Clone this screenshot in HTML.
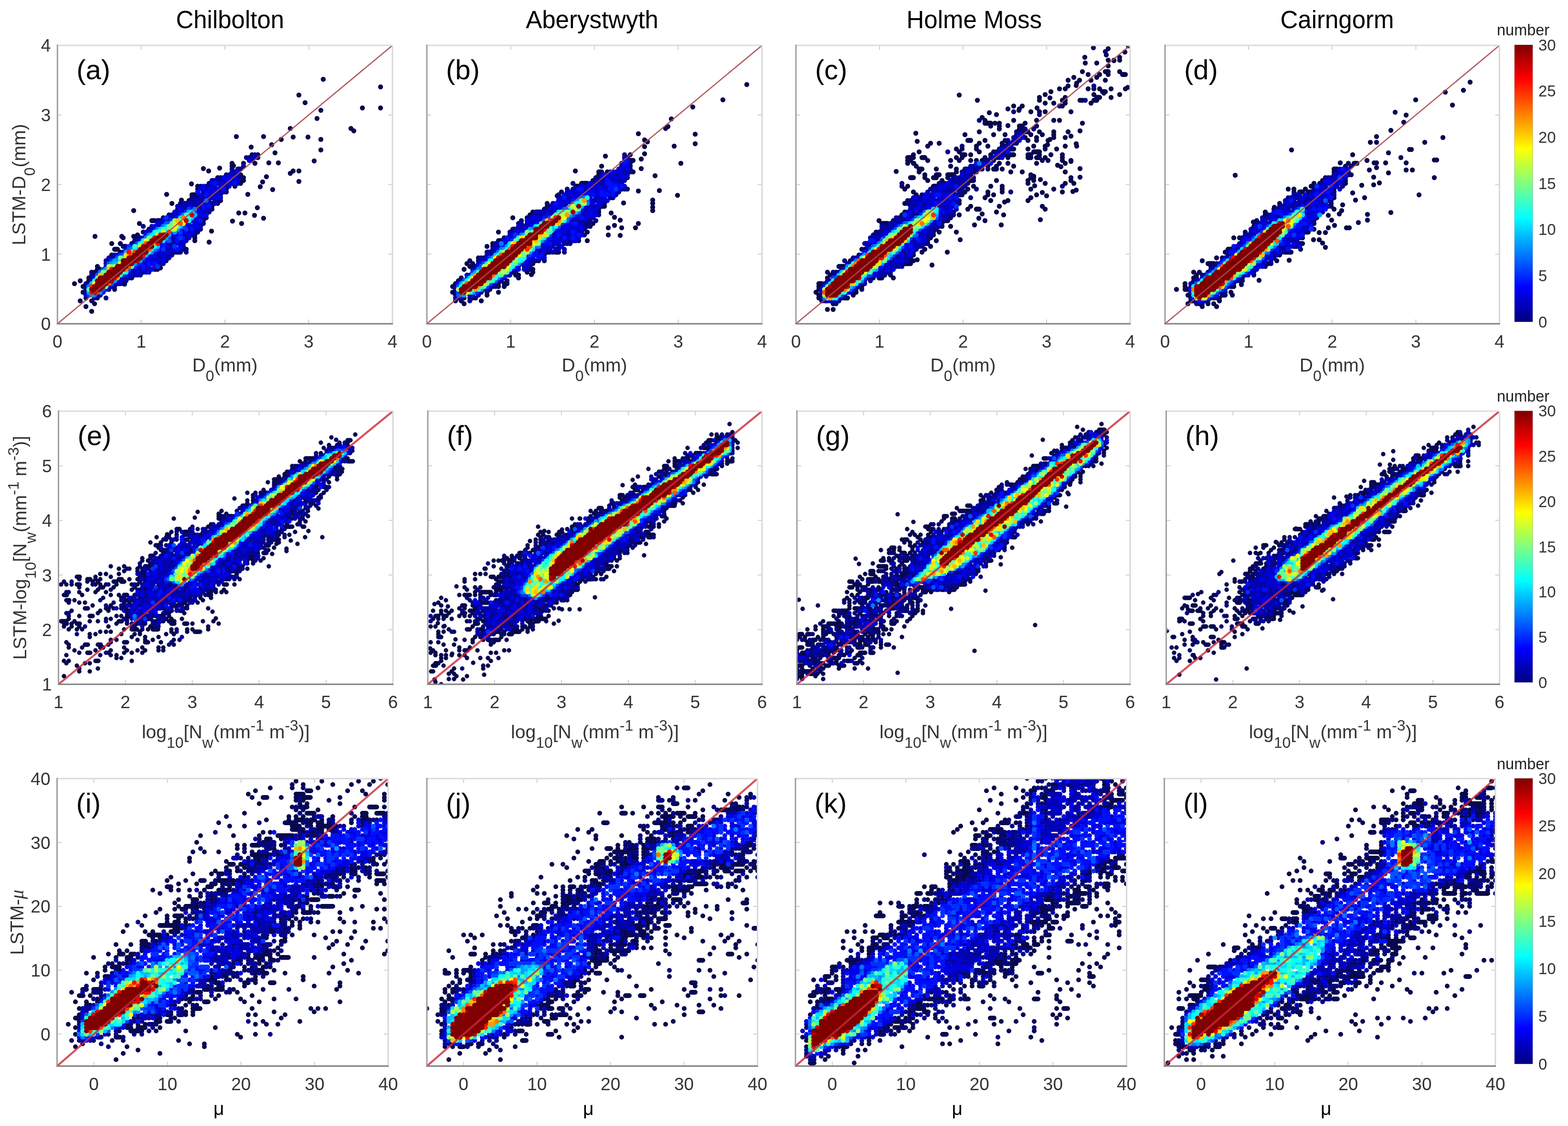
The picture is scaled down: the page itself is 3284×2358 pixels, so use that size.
<!DOCTYPE html><html><head><meta charset="utf-8"><title>LSTM scatter</title><style>html,body{margin:0;padding:0;background:#fff;overflow:hidden}svg{display:block}</style></head><body>
<svg xmlns="http://www.w3.org/2000/svg" width="3284" height="2358" viewBox="0 0 3284 2358" font-family="Liberation Sans, Arial, sans-serif">
<rect width="100%" height="100%" fill="#fff"/>
<defs><linearGradient id="jet" x1="0" y1="1" x2="0" y2="0"><stop offset="0.0000" stop-color="#000080"/><stop offset="0.0312" stop-color="#00009f"/><stop offset="0.0625" stop-color="#0000bf"/><stop offset="0.0938" stop-color="#0000df"/><stop offset="0.1250" stop-color="#0000ff"/><stop offset="0.1562" stop-color="#0020ff"/><stop offset="0.1875" stop-color="#0040ff"/><stop offset="0.2188" stop-color="#0060ff"/><stop offset="0.2500" stop-color="#0080ff"/><stop offset="0.2812" stop-color="#009fff"/><stop offset="0.3125" stop-color="#00bfff"/><stop offset="0.3438" stop-color="#00dfff"/><stop offset="0.3750" stop-color="#00ffff"/><stop offset="0.4062" stop-color="#20ffdf"/><stop offset="0.4375" stop-color="#40ffbf"/><stop offset="0.4688" stop-color="#60ff9f"/><stop offset="0.5000" stop-color="#80ff80"/><stop offset="0.5312" stop-color="#9fff60"/><stop offset="0.5625" stop-color="#bfff40"/><stop offset="0.5938" stop-color="#dfff20"/><stop offset="0.6250" stop-color="#ffff00"/><stop offset="0.6562" stop-color="#ffdf00"/><stop offset="0.6875" stop-color="#ffbf00"/><stop offset="0.7188" stop-color="#ff9f00"/><stop offset="0.7500" stop-color="#ff8000"/><stop offset="0.7812" stop-color="#ff6000"/><stop offset="0.8125" stop-color="#ff4000"/><stop offset="0.8438" stop-color="#ff2000"/><stop offset="0.8750" stop-color="#ff0000"/><stop offset="0.9062" stop-color="#df0000"/><stop offset="0.9375" stop-color="#bf0000"/><stop offset="0.9688" stop-color="#9f0000"/><stop offset="1.0000" stop-color="#800000"/></linearGradient>
<clipPath id="c00"><rect x="120.3" y="95.0" width="701.7" height="583.0"/></clipPath>
<clipPath id="c01"><rect x="894.0" y="95.0" width="702.0" height="583.0"/></clipPath>
<clipPath id="c02"><rect x="1667.0" y="95.0" width="700.0" height="583.0"/></clipPath>
<clipPath id="c03"><rect x="2440.0" y="95.0" width="700.5" height="583.0"/></clipPath>
<clipPath id="c10"><rect x="122.5" y="861.0" width="700.5" height="572.0"/></clipPath>
<clipPath id="c11"><rect x="896.0" y="861.0" width="700.0" height="572.0"/></clipPath>
<clipPath id="c12"><rect x="1669.0" y="861.0" width="698.0" height="572.0"/></clipPath>
<clipPath id="c13"><rect x="2442.5" y="861.0" width="698.1" height="572.0"/></clipPath>
<clipPath id="c20"><rect x="119.5" y="1630.5" width="693.5" height="602.0"/></clipPath>
<clipPath id="c21"><rect x="894.0" y="1630.5" width="692.5" height="602.0"/></clipPath>
<clipPath id="c22"><rect x="1666.0" y="1630.5" width="693.5" height="602.0"/></clipPath>
<clipPath id="c23"><rect x="2438.5" y="1630.5" width="693.5" height="602.0"/></clipPath>
</defs>
<text x="368.4" y="59" font-size="51" fill="#000">Chilbolton</text>
<text x="1101.2" y="59" font-size="51" fill="#000">Aberystwyth</text>
<text x="1898.5" y="59" font-size="51" fill="#000">Holme Moss</text>
<text x="2681.5" y="59" font-size="51" fill="#000">Cairngorm</text>
<g clip-path="url(#c00)">
<path d="M677 166h0M797 182h0M626 199h0M639 215h0M759 226h0M797 226h0M672 231h0M664 248h0M608 269h0M735 269h0M741 274h0M495 286h0M552 286h0M614 287h0M645 287h0M672 292h0M589 292h0M569 303h0M526 308h0M672 314h0M576 320h0M528 324h0M540 324h0M522 330h0M658 337h0M563 341h0M583 341h0M486 342h0M510 342h0M534 342h0M489 347h0M486 348h0M460 352h0M426 353h0M437 358h0M614 358h0M626 358h0M608 363h0M504 366h0M558 370h0M456 372h0M510 372h0M504 378h6M626 380h0M550 381h0M504 384h0M401 385h0M414 390h0M492 390h0M545 391h0M414 396h0M571 397h0M474 402h0M349 407h0M519 407h0M402 408h6M380 419h0M396 420h0M462 420h0M360 426h0M378 426h0M456 426h0M444 432h0M539 435h0M372 438h0M280 441h0M500 446h0M513 446h0M533 451h0M342 456h0M552 457h0M318 462h6M487 463h0M292 468h0M506 468h0M312 480h0M443 484h0M288 492h0M199 495h0M255 495h0M280 495h0M258 498h0M408 498h0M408 504h0M438 507h0M234 510h0M252 510h0M276 510h0M240 522h6M384 522h6M252 528h0M234 534h0M228 546h0M348 546h0M204 558h0M336 561h0M204 564h6M324 564h6M198 570h0M300 570h0M186 582h6M168 588h0M186 588h0M156 594h0M258 594h0M261 595h0M174 600h0M228 606h0M240 606h0M174 612h0M180 624h0M204 624h0M168 630h0M192 630h0M198 636h0M180 642h0M192 652h0" stroke="#08084f" stroke-width="10.4" stroke-linecap="round" fill="none"/><path d="M516 330h0M540 330h0M528 336h0M486 354h0M498 354h6M474 366h0M462 372h0M498 372h6M480 378h0M438 384h0M456 384h0M498 384h0M420 390h0M438 390h0M474 396h0M426 402h0M450 402h0M414 408h0M462 408h0M402 414h18M438 414h0M402 420h0M456 420h0M444 426h0M390 432h0M420 432h0M420 438h0M438 438h6M384 444h0M414 444h0M438 444h0M354 450h0M360 456h0M426 456h6M330 462h6M348 462h0M426 462h0M408 468h0M420 468h6M300 474h0M420 480h0M300 486h0M372 486h0M408 486h6M390 492h0M408 492h0M288 498h6M390 498h0M282 504h6M384 510h0M258 516h6M354 522h0M360 528h18M390 528h0M312 534h0M330 534h0M354 534h6M234 540h0M222 552h0M330 552h0M192 570h0M204 570h0M282 570h0M192 576h6M288 576h0M252 582h0M276 582h0M258 588h6M180 594h6M180 600h0M240 600h0M180 606h0M180 612h0M210 618h0M198 624h0M222 624h0" stroke="#060680" stroke-width="10.4" stroke-linecap="round" fill="none"/><path d="M534 324h0M528 330h6M510 348h0M486 360h6M480 366h18M486 372h0M444 378h24M468 384h6M486 384h0M432 390h0M444 390h6M462 390h18M432 396h0M462 396h0M456 402h12M426 408h0M438 408h12M426 414h6M444 414h0M456 414h0M408 420h18M438 420h0M450 420h0M384 426h54M450 426h0M372 432h12M402 432h12M384 438h6M432 438h0M372 444h0M426 444h6M360 450h12M420 450h0M366 456h0M420 456h0M354 462h0M408 462h0M342 468h0M414 468h0M318 474h0M330 474h6M396 474h0M420 474h0M318 480h0M384 480h0M396 480h0M408 480h6M306 486h6M384 486h0M396 486h0M360 492h0M384 492h0M402 492h0M360 498h6M396 498h0M360 504h6M378 504h0M390 504h0M282 510h0M348 510h18M378 510h0M354 516h6M384 516h0M264 522h0M348 522h0M360 522h0M378 522h0M258 528h0M330 528h0M348 528h0M240 534h0M318 534h0M336 534h12M228 540h0M240 540h0M324 540h12M348 540h6M222 546h0M300 546h0M324 546h0M336 546h0M300 552h6M336 552h6M288 558h6M306 558h0M324 558h0M276 564h6M294 564h0M306 564h0M276 570h0M294 570h0M306 570h0M270 576h12M294 576h0M258 582h12M240 594h12M234 600h0M180 618h0M204 618h0" stroke="#0303b0" stroke-width="10.4" stroke-linecap="round" fill="none"/><path d="M522 336h0M498 360h0M468 372h12M492 372h0M474 378h0M486 378h12M444 384h0M462 384h0M480 384h0M426 390h0M420 396h6M438 396h18M432 402h12M420 408h0M456 408h0M450 414h0M462 414h0M396 432h0M432 432h0M378 438h0M414 438h0M426 438h0M366 444h0M378 444h0M420 444h0M414 450h0M426 450h6M354 456h0M408 456h6M342 462h0M402 462h0M414 462h0M330 468h6M396 468h0M324 474h0M390 474h0M402 474h12M324 480h0M378 480h0M390 486h0M402 486h0M366 492h6M396 492h0M300 498h0M384 504h0M336 510h0M372 510h0M276 516h0M336 516h0M348 516h0M378 516h0M336 522h0M366 522h0M324 528h0M336 528h6M354 528h0M246 534h0M324 534h0M306 540h12M342 540h0M306 546h12M330 546h0M342 546h0M318 552h0M312 558h0M288 564h0M300 564h0M312 564h6M288 570h0M312 570h0M264 576h0M198 582h0M192 588h0M246 588h6M228 600h0M216 612h0" stroke="#0101e1" stroke-width="10.4" stroke-linecap="round" fill="none"/><path d="M450 384h0M492 384h0M468 396h0M414 402h0M432 408h0M426 432h0M438 432h0M402 438h0M378 450h0M372 456h0M420 462h0M390 468h0M402 480h0M318 486h0M306 492h0M378 492h0M354 498h0M372 498h0M384 498h0M294 504h0M348 504h0M372 504h0M342 510h0M342 516h0M372 522h0M294 552h0M312 552h0M324 552h0M222 558h0M300 558h0M270 570h0M222 606h0" stroke="#000dff" stroke-width="10.4" stroke-linecap="round" fill="none"/><path d="M396 438h0M390 444h0M408 444h0M348 456h0M360 462h0M384 474h0M390 480h0M360 486h0M378 486h0M378 498h0M270 516h0M366 516h0M330 522h0M342 522h0M252 534h0M234 546h0M288 552h0M282 558h0M330 558h0M258 576h0M186 618h0" stroke="#0030ff" stroke-width="10.4" stroke-linecap="round" fill="none"/><path d="M432 420h0M348 468h6M354 504h0M288 510h0M270 522h0M258 534h0M246 540h0M300 540h0M228 552h0M216 564h0M270 564h0M204 576h0M234 594h0M216 606h0" stroke="#0054ff" stroke-width="10.4" stroke-linecap="round" fill="none"/><path d="M408 438h0M384 450h0M342 474h0M330 480h0M312 492h0M306 498h0M276 522h0M324 522h0M318 528h0M210 570h0M186 600h0M198 618h0" stroke="#0077ff" stroke-width="10.4" stroke-linecap="round" fill="none"/><path d="M372 480h0M366 486h0M354 492h0M348 498h0M264 528h0M240 546h6M294 546h0M234 552h0M282 552h0M222 564h0M240 588h0M186 612h0M210 612h0M192 618h0" stroke="#009aff" stroke-width="10.4" stroke-linecap="round" fill="none"/><path d="M396 444h0M408 450h0M402 456h0M348 474h0M378 474h0M348 486h0M330 516h0M306 534h0M240 552h6M192 594h0" stroke="#00bdff" stroke-width="10.4" stroke-linecap="round" fill="none"/><path d="M402 444h0M378 456h0M336 480h0M318 492h0M342 504h0M288 516h0M282 522h6M318 522h0M252 546h0M216 576h0" stroke="#00e0ff" stroke-width="10.4" stroke-linecap="round" fill="none"/><path d="M390 456h0M396 462h0M360 474h0M348 480h0M324 486h0M324 492h0M300 504h0M300 510h0M324 516h0M264 570h0" stroke="#04fffb" stroke-width="10.4" stroke-linecap="round" fill="none"/><path d="M396 450h0M396 456h0M342 480h0M330 486h6M318 498h0M294 510h0M282 516h0M312 528h0M258 540h0M252 576h0M198 588h0" stroke="#28ffd7" stroke-width="10.4" stroke-linecap="round" fill="none"/><path d="M390 450h0M378 462h0M360 468h0M276 528h0M222 570h0M258 570h0M186 606h0" stroke="#4bffb4" stroke-width="10.4" stroke-linecap="round" fill="none"/><path d="M372 468h0M354 474h0M372 474h0M354 480h0M312 498h0M312 504h0M252 540h0M264 540h0M234 558h0M276 558h0M216 570h0M204 582h0M222 600h0" stroke="#6eff91" stroke-width="10.4" stroke-linecap="round" fill="none"/><path d="M366 462h0M366 468h0M360 480h6M228 558h0M240 558h0" stroke="#b4ff4b" stroke-width="10.4" stroke-linecap="round" fill="none"/><path d="M342 486h0M330 492h0" stroke="#d7ff28" stroke-width="10.4" stroke-linecap="round" fill="none"/><path d="M384 462h0M384 468h0M366 474h0M306 504h0M294 516h0M252 552h0M198 594h0" stroke="#fbff04" stroke-width="10.4" stroke-linecap="round" fill="none"/><path d="M324 510h0M264 534h0" stroke="#ffe000" stroke-width="10.4" stroke-linecap="round" fill="none"/><path d="M372 462h0M270 534h0M228 564h0M210 576h0" stroke="#ffbd00" stroke-width="10.4" stroke-linecap="round" fill="none"/><path d="M246 582h0" stroke="#ff9a00" stroke-width="10.4" stroke-linecap="round" fill="none"/><path d="M384 456h0M264 564h0" stroke="#ff7700" stroke-width="10.4" stroke-linecap="round" fill="none"/><path d="M378 468h0M306 510h0M312 522h0M282 528h0M276 534h0M270 558h0M228 594h0" stroke="#ff5400" stroke-width="10.4" stroke-linecap="round" fill="none"/><path d="M354 486h0M192 600h0M204 612h0" stroke="#ff3000" stroke-width="10.4" stroke-linecap="round" fill="none"/><path d="M330 510h0M270 528h0M300 534h0M192 612h0" stroke="#ff0d00" stroke-width="10.4" stroke-linecap="round" fill="none"/><path d="M324 498h0M234 564h0" stroke="#e90000" stroke-width="10.4" stroke-linecap="round" fill="none"/><path d="M402 450h0M390 462h0M336 492h0M288 546h0M240 582h0" stroke="#c60000" stroke-width="10.4" stroke-linecap="round" fill="none"/><path d="M300 516h0M234 588h0" stroke="#a30000" stroke-width="10.4" stroke-linecap="round" fill="none"/><path d="M342 492h6M330 498h12M318 504h18M312 510h6M306 516h12M294 522h12M288 528h18M282 534h12M270 540h24M258 546h24M258 552h18M246 558h18M240 564h18M228 570h24M222 576h24M210 582h24M204 588h24M204 594h18M198 600h18M192 606h18M198 612h0" stroke="#800000" stroke-width="10.4" stroke-linecap="round" fill="none"/>
</g>
<line x1="120.3" y1="678.0" x2="822.0" y2="95.0" stroke="#a84a4e" stroke-opacity="0.9" stroke-width="2.6" clip-path="url(#c00)"/>
<path d="M295.7 678.0v-9M295.7 95.0v9M471.2 678.0v-9M471.2 95.0v9M646.6 678.0v-9M646.6 95.0v9M120.3 532.2h9M822.0 532.2h-9M120.3 386.5h9M822.0 386.5h-9M120.3 240.8h9M822.0 240.8h-9" stroke="#cfcfcf" stroke-width="2" fill="none"/>
<path d="M120.3 95.0H822.0" stroke="#dcdcdc" stroke-width="3"/>
<path d="M822.0 95.0V678.0" stroke="#d8d8d8" stroke-width="3"/>
<path d="M120.3 93.5V678.0" stroke="#a0a0a0" stroke-width="3"/>
<path d="M118.8 678.0H823.0" stroke="#808080" stroke-width="3"/>
<text x="120.3" y="728.0" font-size="37" fill="#333" text-anchor="middle">0</text>
<text x="295.7" y="728.0" font-size="37" fill="#333" text-anchor="middle">1</text>
<text x="471.2" y="728.0" font-size="37" fill="#333" text-anchor="middle">2</text>
<text x="646.6" y="728.0" font-size="37" fill="#333" text-anchor="middle">3</text>
<text x="822.0" y="728.0" font-size="37" fill="#333" text-anchor="middle">4</text>
<text x="106.3" y="691.3" font-size="37" fill="#333" text-anchor="end">0</text>
<text x="106.3" y="545.5" font-size="37" fill="#333" text-anchor="end">1</text>
<text x="106.3" y="399.8" font-size="37" fill="#333" text-anchor="end">2</text>
<text x="106.3" y="254.1" font-size="37" fill="#333" text-anchor="end">3</text>
<text x="106.3" y="108.3" font-size="37" fill="#333" text-anchor="end">4</text>
<text x="160.3" y="166.0" font-size="58" fill="#000">(a)</text>
<g clip-path="url(#c01)">
<path d="M1564 177h0M1514 209h0M1451 224h0M1406 249h0M1399 265h0M1394 269h0M1337 280h0M1456 281h0M1350 293h0M1356 297h0M1456 301h0M1412 306h0M1350 307h0M1350 322h0M1320 324h0M1268 327h0M1314 330h0M1343 333h0M1320 336h6M1426 342h0M1260 348h0M1302 348h0M1343 353h0M1205 358h0M1254 360h6M1272 360h0M1314 360h0M1326 360h0M1254 366h0M1372 368h0M1248 372h0M1314 372h0M1242 378h0M1218 384h12M1206 390h6M1302 396h0M1314 396h0M1381 399h0M1337 400h0M1176 402h0M1419 409h0M1167 410h0M1367 419h0M1306 425h0M1146 426h0M1266 426h0M1367 426h0M1146 432h0M1260 432h6M1367 434h0M1254 438h0M1367 441h0M1116 444h0M1254 444h0M1280 446h0M1110 450h0M1287 455h0M1074 456h0M1299 461h0M1092 462h0M1236 462h0M1337 468h0M1242 468h0M1287 472h0M1236 474h0M1274 477h0M1302 477h0M1331 477h0M1044 486h0M1230 486h0M1274 492h0M1299 493h0M1056 498h0M1044 504h6M1194 504h0M1212 504h0M1230 504h0M1032 510h0M1194 510h0M1020 516h0M1032 516h0M1146 522h0M1146 528h6M1164 528h6M1140 534h0M1002 540h0M1014 540h0M984 546h0M1128 546h0M1140 546h0M978 552h0M990 552h0M1116 552h0M984 558h12M972 564h0M1110 564h6M1074 570h6M1104 570h0M1116 570h0M1113 575h0M1080 576h6M966 582h0M1086 582h0M960 588h0M1062 588h0M954 594h0M1038 594h6M1056 594h6M948 600h0M1032 600h0M1044 600h0M1056 600h0M1026 606h0M948 612h0M1008 612h0M1020 612h0M1044 612h0M954 618h0M1020 618h0M960 624h0M972 624h0M996 624h0M954 630h0M966 630h0M1008 630h0M972 636h0" stroke="#08084f" stroke-width="10.4" stroke-linecap="round" fill="none"/><path d="M1308 324h0M1302 342h0M1320 342h0M1320 348h0M1320 354h0M1320 360h0M1290 366h6M1254 372h0M1278 378h0M1296 378h0M1308 378h0M1200 384h0M1224 390h0M1272 390h0M1188 396h0M1200 396h0M1308 396h0M1266 402h0M1296 402h0M1170 408h0M1218 408h0M1236 408h0M1170 414h0M1188 414h0M1278 414h6M1158 426h0M1152 432h0M1230 432h0M1242 432h0M1140 438h6M1224 438h6M1158 444h0M1116 450h6M1140 450h0M1212 450h0M1254 450h0M1104 456h6M1230 462h0M1248 462h0M1086 468h0M1104 468h6M1212 468h24M1224 474h6M1074 480h6M1170 480h0M1188 480h0M1224 480h0M1068 486h6M1194 486h0M1218 486h0M1158 492h0M1224 492h0M1188 504h0M1182 510h0M1134 522h0M1020 528h6M1038 528h0M1182 528h0M1008 540h0M1134 540h0M1002 546h0M1116 546h6M1086 558h0M1098 558h0M1110 558h0M1080 564h0M1104 564h0M1050 588h0M954 600h0M1038 600h0M954 612h0M984 624h6M984 630h0" stroke="#060680" stroke-width="10.4" stroke-linecap="round" fill="none"/><path d="M1308 330h0M1308 336h0M1308 354h0M1278 360h0M1290 360h0M1302 360h6M1260 366h0M1272 366h0M1284 366h0M1308 366h6M1260 372h6M1284 372h0M1296 372h0M1248 378h18M1284 378h6M1302 378h0M1242 384h0M1254 384h12M1296 384h6M1236 390h12M1260 390h6M1224 396h6M1248 396h0M1284 396h0M1188 402h0M1200 402h6M1224 402h6M1242 402h6M1278 402h0M1290 402h0M1188 408h6M1206 408h0M1224 408h0M1254 408h0M1278 408h0M1290 408h0M1176 414h0M1194 414h6M1212 414h0M1236 414h0M1248 414h18M1176 420h6M1194 420h0M1242 420h6M1266 420h0M1170 426h0M1182 426h12M1236 426h0M1254 426h6M1176 432h6M1236 432h0M1248 432h0M1158 438h12M1242 438h0M1122 444h30M1164 444h0M1224 444h0M1242 444h6M1128 450h6M1152 450h0M1218 450h12M1134 456h0M1200 456h0M1212 456h0M1236 456h6M1116 462h0M1128 462h6M1194 462h30M1092 468h0M1116 468h6M1188 468h0M1086 474h18M1176 474h0M1200 474h0M1092 480h0M1104 480h0M1176 480h6M1200 480h12M1086 486h0M1164 486h0M1188 486h0M1212 486h0M1068 492h0M1086 492h0M1164 492h0M1176 492h18M1206 492h0M1074 498h0M1158 498h0M1170 498h6M1194 498h0M1062 504h6M1152 504h6M1176 504h6M1038 510h6M1056 510h0M1140 510h0M1158 510h12M1188 510h0M1038 516h6M1158 516h0M1170 516h0M1032 522h6M1128 522h0M1152 522h0M1164 522h6M1182 522h0M1032 528h0M1128 528h6M1158 528h0M1020 534h12M1128 534h0M1008 546h6M1110 546h0M1002 552h0M1092 552h0M1104 552h6M990 564h6M1098 564h0M978 576h0M1062 576h6M966 588h0M1044 588h0M954 606h0M1014 606h6M984 618h6M1002 618h0M954 624h0M966 624h0" stroke="#0303b0" stroke-width="10.4" stroke-linecap="round" fill="none"/><path d="M1314 342h0M1308 348h6M1296 354h6M1314 354h0M1284 360h0M1296 360h0M1278 366h0M1302 366h0M1272 372h6M1290 372h0M1302 372h6M1236 384h0M1284 384h6M1218 390h0M1230 390h0M1254 390h0M1296 390h0M1308 390h0M1206 396h0M1236 396h6M1254 396h18M1296 396h0M1194 402h0M1212 402h6M1236 402h0M1254 402h0M1272 402h0M1182 408h0M1200 408h0M1212 408h0M1248 408h0M1206 414h0M1170 420h0M1188 420h0M1206 420h0M1236 420h0M1254 420h6M1272 420h0M1176 426h0M1242 426h0M1158 432h12M1224 432h0M1254 432h0M1152 438h0M1176 438h0M1236 438h0M1248 438h0M1218 444h0M1230 444h6M1146 450h0M1236 450h12M1116 456h12M1206 456h0M1224 456h6M1104 462h6M1122 462h0M1182 468h0M1194 468h0M1110 474h0M1182 474h12M1206 474h12M1086 480h0M1098 480h0M1194 480h0M1218 480h0M1080 486h0M1092 486h6M1170 486h12M1206 486h0M1074 492h0M1200 492h0M1218 492h0M1068 498h0M1146 498h0M1164 498h0M1188 498h0M1206 498h6M1056 504h0M1146 504h0M1164 504h6M1200 504h6M1062 510h0M1134 510h0M1146 510h0M1134 516h18M1176 516h0M1044 522h0M1122 522h0M1140 522h0M1122 528h0M1140 528h0M1020 540h0M1104 540h12M1140 540h0M1020 546h0M1104 546h0M1098 552h0M1104 558h0M1074 564h0M1086 564h0M1068 570h0M984 576h0M1050 582h6M960 594h0M1032 594h0M1026 600h0" stroke="#0101e1" stroke-width="10.4" stroke-linecap="round" fill="none"/><path d="M1314 336h0M1308 342h0M1266 366h0M1272 378h0M1272 384h6M1278 390h12M1302 390h0M1212 396h6M1278 396h0M1260 402h0M1284 402h0M1230 408h0M1242 408h0M1260 408h12M1284 408h0M1182 414h0M1200 420h0M1164 426h0M1218 438h0M1206 450h0M1140 456h6M1218 456h0M1128 468h0M1200 468h6M1116 474h0M1164 480h0M1200 486h0M1170 492h0M1212 492h0M1062 498h0M1152 498h0M1182 498h0M1200 498h0M1152 510h0M1050 516h6M1116 528h0M1104 534h0M1116 534h6M1134 534h0M1128 540h0M1008 552h0M1002 558h0M1080 558h0M1002 612h0" stroke="#000dff" stroke-width="10.4" stroke-linecap="round" fill="none"/><path d="M1290 396h0M1194 456h0M1176 468h0M1080 492h0M1152 492h0M1080 498h0M1074 504h0M1140 504h0M1110 534h0M1026 540h0M990 570h0M1056 576h0M978 582h0M1020 600h0M960 612h0M996 612h0" stroke="#0030ff" stroke-width="10.4" stroke-linecap="round" fill="none"/><path d="M1218 414h0M1230 420h0M1200 426h0M1182 438h6M1212 444h0M1200 450h0M1152 456h0M1140 462h0M1188 462h0M1170 474h0M1122 516h0M1014 552h0M1008 558h0M972 588h0M1038 588h0M1026 594h0M960 600h0M960 618h0" stroke="#0054ff" stroke-width="10.4" stroke-linecap="round" fill="none"/><path d="M1224 414h0M1230 426h0M1188 456h0M1116 480h0M1092 492h0M1050 510h0M1128 516h0M1050 522h0M1044 528h0M1002 564h6M1056 564h0M1044 582h0M966 618h0" stroke="#0077ff" stroke-width="10.4" stroke-linecap="round" fill="none"/><path d="M1212 420h0M1194 438h0M1194 450h0M1158 474h0M1110 480h0M1134 504h0M1062 516h0M1056 522h0M1110 528h0M1032 540h0M1086 552h0M996 570h0M966 594h0M1008 606h0M972 618h0" stroke="#009aff" stroke-width="10.4" stroke-linecap="round" fill="none"/><path d="M1218 432h0M1206 444h0M1158 480h0M1098 492h0M1038 534h0M990 576h0M1038 576h0M990 612h0" stroke="#00bdff" stroke-width="10.4" stroke-linecap="round" fill="none"/><path d="M1170 444h0M1122 474h0M1110 486h0M1146 486h0M1140 498h0M1086 504h0M1068 510h0M1116 522h0M1092 546h0M984 582h0" stroke="#00e0ff" stroke-width="10.4" stroke-linecap="round" fill="none"/><path d="M1230 414h0M1206 426h6M1206 432h0M1182 462h0M1164 474h0M1068 516h0M1062 522h0M1098 540h0M1026 546h0M1020 552h0M1074 558h0M1068 564h0M1044 576h0M978 588h0M966 600h0" stroke="#04fffb" stroke-width="10.4" stroke-linecap="round" fill="none"/><path d="M1200 438h0M1182 444h0M1134 468h0M1128 474h0M1152 474h0M1152 486h0M1086 498h0M1128 504h0M1044 534h0M1086 540h6M1032 546h0M1086 546h0M1074 552h0M1038 582h0M1032 588h0M1002 606h0" stroke="#28ffd7" stroke-width="10.4" stroke-linecap="round" fill="none"/><path d="M1194 432h0M1212 438h0M1176 444h0M1164 450h0M1176 456h0M1104 492h0M1134 498h0M1116 516h0M1050 528h0M1074 546h0M1080 552h0M1002 570h0M1062 570h0M1050 576h0M1032 582h0M1020 588h6M972 594h0M1008 600h6M990 606h0M984 612h0" stroke="#4bffb4" stroke-width="10.4" stroke-linecap="round" fill="none"/><path d="M1218 420h0M1218 426h0M1194 444h0M1146 480h6M1116 486h0M1134 492h0M1080 504h0M1092 528h6M1092 534h6M1068 558h0M1050 564h0M1020 594h0" stroke="#6eff91" stroke-width="10.4" stroke-linecap="round" fill="none"/><path d="M1188 444h0M1176 462h0M1104 486h0M1140 486h0M1146 492h0M1128 510h0M1110 522h0M1080 540h0M1080 546h0M1068 552h0M1044 570h6" stroke="#91ff6e" stroke-width="10.4" stroke-linecap="round" fill="none"/><path d="M1224 426h0M1206 438h0M1170 450h12M1158 456h0M1122 510h0M1056 528h0M1104 528h0M1014 558h0M1062 564h0M1056 570h0M984 588h0M960 606h0" stroke="#b4ff4b" stroke-width="10.4" stroke-linecap="round" fill="none"/><path d="M1200 432h0M1026 552h0M1020 558h0M1062 558h0" stroke="#d7ff28" stroke-width="10.4" stroke-linecap="round" fill="none"/><path d="M1182 456h0M1164 468h0M1098 498h0M1116 504h0M1074 510h0M1116 510h0M1086 534h0M1038 540h0M978 612h0" stroke="#fbff04" stroke-width="10.4" stroke-linecap="round" fill="none"/><path d="M1140 492h0M1092 498h0M1128 498h0M1098 522h0M990 582h0M1014 594h0" stroke="#ffe000" stroke-width="10.4" stroke-linecap="round" fill="none"/><path d="M1146 462h0M1170 468h0M1128 492h0M1122 504h0M1080 510h0M1104 516h0" stroke="#ffbd00" stroke-width="10.4" stroke-linecap="round" fill="none"/><path d="M1224 420h0M1188 450h0M1170 462h0M996 576h0M1002 600h0M996 606h0" stroke="#ff9a00" stroke-width="10.4" stroke-linecap="round" fill="none"/><path d="M1032 576h0" stroke="#ff7700" stroke-width="10.4" stroke-linecap="round" fill="none"/><path d="M1110 516h0M1068 522h0M1050 534h0M978 594h0" stroke="#ff5400" stroke-width="10.4" stroke-linecap="round" fill="none"/><path d="M1152 462h0M1104 522h0" stroke="#ff3000" stroke-width="10.4" stroke-linecap="round" fill="none"/><path d="M1074 516h0" stroke="#ff0d00" stroke-width="10.4" stroke-linecap="round" fill="none"/><path d="M1164 456h0M1140 480h0" stroke="#e90000" stroke-width="10.4" stroke-linecap="round" fill="none"/><path d="M1134 486h0M1044 540h0M1026 582h0" stroke="#c60000" stroke-width="10.4" stroke-linecap="round" fill="none"/><path d="M1200 444h0M1038 570h0" stroke="#a30000" stroke-width="10.4" stroke-linecap="round" fill="none"/><path d="M1212 432h0M1170 456h0M1158 462h6M1140 468h18M1134 474h12M1122 480h12M1122 486h6M1110 492h12M1104 498h18M1092 504h18M1086 510h24M1080 516h18M1074 522h18M1062 528h24M1056 534h24M1050 540h24M1038 546h30M1032 552h30M1026 558h30M1014 564h30M1008 570h24M1002 576h24M996 582h24M990 588h24M984 594h24M972 600h24M966 606h18M966 612h6" stroke="#800000" stroke-width="10.4" stroke-linecap="round" fill="none"/>
</g>
<line x1="894.0" y1="678.0" x2="1596.0" y2="95.0" stroke="#a84a4e" stroke-opacity="0.9" stroke-width="2.6" clip-path="url(#c01)"/>
<path d="M1069.5 678.0v-9M1069.5 95.0v9M1245.0 678.0v-9M1245.0 95.0v9M1420.5 678.0v-9M1420.5 95.0v9M894.0 532.2h9M1596.0 532.2h-9M894.0 386.5h9M1596.0 386.5h-9M894.0 240.8h9M1596.0 240.8h-9" stroke="#cfcfcf" stroke-width="2" fill="none"/>
<path d="M894.0 95.0H1596.0" stroke="#dcdcdc" stroke-width="3"/>
<path d="M1596.0 95.0V678.0" stroke="#d8d8d8" stroke-width="3"/>
<path d="M894.0 93.5V678.0" stroke="#a0a0a0" stroke-width="3"/>
<path d="M892.5 678.0H1597.0" stroke="#808080" stroke-width="3"/>
<text x="894.0" y="728.0" font-size="37" fill="#333" text-anchor="middle">0</text>
<text x="1069.5" y="728.0" font-size="37" fill="#333" text-anchor="middle">1</text>
<text x="1245.0" y="728.0" font-size="37" fill="#333" text-anchor="middle">2</text>
<text x="1420.5" y="728.0" font-size="37" fill="#333" text-anchor="middle">3</text>
<text x="1596.0" y="728.0" font-size="37" fill="#333" text-anchor="middle">4</text>
<text x="934.0" y="166.0" font-size="58" fill="#000">(b)</text>
<g clip-path="url(#c02)">
<path d="M2363 90h0M2363 96h0M2290 100h0M2321 102h0M2356 109h0M2317 115h0M2345 120h0M2272 120h0M2321 126h0M2333 126h0M2345 126h0M2333 127h0M2273 132h0M2297 132h0M2321 138h0M2267 150h0M2315 150h6M2345 150h0M2279 156h0M2303 156h0M2321 156h0M2351 156h6M2249 162h0M2297 162h0M2237 168h0M2261 168h0M2285 168h0M2315 168h0M2255 174h0M2254 179h0M2237 180h0M2362 183h0M2219 186h0M2231 186h0M2279 186h0M2291 186h0M2303 186h0M2327 186h0M2357 186h0M2201 192h0M2309 192h6M2312 195h0M2189 198h0M2291 198h0M2345 198h0M2009 199h0M2177 204h0M2231 204h0M2297 204h6M2327 204h0M2199 205h0M2047 210h0M2262 210h0M2177 210h0M2225 210h6M2267 210h0M2291 210h6M2189 216h0M2207 216h0M2231 216h0M2285 216h0M2123 222h0M2141 222h0M2225 222h0M2172 226h0M2111 228h0M2135 228h0M2134 231h0M2159 234h0M2177 234h0M2189 234h0M2243 234h0M2072 236h0M2087 240h0M2057 246h0M2063 252h0M2123 252h0M2171 252h0M2207 252h0M2219 252h0M2063 258h12M2084 258h0M2093 258h0M2147 258h0M2267 258h0M2111 263h0M2075 264h0M2093 264h0M2135 264h6M2171 264h0M2093 270h0M2135 270h6M2262 274h0M2051 276h0M2147 276h6M2177 276h0M2207 276h0M2237 276h0M1918 279h0M2021 282h0M2081 282h0M2105 282h0M2159 282h0M2183 282h0M2207 282h0M2243 285h0M2147 288h0M2171 288h0M2207 288h0M2231 288h0M2199 292h0M2027 294h6M2063 294h0M2105 294h0M2153 294h0M2171 294h0M2195 294h0M1921 296h0M1949 300h0M1967 300h0M2051 300h0M2099 300h0M2111 300h0M2129 300h0M2254 301h0M2194 303h0M1943 306h0M2045 306h0M2069 306h0M2099 306h0M2165 306h0M2189 306h0M2231 306h0M2255 306h0M2003 312h0M2015 312h0M2045 312h0M2117 312h6M2153 312h0M2189 312h0M2213 312h0M1925 318h0M2009 318h0M2051 318h0M2081 318h0M2165 318h12M1913 324h0M2015 324h6M2033 324h0M2075 324h0M2105 324h18M2153 324h6M2177 324h0M2201 324h0M2225 324h0M1901 330h12M1931 330h6M2003 330h0M2015 330h0M2063 330h0M2093 330h0M2111 330h0M2153 330h6M2171 330h6M2189 330h0M2225 330h0M1901 336h6M1943 336h0M1991 336h0M2009 336h0M2033 336h0M2045 336h0M2057 336h6M2081 336h0M2183 336h0M2195 336h0M2225 336h0M2243 336h0M2243 338h0M1901 342h0M1913 342h0M2093 342h0M2111 342h0M2171 342h0M2231 342h0M1914 342h0M2215 346h0M1919 348h0M1991 348h0M2069 348h0M2087 348h0M2123 348h0M2222 349h0M2262 353h0M1925 354h6M1961 354h0M2003 354h0M2069 354h0M2081 354h6M2099 354h0M1877 359h0M1925 360h0M2003 360h0M2045 360h0M2117 360h0M2141 360h0M2231 360h0M1937 366h0M1961 366h6M1985 366h12M2033 366h0M2159 366h0M2165 369h0M2262 371h0M1907 372h6M1937 372h0M1955 372h6M1985 372h0M2159 372h6M2243 372h0M2179 376h0M1943 378h0M1973 378h0M2033 378h6M2087 378h0M2153 378h0M2165 378h0M2243 378h0M1973 384h0M2153 384h0M2189 384h0M2231 384h0M2249 384h0M2167 389h0M1889 390h0M1901 390h0M1955 390h6M2039 390h0M2075 390h0M2099 390h0M1895 396h0M2015 396h0M2027 396h0M2099 396h0M2159 396h0M2207 396h0M2254 398h0M2247 401h0M1913 402h0M2021 402h0M2069 402h0M2099 402h0M2225 402h0M2183 403h0M1919 408h0M1931 408h0M2009 408h6M2069 408h0M2081 408h0M2171 408h0M2192 410h0M2063 414h0M2159 414h0M1901 420h0M2009 420h0M2075 420h0M2111 420h0M2153 420h0M2104 423h0M1895 426h0M2009 426h0M2033 432h0M2093 432h0M2183 432h0M2027 438h0M2045 438h6M2189 438h0M1895 444h0M1997 444h0M2087 444h0M2057 448h0M2102 450h0M1889 450h0M1991 450h0M2009 450h0M1883 456h0M2050 457h0M2179 460h0M1841 462h0M1871 462h0M1979 462h6M2063 462h0M1847 468h12M2041 471h0M2097 471h0M1973 474h0M1991 474h0M1847 480h0M1955 480h6M1835 486h0M1967 486h0M2003 486h0M1955 492h0M1949 498h0M2011 502h0M1931 504h0M1943 504h0M1961 504h0M1949 516h0M1805 522h0M1937 522h0M1913 528h0M1931 528h0M1984 528h0M1799 534h0M1913 534h0M1907 540h0M1921 544h0M1781 546h0M1907 546h6M1895 552h12M1952 555h0M1757 558h12M1733 570h0M1751 570h0M1859 570h0M1739 576h0M1865 576h0M1733 582h0M1829 582h0M1841 582h6M1871 582h0M1715 594h6M1805 594h0M1715 600h6M1799 600h6M1715 606h0M1805 606h0M1709 612h0M1787 612h6M1715 618h0M1787 618h0M1715 624h0M1769 624h6M1721 630h0M1745 636h0M1733 648h0M1745 648h0" stroke="#08084f" stroke-width="10.4" stroke-linecap="round" fill="none"/><path d="M2315 108h0M2291 180h0M2273 210h0M2219 222h0M2123 234h0M2177 240h0M2051 252h0M2147 270h0M2165 270h0M2129 276h12M2129 282h0M2129 288h0M2111 294h0M2129 294h0M2123 300h0M2015 306h0M2105 306h6M2093 312h0M1985 318h0M2087 318h0M2105 318h0M2075 330h0M2087 330h0M2069 336h0M2057 342h0M2069 342h0M2039 348h0M2051 348h0M2021 354h6M2039 354h6M2057 354h0M2015 360h6M2039 360h0M2021 366h0M1997 372h0M2009 372h0M2021 372h0M2033 372h6M1997 378h0M2009 378h0M1889 384h0M1967 384h0M1979 384h0M1997 384h18M2027 384h0M1985 390h0M2021 390h0M2225 390h0M1949 396h0M1991 396h0M2009 396h0M2045 396h0M1967 402h0M1991 402h6M2015 402h0M2117 402h0M1985 408h0M1997 408h0M1931 414h0M1949 414h0M1973 414h6M1997 414h0M2033 414h0M1907 420h0M1919 420h12M1943 420h0M1991 420h0M1901 426h6M1937 426h0M1973 426h0M1985 426h0M2003 426h0M1913 432h6M1937 432h0M1967 432h0M1979 432h0M1997 432h0M1931 438h0M1973 438h0M1913 444h0M1985 444h0M1913 450h6M1985 450h0M1997 450h0M1889 456h0M1973 456h0M1985 456h6M1877 462h0M1973 462h0M1883 468h0M1973 468h0M1853 474h6M1871 474h0M1955 474h0M1967 474h0M1853 480h0M1937 480h0M1841 486h6M1931 486h0M1955 486h0M1829 492h6M1943 492h0M1823 498h0M1913 498h0M1925 498h0M1943 498h0M1835 504h0M1907 504h0M1823 510h0M1931 510h12M1823 516h0M1901 516h0M1931 516h0M1811 522h0M1889 522h0M1907 522h0M1919 522h0M1889 528h6M1877 534h0M1895 534h0M1787 540h0M1871 540h18M1769 546h0M1865 546h6M1865 552h0M1877 558h0M1889 558h0M1763 564h0M1865 564h0M1745 570h0M1745 576h0M1847 576h6M1817 582h6M1733 588h0M1823 588h0M1727 594h0M1793 606h0M1721 618h0M1721 624h0M1763 624h0M1745 630h0M1757 630h0M1751 636h0" stroke="#060680" stroke-width="10.4" stroke-linecap="round" fill="none"/><path d="M2141 282h0M2123 288h0M2123 294h0M2135 294h0M2117 306h0M2105 312h6M2093 318h6M2093 324h6M2081 330h0M2033 348h0M2045 348h0M2057 348h0M2033 354h0M2051 354h0M2033 360h0M2027 366h0M2003 372h0M2015 372h0M2027 372h0M1991 378h0M2003 378h0M2015 378h6M2021 384h0M1967 390h0M1991 390h6M2009 390h6M1955 396h6M1973 396h12M1997 396h6M1943 402h0M1955 402h6M1973 402h12M2009 402h0M1949 408h0M1973 408h0M2003 408h0M1913 414h0M1925 414h0M1943 414h0M1985 414h0M1913 420h0M1961 420h0M1973 420h6M1997 420h6M1913 426h6M1931 426h0M1943 426h12M1967 426h0M1991 426h0M1907 432h0M1931 432h0M1955 432h0M1973 432h0M1985 432h0M1907 438h6M1925 438h0M1937 438h6M1979 438h6M2003 438h0M1901 444h0M1919 444h12M1967 444h0M1907 450h0M1925 450h0M1973 450h6M1877 456h0M1895 456h0M1907 456h6M1979 456h0M1883 462h18M1865 468h12M1889 468h0M1955 468h6M1847 474h0M1865 474h0M1943 474h6M1961 474h0M1859 480h12M1943 480h6M1859 486h0M1943 486h6M1841 492h12M1925 492h12M1949 492h0M1829 498h12M1937 498h0M1841 504h0M1913 504h6M1811 510h6M1829 510h0M1901 510h0M1913 510h12M1817 516h0M1913 516h12M1817 522h0M1895 522h0M1901 528h0M1883 534h0M1901 534h0M1793 540h0M1895 540h6M1787 546h0M1883 546h0M1895 546h6M1775 552h6M1853 552h6M1871 552h18M1853 558h0M1865 558h6M1883 558h0M1847 564h6M1757 570h0M1829 570h0M1841 570h12M1865 570h0M1751 576h0M1841 576h0M1739 588h0M1811 588h0M1811 594h0M1793 600h0M1787 606h0M1721 612h0M1769 618h0M1757 624h0M1727 630h6M1751 630h0" stroke="#0303b0" stroke-width="10.4" stroke-linecap="round" fill="none"/><path d="M2135 282h0M2141 288h0M2117 300h0M2099 312h0M2087 324h0M2099 330h0M2063 342h0M2027 360h0M2015 366h0M1985 384h6M1973 390h6M1967 396h0M1937 408h6M1955 408h0M1979 408h0M1919 414h0M1937 414h0M1955 414h0M1967 414h0M1937 420h0M1949 420h6M1967 420h0M1985 420h0M1925 426h0M1979 426h0M1925 432h0M1943 432h6M1991 432h0M1919 438h0M1991 438h0M1907 444h0M1973 444h6M1991 444h0M1901 450h0M1967 450h0M1901 456h0M1967 456h0M1907 462h0M1955 462h12M1949 468h0M1877 474h0M1931 480h0M1853 486h0M1865 486h0M1925 486h0M1937 486h0M1859 492h0M1931 498h0M1937 504h0M1835 510h0M1907 510h0M1895 516h0M1901 522h0M1913 522h0M1883 528h0M1907 528h0M1889 534h0M1907 534h0M1799 540h0M1877 546h0M1889 546h0M1859 558h0M1841 564h0M1859 564h0M1871 564h0M1835 570h0M1829 576h6M1721 606h0M1775 612h6M1739 630h0" stroke="#0101e1" stroke-width="10.4" stroke-linecap="round" fill="none"/><path d="M2135 288h0M2111 318h0M2045 342h0M2075 342h0M2003 390h0M1961 408h6M1991 408h0M1991 414h0M2003 414h0M1961 426h0M1997 426h0M1949 438h0M1967 438h0M1967 468h0M1919 486h0M1919 498h0M1823 504h6M1925 504h0M1895 510h0M1907 516h0M1811 528h0M1805 534h0M1859 546h0M1841 558h6M1769 564h0M1733 594h0M1799 594h0M1727 600h0" stroke="#000dff" stroke-width="10.4" stroke-linecap="round" fill="none"/><path d="M2003 432h0M1895 450h0M1931 450h0M1883 474h0M1937 474h0M1853 498h0M1907 498h0M1823 522h0M1871 534h0M1865 540h0M1817 576h6M1745 582h0M1811 582h0M1763 618h0" stroke="#0030ff" stroke-width="10.4" stroke-linecap="round" fill="none"/><path d="M1937 444h0M1919 456h0M1961 456h0M1913 462h0M1895 468h0M1877 480h0M1925 480h0M1919 492h0M1847 504h0M1829 516h0M1889 516h0M1751 582h0M1781 606h0" stroke="#0054ff" stroke-width="10.4" stroke-linecap="round" fill="none"/><path d="M2051 342h0M1901 468h0M1913 492h0M1841 510h0M1877 528h0M1793 546h0M1775 558h0M1805 588h0M1787 600h0M1727 624h0" stroke="#0077ff" stroke-width="10.4" stroke-linecap="round" fill="none"/><path d="M1961 450h0M1949 462h0M1943 468h0M1889 474h0M1835 516h0M1883 522h0M1811 534h0M1847 552h0M1835 564h0" stroke="#009aff" stroke-width="10.4" stroke-linecap="round" fill="none"/><path d="M1925 456h0M1871 486h0M1901 504h0M1865 534h0M1835 552h0M1763 570h0M1757 576h0M1781 600h0" stroke="#00bdff" stroke-width="10.4" stroke-linecap="round" fill="none"/><path d="M1955 438h0M1961 444h0M1901 474h0M1931 474h0M1847 510h0M1829 522h0M1823 528h0M1865 528h0M1859 534h0M1859 540h0M1775 564h0M1829 564h0M1817 570h0M1793 588h0M1739 594h0M1757 618h0" stroke="#00e0ff" stroke-width="10.4" stroke-linecap="round" fill="none"/><path d="M1961 438h0M1931 456h6M1907 468h0M1877 486h0M1913 486h0M1883 516h0M1847 546h0M1787 552h0M1811 576h0M1805 582h0M1793 594h0M1751 624h0" stroke="#04fffb" stroke-width="10.4" stroke-linecap="round" fill="none"/><path d="M1955 444h0M1883 486h0M1805 540h0M1823 564h0M1745 588h0M1769 612h0M1745 624h0" stroke="#28ffd7" stroke-width="10.4" stroke-linecap="round" fill="none"/><path d="M1937 468h0M1919 474h0M1913 480h6M1865 492h0M1859 498h0M1841 516h0M1871 528h0M1781 558h0M1823 570h0M1799 588h0M1763 612h0" stroke="#4bffb4" stroke-width="10.4" stroke-linecap="round" fill="none"/><path d="M1937 450h0M1949 450h0M1919 462h0M1931 462h0M1913 468h0M1883 480h6M1871 492h0M1901 498h0M1853 504h0M1889 510h0M1877 522h0M1853 546h0M1763 576h0M1805 576h0M1733 600h0M1733 624h0" stroke="#6eff91" stroke-width="10.4" stroke-linecap="round" fill="none"/><path d="M1943 444h6M1949 456h0M1943 462h0M1925 474h0M1907 492h0M1865 498h0M1853 540h0M1775 606h0" stroke="#91ff6e" stroke-width="10.4" stroke-linecap="round" fill="none"/><path d="M1925 462h0M1919 468h0M1895 474h0M1913 474h0M1871 522h0M1835 558h0M1727 618h0" stroke="#b4ff4b" stroke-width="10.4" stroke-linecap="round" fill="none"/><path d="M1877 492h0M1835 522h0M1829 558h0M1769 570h0M1727 606h0" stroke="#d7ff28" stroke-width="10.4" stroke-linecap="round" fill="none"/><path d="M1943 456h0M1937 462h0M1811 540h0M1811 570h0" stroke="#fbff04" stroke-width="10.4" stroke-linecap="round" fill="none"/><path d="M1943 450h0M1925 468h0M1871 498h0M1895 504h0M1853 510h0M1877 516h0M1841 546h0M1841 552h0M1787 594h0" stroke="#ffe000" stroke-width="10.4" stroke-linecap="round" fill="none"/><path d="M1955 456h0M1859 504h0M1781 594h0" stroke="#ffbd00" stroke-width="10.4" stroke-linecap="round" fill="none"/><path d="M1859 528h0M1739 624h0" stroke="#ff9a00" stroke-width="10.4" stroke-linecap="round" fill="none"/><path d="M1931 468h0M1793 552h0M1787 558h0M1769 606h0" stroke="#ff7700" stroke-width="10.4" stroke-linecap="round" fill="none"/><path d="M1853 534h0M1799 546h0M1727 612h0" stroke="#ff5400" stroke-width="10.4" stroke-linecap="round" fill="none"/><path d="M1955 450h0M1817 534h0" stroke="#ff3000" stroke-width="10.4" stroke-linecap="round" fill="none"/><path d="M1847 540h0" stroke="#ff0d00" stroke-width="10.4" stroke-linecap="round" fill="none"/><path d="M1841 522h0M1841 540h0" stroke="#e90000" stroke-width="10.4" stroke-linecap="round" fill="none"/><path d="M1775 570h0M1799 582h0M1739 600h0M1775 600h0" stroke="#c60000" stroke-width="10.4" stroke-linecap="round" fill="none"/><path d="M1847 516h0" stroke="#a30000" stroke-width="10.4" stroke-linecap="round" fill="none"/><path d="M1907 474h0M1895 480h12M1889 486h18M1883 492h18M1877 498h18M1865 504h24M1859 510h24M1853 516h18M1847 522h18M1829 528h24M1823 534h24M1817 540h18M1805 546h30M1799 552h30M1793 558h30M1781 564h36M1781 570h24M1769 576h30M1757 582h36M1751 588h36M1745 594h30M1745 600h24M1733 606h30M1733 612h24M1733 618h18" stroke="#800000" stroke-width="10.4" stroke-linecap="round" fill="none"/>
</g>
<line x1="1667.0" y1="678.0" x2="2367.0" y2="95.0" stroke="#a84a4e" stroke-opacity="0.9" stroke-width="2.6" clip-path="url(#c02)"/>
<path d="M1842.0 678.0v-9M1842.0 95.0v9M2017.0 678.0v-9M2017.0 95.0v9M2192.0 678.0v-9M2192.0 95.0v9M1667.0 532.2h9M2367.0 532.2h-9M1667.0 386.5h9M2367.0 386.5h-9M1667.0 240.8h9M2367.0 240.8h-9" stroke="#cfcfcf" stroke-width="2" fill="none"/>
<path d="M1667.0 95.0H2367.0" stroke="#dcdcdc" stroke-width="3"/>
<path d="M2367.0 95.0V678.0" stroke="#d8d8d8" stroke-width="3"/>
<path d="M1667.0 93.5V678.0" stroke="#a0a0a0" stroke-width="3"/>
<path d="M1665.5 678.0H2368.0" stroke="#808080" stroke-width="3"/>
<text x="1667.0" y="728.0" font-size="37" fill="#333" text-anchor="middle">0</text>
<text x="1842.0" y="728.0" font-size="37" fill="#333" text-anchor="middle">1</text>
<text x="2017.0" y="728.0" font-size="37" fill="#333" text-anchor="middle">2</text>
<text x="2192.0" y="728.0" font-size="37" fill="#333" text-anchor="middle">3</text>
<text x="2367.0" y="728.0" font-size="37" fill="#333" text-anchor="middle">4</text>
<text x="1707.0" y="166.0" font-size="58" fill="#000">(c)</text>
<g clip-path="url(#c03)">
<path d="M3079 172h0M3065 189h0M3027 193h0M2965 209h0M3042 220h0M2922 235h0M2945 241h0M2940 256h0M2913 273h0M2883 286h0M3022 288h0M2870 298h0M2883 298h0M2984 298h0M2952 313h0M2956 313h0M2705 314h0M2908 320h0M2833 324h0M2934 330h0M3004 335h0M3009 335h0M2863 336h0M2807 341h0M2878 341h0M2883 341h0M2902 341h0M2945 341h0M2824 342h0M2836 342h6M2818 348h0M2883 351h0M2794 354h6M2868 356h0M2945 356h0M2958 356h0M2794 360h0M2908 362h0M2830 366h0M2587 367h0M2877 371h0M3004 372h0M2776 372h0M2770 378h0M2818 378h0M2889 383h0M2752 384h0M2764 384h0M2818 384h0M2877 387h0M2852 388h0M2746 390h6M2698 396h0M2710 396h0M2734 396h0M2794 396h0M2710 402h0M2722 402h6M2740 402h6M2833 404h0M2972 408h0M2858 414h0M2794 414h0M2839 419h0M2680 426h0M2788 426h0M2812 429h0M2788 432h0M2669 434h0M2668 438h0M2794 438h0M2810 441h0M2650 444h0M2650 445h0M2913 445h0M2805 448h0M2864 449h0M2650 450h0M2782 451h0M2650 456h0M2758 456h0M2789 461h0M2864 461h0M2632 462h0M2625 465h0M2845 466h0M2752 468h0M2795 472h0M2626 474h0M2782 477h0M2820 477h0M2826 477h0M2752 480h0M2608 486h0M2734 486h6M2763 487h0M2776 487h0M2584 498h0M2596 498h0M2728 498h0M2751 502h0M2763 502h0M2770 509h0M2722 510h6M2776 518h0M2724 522h0M2572 522h6M2566 528h0M2692 528h12M2680 534h0M2548 540h0M2560 540h0M2668 540h0M2700 545h0M2518 546h0M2674 546h0M2530 552h12M2650 552h6M2536 558h0M2650 558h0M2500 570h0M2512 570h0M2506 576h0M2626 576h0M2500 582h6M2602 582h0M2637 587h0M2500 588h0M2596 588h0M2482 594h0M2600 596h0M2482 600h0M2578 600h6M2464 606h0M2482 606h6M2562 608h0M2578 612h0M2581 618h0M2488 618h6M2560 618h6M2542 624h0M2554 624h0M2494 630h6M2530 630h0M2554 630h0M2488 636h0M2512 636h0M2530 636h0M2542 636h0M2518 642h0M2548 642h0" stroke="#08084f" stroke-width="10.4" stroke-linecap="round" fill="none"/><path d="M2830 348h0M2800 360h0M2824 360h0M2824 366h0M2782 372h0M2800 372h0M2818 372h0M2794 378h0M2788 384h0M2800 384h0M2812 384h0M2764 390h0M2812 390h0M2752 396h0M2752 402h0M2794 402h0M2740 408h0M2788 408h6M2698 414h0M2740 414h0M2722 420h0M2734 420h0M2770 420h0M2782 420h6M2734 426h0M2770 426h0M2680 432h0M2698 432h0M2710 432h6M2674 438h0M2710 438h0M2770 438h0M2746 444h6M2656 450h0M2674 450h0M2692 450h0M2674 456h6M2746 462h6M2632 468h6M2626 480h0M2638 480h0M2740 480h0M2620 486h0M2710 486h0M2608 492h0M2626 492h0M2602 498h0M2620 498h0M2704 504h6M2686 516h0M2710 516h6M2686 522h6M2572 528h0M2668 528h0M2686 528h0M2572 534h6M2650 540h0M2548 552h0M2662 552h0M2542 558h0M2536 564h0M2530 570h0M2518 576h0M2608 576h0M2590 588h0M2602 588h0M2584 594h0M2494 600h0M2560 612h6M2494 624h0M2548 624h0M2506 636h0M2518 636h0" stroke="#060680" stroke-width="10.4" stroke-linecap="round" fill="none"/><path d="M2806 354h0M2818 354h0M2812 360h0M2794 366h6M2812 366h0M2788 372h6M2788 378h0M2812 378h0M2770 384h6M2776 390h0M2800 390h0M2764 396h18M2806 396h0M2764 402h0M2788 402h0M2710 408h12M2776 408h0M2704 414h18M2734 414h0M2746 414h12M2770 414h6M2692 420h6M2710 420h0M2728 420h0M2740 420h12M2764 420h0M2692 426h0M2704 426h24M2776 426h0M2686 432h6M2704 432h0M2722 432h0M2734 432h12M2758 432h0M2782 432h0M2680 438h6M2698 438h0M2734 438h6M2698 444h6M2740 444h0M2758 444h0M2770 444h0M2662 450h0M2680 450h0M2734 450h6M2644 456h0M2656 456h0M2686 456h0M2644 462h6M2662 462h0M2674 462h0M2728 462h6M2656 468h6M2716 468h6M2746 468h0M2650 474h0M2728 474h12M2620 480h0M2644 480h0M2716 480h0M2728 480h0M2638 486h0M2698 486h0M2722 486h6M2614 492h6M2614 498h0M2692 498h18M2722 498h0M2602 504h0M2698 504h0M2716 504h0M2596 510h6M2680 510h0M2716 510h0M2590 516h6M2674 516h6M2692 516h6M2584 522h6M2668 522h0M2680 522h0M2674 528h0M2656 534h0M2668 534h6M2566 540h6M2656 540h0M2662 546h0M2638 552h6M2548 558h0M2626 558h0M2638 558h0M2542 564h0M2620 564h12M2614 570h0M2626 570h0M2524 576h0M2602 576h0M2518 582h0M2596 582h0M2506 588h0M2494 594h6M2572 600h0M2494 612h0M2554 612h0M2536 624h0M2506 630h0M2524 630h0" stroke="#0303b0" stroke-width="10.4" stroke-linecap="round" fill="none"/><path d="M2824 354h0M2806 360h0M2818 360h0M2806 366h0M2812 372h0M2776 378h6M2800 378h6M2782 384h0M2794 384h0M2806 384h0M2770 390h0M2794 390h0M2758 396h0M2788 396h0M2758 402h0M2770 402h6M2734 408h0M2746 408h6M2764 408h6M2782 408h0M2728 414h0M2764 414h0M2782 414h0M2758 420h0M2698 426h0M2740 426h24M2752 432h0M2764 432h12M2692 438h0M2746 438h0M2758 438h0M2668 444h0M2686 444h6M2734 444h0M2764 444h0M2668 450h0M2746 450h6M2662 456h6M2740 456h12M2668 462h0M2722 462h0M2740 462h0M2644 468h6M2740 468h0M2632 474h0M2644 474h0M2632 480h0M2710 480h0M2722 480h0M2734 480h0M2626 486h6M2704 486h0M2716 486h0M2692 492h0M2704 492h0M2716 492h6M2608 498h0M2716 498h0M2608 504h0M2686 504h6M2608 510h0M2692 510h6M2710 510h0M2704 516h0M2722 516h0M2596 522h0M2590 528h0M2662 528h0M2680 528h0M2662 534h0M2662 540h0M2560 546h0M2644 546h6M2554 552h0M2632 552h0M2632 558h0M2644 558h0M2620 570h0M2614 576h0M2512 588h0M2584 588h0M2566 606h0M2548 618h0M2518 630h0" stroke="#0101e1" stroke-width="10.4" stroke-linecap="round" fill="none"/><path d="M2812 354h0M2818 366h0M2788 390h0M2782 402h0M2758 408h0M2788 414h0M2704 420h0M2728 432h0M2716 438h0M2752 438h0M2764 438h0M2776 438h0M2674 444h6M2710 444h0M2686 450h0M2698 450h0M2758 450h0M2728 456h6M2728 468h6M2716 474h6M2746 474h0M2650 480h0M2704 480h0M2698 492h0M2728 492h0M2686 498h0M2614 504h6M2686 510h0M2584 516h0M2602 516h0M2674 522h0M2698 522h0M2578 528h6M2584 534h0M2650 534h0M2536 570h0M2590 582h0M2578 594h0M2494 606h0M2542 618h0M2500 624h0M2512 630h0" stroke="#000dff" stroke-width="10.4" stroke-linecap="round" fill="none"/><path d="M2806 372h0M2758 390h0M2638 474h0M2656 474h0M2710 474h0M2746 480h0M2644 486h0M2710 492h0M2626 498h0M2662 522h0M2578 540h0M2566 546h0M2560 552h0M2560 606h0M2530 624h0" stroke="#0030ff" stroke-width="10.4" stroke-linecap="round" fill="none"/><path d="M2776 420h0M2722 438h0M2704 450h0M2698 480h0M2680 504h0M2608 516h0M2656 528h0M2644 540h0M2638 546h0M2554 558h0M2608 570h0M2530 576h0M2524 582h0M2578 588h0M2506 594h0M2572 594h0M2566 600h0M2548 612h0" stroke="#0054ff" stroke-width="10.4" stroke-linecap="round" fill="none"/><path d="M2728 444h0M2692 456h0M2710 468h0M2614 510h0M2668 516h0M2650 528h0M2632 546h0M2548 564h0" stroke="#0077ff" stroke-width="10.4" stroke-linecap="round" fill="none"/><path d="M2764 450h0M2638 492h0M2626 504h0M2542 570h0M2596 576h0M2554 606h0M2536 618h0" stroke="#009aff" stroke-width="10.4" stroke-linecap="round" fill="none"/><path d="M2686 462h0M2674 468h0M2662 474h0M2632 498h0M2674 510h0M2596 528h0M2572 588h0" stroke="#00bdff" stroke-width="10.4" stroke-linecap="round" fill="none"/><path d="M2722 444h0M2728 450h0M2698 456h0M2722 456h0M2680 462h0M2680 498h0M2668 510h0M2602 522h0M2572 546h0M2614 564h0M2566 594h0M2500 618h0" stroke="#00e0ff" stroke-width="10.4" stroke-linecap="round" fill="none"/><path d="M2716 450h0M2716 462h0M2668 468h0M2680 492h0M2668 504h0M2662 516h0M2638 534h0M2602 570h0M2536 576h0M2518 588h0M2500 600h0" stroke="#04fffb" stroke-width="10.4" stroke-linecap="round" fill="none"/><path d="M2716 444h0M2704 456h0M2692 480h0M2674 498h0M2656 516h0M2644 528h0M2626 546h0M2620 552h0M2608 558h0M2620 558h0M2584 582h0M2500 612h0" stroke="#28ffd7" stroke-width="10.4" stroke-linecap="round" fill="none"/><path d="M2728 438h0M2710 450h0M2698 468h0M2656 480h0M2692 486h0M2614 516h0M2566 552h0M2590 576h0M2512 594h0M2548 606h0M2542 612h0" stroke="#4bffb4" stroke-width="10.4" stroke-linecap="round" fill="none"/><path d="M2716 456h0M2704 474h0M2686 492h0M2632 540h0M2614 558h0M2590 570h0" stroke="#6eff91" stroke-width="10.4" stroke-linecap="round" fill="none"/><path d="M2710 456h0M2710 462h0M2686 486h0M2638 540h0M2626 552h0M2596 570h0M2536 612h0" stroke="#91ff6e" stroke-width="10.4" stroke-linecap="round" fill="none"/><path d="M2656 522h0M2608 564h0" stroke="#b4ff4b" stroke-width="10.4" stroke-linecap="round" fill="none"/><path d="M2650 486h0M2662 510h0M2614 552h0M2554 564h0M2518 624h6" stroke="#d7ff28" stroke-width="10.4" stroke-linecap="round" fill="none"/><path d="M2692 462h0M2704 462h0M2704 468h0M2686 480h0M2590 534h0M2602 564h0M2506 624h0" stroke="#fbff04" stroke-width="10.4" stroke-linecap="round" fill="none"/><path d="M2722 450h0M2692 468h0M2692 474h0M2560 600h0" stroke="#ffe000" stroke-width="10.4" stroke-linecap="round" fill="none"/><path d="M2620 510h0M2644 534h0M2584 576h0" stroke="#ffbd00" stroke-width="10.4" stroke-linecap="round" fill="none"/><path d="M2650 522h0M2566 588h0M2530 618h0" stroke="#ff9a00" stroke-width="10.4" stroke-linecap="round" fill="none"/><path d="M2698 462h0M2500 606h0" stroke="#ff7700" stroke-width="10.4" stroke-linecap="round" fill="none"/><path d="M2698 474h0M2674 504h0M2620 546h0M2560 558h0M2578 582h0M2554 600h0" stroke="#ff5400" stroke-width="10.4" stroke-linecap="round" fill="none"/><path d="M2638 498h0M2584 540h0M2626 540h0" stroke="#ff0d00" stroke-width="10.4" stroke-linecap="round" fill="none"/><path d="M2608 522h0" stroke="#e90000" stroke-width="10.4" stroke-linecap="round" fill="none"/><path d="M2680 468h0M2644 492h0M2638 528h0M2578 546h0M2560 594h0" stroke="#c60000" stroke-width="10.4" stroke-linecap="round" fill="none"/><path d="M2572 552h0M2506 600h0M2512 624h0" stroke="#a30000" stroke-width="10.4" stroke-linecap="round" fill="none"/><path d="M2686 468h0M2668 474h18M2662 480h18M2656 486h24M2650 492h24M2644 498h24M2632 504h30M2626 510h30M2620 516h30M2614 522h30M2602 528h30M2596 534h36M2590 540h30M2584 546h30M2578 552h30M2566 558h36M2560 564h36M2548 570h36M2542 576h36M2530 582h42M2524 588h36M2518 594h36M2512 600h36M2506 606h36M2506 612h24M2506 618h18" stroke="#800000" stroke-width="10.4" stroke-linecap="round" fill="none"/>
</g>
<line x1="2440.0" y1="678.0" x2="3140.5" y2="95.0" stroke="#a84a4e" stroke-opacity="0.9" stroke-width="2.6" clip-path="url(#c03)"/>
<path d="M2615.1 678.0v-9M2615.1 95.0v9M2790.2 678.0v-9M2790.2 95.0v9M2965.4 678.0v-9M2965.4 95.0v9M2440.0 532.2h9M3140.5 532.2h-9M2440.0 386.5h9M3140.5 386.5h-9M2440.0 240.8h9M3140.5 240.8h-9" stroke="#cfcfcf" stroke-width="2" fill="none"/>
<path d="M2440.0 95.0H3140.5" stroke="#dcdcdc" stroke-width="3"/>
<path d="M3140.5 95.0V678.0" stroke="#d8d8d8" stroke-width="3"/>
<path d="M2440.0 93.5V678.0" stroke="#a0a0a0" stroke-width="3"/>
<path d="M2438.5 678.0H3141.5" stroke="#808080" stroke-width="3"/>
<text x="2440.0" y="728.0" font-size="37" fill="#333" text-anchor="middle">0</text>
<text x="2615.1" y="728.0" font-size="37" fill="#333" text-anchor="middle">1</text>
<text x="2790.2" y="728.0" font-size="37" fill="#333" text-anchor="middle">2</text>
<text x="2965.4" y="728.0" font-size="37" fill="#333" text-anchor="middle">3</text>
<text x="3140.5" y="728.0" font-size="37" fill="#333" text-anchor="middle">4</text>
<text x="2480.0" y="166.0" font-size="58" fill="#000">(d)</text>
<g clip-path="url(#c10)">
<path d="M744 910h0M694 916h0M704 921h0M728 922h6M672 927h0M728 927h0M689 932h0M706 932h6M728 932h0M678 938h0M700 938h0M733 938h0M738 944h0M672 949h0M733 949h0M640 960h16M722 960h6M628 966h0M640 966h0M728 966h11M634 971h0M612 976h0M623 976h0M700 976h0M612 982h6M711 982h6M601 988h0M700 988h0M716 988h0M596 993h0M689 993h0M706 993h6M584 998h0M596 998h6M689 998h0M706 998h0M574 1004h16M678 1004h0M706 1004h0M574 1010h6M689 1010h0M561 1010h0M574 1015h6M662 1015h0M662 1020h0M678 1020h6M552 1026h0M667 1026h0M518 1032h0M535 1032h0M552 1032h6M656 1032h6M678 1032h0M530 1037h0M546 1037h0M530 1042h0M672 1042h0M491 1044h0M518 1048h0M530 1048h0M640 1048h0M667 1048h0M518 1054h0M530 1054h0M640 1054h0M650 1054h6M508 1059h11M662 1059h0M640 1064h0M667 1065h0M464 1070h0M612 1070h0M628 1070h0M645 1070h0M414 1072h0M458 1076h0M474 1076h0M612 1076h0M628 1076h0M459 1077h0M458 1081h6M480 1081h6M606 1081h0M618 1081h0M645 1081h0M408 1084h0M364 1086h0M458 1086h6M612 1086h0M634 1086h0M628 1092h0M640 1092h0M442 1098h0M601 1098h0M623 1098h0M436 1103h0M596 1103h16M634 1103h0M637 1103h0M370 1108h6M398 1108h0M414 1108h0M590 1108h0M646 1112h0M359 1114h0M386 1114h11M430 1114h0M590 1114h0M618 1114h0M350 1119h0M354 1120h0M370 1120h0M403 1120h6M425 1120h0M584 1120h0M606 1120h0M328 1125h0M639 1125h0M675 1125h0M348 1125h0M398 1125h0M568 1125h0M579 1125h0M596 1125h0M348 1130h0M370 1130h0M392 1130h0M568 1130h16M609 1132h0M315 1136h0M337 1136h0M359 1136h0M584 1136h0M579 1139h0M623 1139h0M326 1142h11M557 1142h6M332 1147h0M574 1147h0M600 1149h0M337 1152h6M562 1152h0M600 1154h0M342 1158h0M540 1158h0M552 1158h6M570 1160h0M315 1164h6M524 1164h6M298 1169h0M332 1169h0M524 1169h6M552 1169h0M298 1174h0M310 1174h0M518 1174h0M530 1174h0M546 1174h0M315 1180h0M332 1180h0M530 1180h0M232 1186h0M260 1186h0M293 1186h0M304 1186h16M480 1186h0M508 1186h0M563 1186h0M249 1191h0M271 1191h0M288 1191h0M496 1191h0M518 1191h0M260 1196h0M288 1196h0M298 1196h6M480 1196h16M210 1202h0M222 1202h0M249 1202h0M298 1202h6M496 1202h0M161 1208h6M200 1208h0M232 1208h0M293 1208h0M304 1208h0M474 1208h0M166 1213h0M183 1213h6M200 1213h0M210 1213h0M249 1213h6M271 1213h0M288 1213h0M304 1213h0M464 1213h0M474 1213h0M491 1213h0M502 1213h0M134 1218h0M183 1218h0M194 1218h0M205 1218h0M238 1218h6M254 1218h6M293 1218h0M128 1224h0M139 1224h0M150 1224h0M161 1224h6M200 1224h0M210 1224h0M222 1224h0M244 1224h0M276 1224h0M288 1224h0M469 1224h6M491 1224h0M166 1230h0M210 1230h6M238 1230h0M282 1230h0M304 1230h0M183 1235h0M205 1235h0M232 1235h0M276 1235h0M293 1235h6M442 1235h0M452 1235h0M469 1235h0M139 1240h0M166 1240h0M200 1240h0M222 1240h0M293 1240h0M436 1240h6M452 1240h0M464 1240h0M474 1240h0M134 1246h6M172 1246h0M232 1246h0M249 1246h0M260 1246h6M282 1246h0M420 1246h0M436 1246h6M216 1252h0M254 1252h0M348 1252h0M386 1252h0M398 1252h0M408 1252h0M420 1252h0M442 1252h0M139 1257h6M156 1257h0M260 1257h6M282 1257h0M392 1257h6M425 1257h0M144 1262h0M166 1262h0M178 1262h0M271 1262h0M381 1262h6M414 1262h0M194 1268h0M232 1268h0M260 1268h0M364 1268h6M381 1268h0M392 1268h0M178 1274h6M222 1274h6M238 1274h0M254 1274h11M359 1274h0M386 1274h0M436 1274h0M210 1279h0M227 1279h0M266 1279h0M348 1279h0M376 1279h6M445 1281h0M144 1284h0M205 1284h0M266 1284h0M354 1284h0M386 1284h0M144 1290h0M166 1290h0M188 1290h6M244 1290h0M254 1290h0M266 1290h6M320 1290h0M337 1290h6M354 1290h0M452 1295h0M144 1296h0M222 1296h0M232 1296h0M266 1296h0M310 1296h6M348 1296h0M359 1296h0M381 1296h0M128 1301h11M156 1301h0M188 1301h0M205 1301h0M249 1301h6M288 1301h0M298 1301h0M326 1301h0M342 1301h0M354 1301h11M425 1301h0M447 1301h0M134 1306h6M150 1306h0M161 1306h6M244 1306h0M266 1306h0M276 1306h0M288 1306h0M298 1306h6M359 1306h6M386 1306h6M403 1306h0M458 1306h0M134 1312h0M150 1312h0M166 1312h0M227 1312h0M282 1312h0M315 1312h6M332 1312h0M436 1312h0M144 1318h0M161 1318h0M172 1318h0M260 1318h0M276 1318h11M298 1318h0M310 1318h0M320 1318h11M359 1318h0M370 1318h0M392 1318h0M403 1318h0M436 1318h0M210 1323h0M222 1323h0M232 1323h0M293 1323h0M359 1323h0M392 1323h0M408 1323h11M188 1328h0M200 1328h0M254 1328h0M282 1328h0M293 1328h0M348 1328h0M364 1328h0M188 1334h0M276 1334h0M304 1334h0M332 1334h0M232 1340h0M244 1340h0M288 1340h0M304 1340h0M320 1340h0M364 1340h0M139 1345h0M260 1345h6M304 1345h6M337 1345h0M144 1350h0M178 1350h6M205 1350h6M364 1350h0M144 1356h0M172 1356h0M210 1356h6M260 1356h0M298 1356h0M332 1356h0M342 1356h0M156 1362h0M200 1362h0M232 1362h0M266 1362h0M288 1362h0M304 1362h0M332 1362h0M342 1362h0M166 1367h0M183 1367h6M227 1367h0M260 1367h0M276 1367h0M298 1367h0M139 1372h0M232 1372h0M244 1372h0M244 1378h0M254 1378h0M134 1384h0M144 1384h0M200 1384h6M276 1384h0M139 1389h0M178 1389h0M188 1389h0M161 1394h0M166 1400h0M205 1400h0M166 1406h0M188 1406h0M134 1416h0" stroke="#08084f" stroke-width="9.4" stroke-linecap="round" fill="none"/><path d="M711 927h0M722 927h0M689 938h6M728 938h0M684 944h0M694 944h0M662 949h0M662 954h0M672 954h0M716 960h0M650 966h6M716 966h0M640 971h6M706 971h0M618 976h0M640 976h0M706 976h6M700 982h6M606 988h0M694 988h0M706 988h6M606 993h0M694 993h0M606 998h0M672 1004h0M684 1004h0M584 1010h6M584 1015h0M656 1015h0M667 1015h0M574 1020h0M689 1020h0M640 1026h6M662 1026h0M684 1026h0M546 1032h0M645 1032h0M552 1037h0M640 1037h0M672 1037h0M623 1042h0M667 1042h0M535 1048h0M623 1048h0M645 1048h0M656 1048h6M612 1054h0M606 1059h0M618 1059h11M650 1059h0M502 1064h0M618 1064h0M645 1064h0M496 1070h0M513 1070h0M606 1070h0M618 1070h0M634 1070h0M623 1076h0M640 1076h0M469 1081h0M596 1081h0M634 1081h0M469 1086h6M486 1086h0M590 1086h0M601 1086h6M628 1086h0M464 1092h0M584 1092h0M601 1092h0M458 1098h11M568 1098h0M584 1098h0M628 1098h0M403 1103h0M447 1103h0M464 1103h0M557 1103h0M430 1108h0M546 1108h0M596 1108h0M370 1114h0M425 1114h0M535 1114h0M574 1114h11M386 1120h6M420 1120h0M552 1120h6M568 1120h0M579 1120h0M596 1120h0M354 1125h0M420 1125h0M535 1125h0M552 1125h0M562 1125h0M342 1130h0M359 1130h0M386 1130h0M403 1130h0M524 1130h0M552 1130h0M562 1130h0M398 1136h0M552 1136h0M562 1136h6M348 1142h0M359 1142h0M414 1142h6M508 1142h0M518 1142h0M535 1142h0M546 1142h0M364 1147h0M376 1147h6M392 1147h6M513 1147h0M540 1147h0M552 1147h0M348 1152h6M364 1152h0M398 1152h6M486 1152h0M530 1152h0M540 1152h0M557 1152h0M326 1158h0M348 1158h0M359 1158h0M376 1158h0M386 1158h16M491 1158h0M524 1158h11M337 1164h6M359 1164h6M381 1164h0M491 1164h0M508 1164h11M315 1169h0M337 1169h0M359 1169h0M370 1169h11M480 1169h0M491 1169h6M354 1174h0M469 1174h11M491 1174h0M535 1174h0M293 1180h0M320 1180h6M359 1180h0M464 1180h6M486 1180h11M518 1180h0M354 1186h0M469 1186h0M486 1186h0M496 1186h6M266 1191h0M298 1191h0M310 1191h0M364 1191h0M480 1191h0M502 1191h6M447 1196h0M464 1196h0M474 1196h0M502 1196h0M293 1202h0M315 1202h0M332 1202h0M348 1202h0M298 1208h0M320 1208h0M486 1208h0M496 1208h0M293 1213h0M326 1213h16M469 1213h0M480 1213h0M150 1218h0M304 1218h6M320 1218h6M420 1218h0M452 1218h6M194 1224h0M227 1224h0M282 1224h0M298 1224h0M332 1224h0M354 1224h6M370 1224h0M403 1224h0M425 1224h0M447 1224h0M310 1230h0M320 1230h0M332 1230h0M364 1230h6M381 1230h6M420 1230h0M430 1230h0M447 1230h0M288 1235h0M304 1235h6M332 1235h0M342 1235h6M370 1235h0M386 1235h0M420 1235h0M430 1235h6M447 1235h0M144 1240h0M304 1240h0M354 1240h0M370 1240h6M386 1240h0M425 1240h0M293 1246h0M304 1246h6M348 1246h0M364 1246h0M398 1246h6M430 1246h0M260 1252h0M276 1252h0M293 1252h11M315 1252h0M326 1252h0M342 1252h0M359 1252h0M210 1257h0M254 1257h0M276 1257h0M288 1257h0M310 1257h0M332 1257h0M348 1257h0M359 1257h0M370 1257h0M386 1257h0M238 1262h0M260 1262h0M310 1262h6M332 1262h6M376 1262h0M403 1262h0M222 1268h0M254 1268h0M271 1268h6M288 1268h6M342 1268h0M359 1268h0M376 1268h0M342 1274h6M370 1274h0M392 1274h0M150 1279h0M271 1279h11M354 1279h6M139 1284h0M271 1284h0M298 1284h0M315 1284h6M342 1284h6M310 1290h0M326 1290h0M260 1296h0M276 1296h0M293 1296h0M332 1296h6M222 1301h0M266 1301h0M320 1301h0M337 1301h0M282 1306h0M293 1306h0M320 1306h6M178 1312h0M276 1312h0M326 1312h0M370 1323h0M161 1328h0M376 1340h0M232 1345h0M359 1345h0M227 1350h0M354 1350h0M222 1367h0M210 1372h0" stroke="#060680" stroke-width="9.4" stroke-linecap="round" fill="none"/><path d="M722 932h0M711 938h0M738 938h0M689 944h0M733 944h0M684 949h0M728 949h0M678 954h0M662 960h0M722 966h0M650 971h0M628 976h6M623 982h0M634 982h0M618 988h6M678 993h6M700 993h0M678 998h0M596 1004h6M667 1004h0M596 1010h0M662 1010h0M678 1010h0M678 1015h0M579 1020h0M645 1020h0M656 1020h0M568 1026h6M650 1026h6M650 1032h0M535 1037h0M557 1037h0M628 1037h6M645 1037h0M546 1042h0M628 1042h16M540 1048h0M612 1048h6M650 1048h0M623 1054h6M596 1059h0M612 1059h0M640 1059h0M508 1064h0M518 1064h0M606 1064h6M623 1064h0M508 1070h0M596 1070h0M502 1076h6M579 1076h0M596 1076h11M618 1076h0M634 1076h0M496 1081h0M579 1081h0M590 1081h0M601 1081h0M623 1081h0M491 1086h0M562 1086h16M618 1086h0M474 1092h6M557 1092h22M447 1098h0M557 1098h0M574 1098h6M590 1098h0M452 1103h6M546 1103h0M562 1103h0M579 1103h0M403 1108h0M425 1108h0M442 1108h6M552 1108h6M568 1108h0M579 1108h0M381 1114h0M403 1114h0M436 1114h11M540 1114h16M398 1120h0M414 1120h0M430 1120h0M530 1120h0M546 1120h0M562 1120h0M574 1120h0M370 1125h0M403 1125h0M414 1125h0M425 1125h0M436 1125h0M524 1125h6M546 1125h0M574 1125h0M364 1130h0M414 1130h0M513 1130h6M530 1130h16M381 1136h0M408 1136h11M518 1136h28M381 1142h16M513 1142h0M337 1147h0M359 1147h0M370 1147h0M386 1147h0M403 1147h11M502 1147h6M518 1147h11M546 1147h0M381 1152h0M491 1152h11M518 1152h6M354 1158h0M496 1158h22M370 1164h6M392 1164h6M480 1164h6M496 1164h6M535 1164h6M326 1169h0M348 1169h6M386 1169h0M474 1169h0M486 1169h0M502 1169h6M518 1169h0M540 1169h0M320 1174h6M337 1174h11M359 1174h6M376 1174h0M464 1174h0M502 1174h0M342 1180h11M364 1180h6M458 1180h0M474 1180h0M332 1186h16M359 1186h11M447 1186h0M458 1186h6M474 1186h0M304 1191h0M332 1191h0M342 1191h16M436 1191h0M447 1191h16M474 1191h0M491 1191h0M315 1196h6M332 1196h22M430 1196h0M442 1196h0M288 1202h0M337 1202h6M425 1202h11M452 1202h0M464 1202h0M480 1202h0M310 1208h6M332 1208h6M425 1208h33M480 1208h0M491 1208h0M298 1213h0M408 1213h6M425 1213h16M452 1213h0M315 1218h0M337 1218h6M354 1218h6M398 1218h0M425 1218h0M436 1218h6M464 1218h0M315 1224h6M337 1224h11M364 1224h0M386 1224h6M414 1224h0M430 1224h6M458 1224h0M298 1230h0M342 1230h16M392 1230h6M436 1230h6M315 1235h0M326 1235h0M381 1235h0M392 1235h6M425 1235h0M315 1240h0M326 1240h6M342 1240h0M359 1240h6M381 1240h0M398 1240h0M408 1240h0M420 1240h0M288 1246h0M326 1246h0M337 1246h6M359 1246h0M370 1246h22M408 1246h6M271 1252h0M282 1252h0M310 1252h0M320 1252h0M332 1252h0M364 1252h0M376 1252h6M392 1252h0M293 1257h11M320 1257h6M337 1257h6M354 1257h0M381 1257h0M403 1257h6M282 1262h0M293 1262h11M326 1262h0M342 1262h22M398 1262h0M266 1268h0M298 1268h0M310 1268h0M320 1268h6M337 1268h0M244 1274h0M282 1274h0M304 1274h6M326 1274h11M260 1279h0M293 1279h6M315 1279h0M370 1279h0M276 1284h16M304 1284h0M288 1290h16M315 1290h0M332 1290h0M288 1296h0M298 1296h0M342 1296h0M293 1301h0M304 1301h0M332 1301h0M332 1306h0M298 1312h0M381 1334h0" stroke="#0303b0" stroke-width="9.4" stroke-linecap="round" fill="none"/><path d="M706 938h0M716 938h0M700 944h0M722 954h0M667 960h0M711 966h0M711 971h0M694 982h0M612 988h0M628 988h0M689 988h0M612 993h0M672 998h0M662 1004h0M667 1010h0M672 1015h0M562 1032h0M634 1032h6M650 1037h6M540 1042h0M552 1042h0M650 1042h0M628 1048h0M540 1054h0M606 1054h0M618 1054h0M634 1054h0M667 1054h0M524 1059h0M513 1064h0M590 1064h11M590 1070h0M601 1070h0M491 1081h0M574 1081h0M584 1081h0M480 1086h0M584 1086h0M596 1086h0M469 1092h0M596 1092h0M562 1098h0M568 1103h0M452 1108h6M540 1108h0M562 1108h0M452 1114h0M562 1114h6M436 1120h11M535 1120h6M381 1125h0M408 1125h0M430 1125h0M442 1125h0M518 1125h0M540 1125h0M408 1130h0M420 1130h0M430 1130h0M386 1136h0M403 1136h0M508 1136h6M354 1142h0M376 1142h0M408 1142h0M425 1142h0M502 1142h0M530 1142h0M540 1142h0M354 1147h0M496 1147h0M535 1147h0M370 1152h6M386 1152h6M508 1152h6M535 1152h0M370 1158h0M474 1158h6M354 1164h0M386 1164h0M474 1164h0M342 1169h0M464 1169h6M332 1174h0M370 1174h0M458 1174h0M486 1174h0M496 1174h0M513 1174h0M337 1180h0M480 1180h0M502 1180h0M513 1180h0M442 1186h0M452 1186h0M326 1191h0M337 1191h0M469 1191h0M486 1191h0M326 1196h0M359 1196h0M452 1196h0M320 1202h6M354 1202h0M442 1202h6M458 1202h0M469 1202h6M326 1208h0M342 1208h6M414 1208h6M464 1208h6M310 1213h11M447 1213h0M332 1218h0M403 1218h6M430 1218h0M447 1218h0M304 1224h6M398 1224h0M442 1224h0M315 1230h0M337 1230h0M408 1230h0M425 1230h0M354 1235h11M403 1235h11M288 1240h0M298 1240h0M310 1240h0M320 1240h0M348 1240h0M392 1240h0M403 1240h0M414 1240h0M298 1246h0M315 1246h6M354 1246h0M337 1252h0M370 1252h0M315 1257h0M288 1262h0M282 1268h0M304 1268h0M315 1268h0M332 1268h0M276 1274h0M288 1274h0M298 1274h0M315 1274h6M354 1274h0M381 1274h0M288 1279h0M304 1279h6M320 1279h6M326 1284h0M276 1290h0" stroke="#0101e1" stroke-width="9.4" stroke-linecap="round" fill="none"/><path d="M722 938h0M689 949h0M662 966h0M645 976h0M628 982h0M590 1015h0M650 1015h0M650 1020h0M672 1020h0M628 1032h0M623 1037h0M606 1048h0M535 1054h0M601 1054h0M601 1059h0M584 1064h0M584 1070h0M590 1076h0M568 1081h0M486 1092h0M590 1092h0M606 1092h0M552 1098h0M469 1103h0M552 1103h0M590 1103h0M574 1108h0M530 1114h0M524 1120h0M381 1130h0M425 1130h0M425 1136h0M502 1136h0M524 1142h0M408 1152h0M408 1158h0M486 1158h0M348 1164h0M364 1169h0M458 1169h0M381 1174h0M452 1174h0M376 1180h0M452 1180h0M491 1186h0M458 1196h0M310 1202h0M359 1202h0M420 1202h0M354 1208h0M348 1218h0M408 1224h0M420 1224h0M376 1230h0M403 1230h0M337 1240h0M332 1246h0M354 1252h0M364 1257h0M376 1257h0M348 1268h0" stroke="#000dff" stroke-width="9.4" stroke-linecap="round" fill="none"/><path d="M716 944h0M694 949h0M672 960h0M579 1026h0M634 1026h0M568 1032h0M628 1064h0M496 1076h0M502 1081h0M474 1098h0M452 1120h0M442 1130h0M430 1136h0M359 1152h0M381 1158h0M326 1186h0M320 1191h0M436 1196h0M348 1213h0M326 1230h0M320 1262h0M304 1296h0" stroke="#0030ff" stroke-width="9.4" stroke-linecap="round" fill="none"/><path d="M706 944h6M722 944h0M711 960h0M689 982h0M684 988h0M656 1010h0M557 1042h0M530 1059h0M590 1059h0M552 1092h0M464 1108h0M513 1120h0M364 1142h0M496 1142h0M491 1147h0M469 1164h0M386 1174h0M370 1191h0M364 1196h0M425 1196h0M408 1208h0M403 1213h0M364 1218h0M282 1296h0" stroke="#0054ff" stroke-width="9.4" stroke-linecap="round" fill="none"/><path d="M656 971h0M640 982h0M672 993h0M612 998h0M601 1010h0M562 1037h0M546 1048h0M540 1059h0M524 1064h0M579 1070h0M574 1076h0M480 1098h0M458 1114h0M502 1130h0M430 1147h0M414 1152h0M414 1202h0M398 1208h0M354 1213h0M398 1213h0M376 1224h0M282 1290h0" stroke="#0077ff" stroke-width="9.4" stroke-linecap="round" fill="none"/><path d="M667 966h0M662 971h0M694 976h0M612 1004h0M584 1020h0M640 1020h0M568 1042h0M612 1042h0M557 1048h0M596 1048h0M518 1070h0M496 1086h0M557 1086h0M502 1092h0M496 1098h0M469 1108h0M513 1125h0M480 1152h0M469 1158h0M392 1169h0M381 1180h0M425 1186h0M430 1191h0M364 1208h0M381 1224h0" stroke="#009aff" stroke-width="9.4" stroke-linecap="round" fill="none"/><path d="M722 949h0M716 954h0M678 960h0M706 966h0M700 971h0M650 976h0M645 982h0M684 982h0M623 993h0M634 993h0M574 1032h0M618 1037h0M606 1042h0M568 1076h0M508 1081h0M540 1103h0M535 1108h0M524 1114h0M447 1125h0M436 1142h0M408 1169h0M442 1180h0M420 1196h0M386 1218h0" stroke="#00bdff" stroke-width="9.4" stroke-linecap="round" fill="none"/><path d="M700 949h0M684 954h0M684 960h0M689 976h0M634 988h6M678 988h0M667 998h0M606 1004h0M596 1015h0M634 1020h0M552 1048h0M601 1048h0M596 1054h0M584 1059h0M535 1064h0M524 1070h0M557 1081h0M546 1098h0M474 1103h0M535 1103h0M513 1114h6M458 1120h0M508 1125h0M508 1130h0M430 1142h0M480 1142h0M425 1147h0M486 1147h0M464 1152h0M464 1164h0M442 1169h6M447 1180h0M376 1186h0M430 1186h0M370 1218h6" stroke="#00e0ff" stroke-width="9.4" stroke-linecap="round" fill="none"/><path d="M689 954h6M662 998h0M645 1015h0M618 1032h6M612 1037h0M601 1042h0M579 1059h0M574 1070h0M562 1081h0M552 1086h0M491 1092h0M486 1103h0M496 1136h0M474 1152h0M408 1164h0M458 1164h0M398 1169h0M392 1186h0M414 1196h0M381 1202h0M359 1208h0M364 1213h0" stroke="#04fffb" stroke-width="9.4" stroke-linecap="round" fill="none"/><path d="M678 966h0M628 1026h0M579 1037h0M590 1054h0M508 1086h0M546 1092h0M540 1098h0M508 1120h0M502 1125h0M491 1142h0M480 1147h0M420 1158h0M452 1169h0M447 1174h0M403 1180h0M381 1186h0M370 1202h0M386 1208h0" stroke="#28ffd7" stroke-width="9.4" stroke-linecap="round" fill="none"/><path d="M716 949h0M618 998h6M579 1032h0M574 1042h0M535 1059h0M513 1076h0M552 1081h0M491 1098h0M530 1108h0M464 1120h0M518 1120h0M452 1125h0M442 1136h0M486 1136h0M464 1158h0M403 1169h0M436 1174h0M436 1186h0M386 1196h0M392 1202h0M403 1202h0M376 1213h0" stroke="#4bffb4" stroke-width="9.4" stroke-linecap="round" fill="none"/><path d="M689 960h0M667 971h0M650 1010h0M640 1015h0M584 1026h0M584 1032h0M568 1037h0M524 1076h0M486 1098h0M480 1103h0M436 1136h0M420 1147h0M458 1158h0M392 1180h0M386 1191h0M386 1202h0M359 1213h0" stroke="#6eff91" stroke-width="9.4" stroke-linecap="round" fill="none"/><path d="M706 949h0M694 971h0M645 988h0M650 1004h0M606 1015h0M590 1026h0M562 1042h0M562 1048h0M552 1054h0M530 1070h0M496 1092h0M524 1108h0M464 1114h0M398 1180h0M376 1191h0M376 1196h0M381 1208h0M392 1208h0M403 1208h0M392 1213h0" stroke="#91ff6e" stroke-width="9.4" stroke-linecap="round" fill="none"/><path d="M628 993h0M612 1010h0M601 1015h0M596 1026h0M574 1037h0M557 1054h0M530 1064h0M568 1070h0M546 1086h0M491 1103h0M518 1108h0M480 1136h0M414 1158h0M398 1174h0M442 1174h0M430 1180h0M386 1186h0M398 1186h0M370 1196h0M376 1202h0M408 1202h0M370 1208h0M370 1213h0" stroke="#b4ff4b" stroke-width="9.4" stroke-linecap="round" fill="none"/><path d="M656 1004h0M568 1064h6M513 1081h0M480 1108h0M469 1114h6M491 1130h6M458 1152h0M469 1152h0M403 1164h0M392 1191h0M425 1191h0M381 1213h0M381 1218h0" stroke="#d7ff28" stroke-width="9.4" stroke-linecap="round" fill="none"/><path d="M672 966h0M700 966h0M656 976h0M618 1004h0M606 1010h0M634 1015h0M590 1020h6M502 1086h0M496 1125h0M486 1142h0M474 1147h0M447 1164h0M392 1174h0M386 1180h0M381 1191h0M381 1196h0" stroke="#fbff04" stroke-width="9.4" stroke-linecap="round" fill="none"/><path d="M645 1010h0M606 1037h0M524 1103h6M392 1196h0M408 1196h0M376 1208h0" stroke="#ffe000" stroke-width="9.4" stroke-linecap="round" fill="none"/><path d="M650 982h0M546 1054h0M579 1064h0M518 1076h0M535 1098h0M474 1108h0M403 1174h0" stroke="#ffbd00" stroke-width="9.4" stroke-linecap="round" fill="none"/><path d="M590 1032h0M552 1059h0M562 1076h0M447 1130h0M491 1136h0M425 1152h0M436 1180h0M398 1191h0" stroke="#ff9a00" stroke-width="9.4" stroke-linecap="round" fill="none"/><path d="M706 960h0M662 976h0M518 1081h0M540 1092h0M414 1164h0M398 1196h0" stroke="#ff7700" stroke-width="9.4" stroke-linecap="round" fill="none"/><path d="M628 1020h0M530 1098h0M458 1125h0M408 1174h0M425 1180h0M420 1191h0M403 1196h0" stroke="#ff5400" stroke-width="9.4" stroke-linecap="round" fill="none"/><path d="M667 993h0M623 1004h0M546 1059h0M420 1186h0" stroke="#ff3000" stroke-width="9.4" stroke-linecap="round" fill="none"/><path d="M618 1010h0M535 1070h0M540 1086h0M398 1202h0" stroke="#ff0d00" stroke-width="9.4" stroke-linecap="round" fill="none"/><path d="M601 1020h0M590 1048h0M530 1076h0M535 1092h0M447 1136h0M474 1142h0M452 1164h0M414 1191h0" stroke="#e90000" stroke-width="9.4" stroke-linecap="round" fill="none"/><path d="M623 1026h0M464 1147h6M420 1152h0" stroke="#c60000" stroke-width="9.4" stroke-linecap="round" fill="none"/><path d="M678 982h0M452 1158h0M442 1164h0" stroke="#a30000" stroke-width="9.4" stroke-linecap="round" fill="none"/><path d="M711 949h0M700 954h11M694 960h6M684 966h11M672 971h16M667 976h16M656 982h16M650 988h22M640 993h22M628 998h28M628 1004h16M623 1010h16M612 1015h16M606 1020h16M601 1026h16M596 1032h16M584 1037h16M579 1042h16M568 1048h16M562 1054h22M557 1059h16M540 1064h22M540 1070h22M535 1076h22M524 1081h22M513 1086h22M508 1092h22M502 1098h22M496 1103h22M486 1108h28M480 1114h28M469 1120h33M464 1125h28M452 1130h33M452 1136h22M442 1142h28M436 1147h22M430 1152h22M425 1158h22M420 1164h16M414 1169h22M414 1174h16M408 1180h11M403 1186h11M403 1191h6M386 1213h0" stroke="#800000" stroke-width="9.4" stroke-linecap="round" fill="none"/>
</g>
<line x1="122.5" y1="1433.0" x2="823.0" y2="861.0" stroke="#c8283a" stroke-opacity="0.8" stroke-width="4.2" clip-path="url(#c10)"/>
<path d="M262.6 1433.0v-9M262.6 861.0v9M402.7 1433.0v-9M402.7 861.0v9M542.8 1433.0v-9M542.8 861.0v9M682.9 1433.0v-9M682.9 861.0v9M122.5 1318.6h9M823.0 1318.6h-9M122.5 1204.2h9M823.0 1204.2h-9M122.5 1089.8h9M823.0 1089.8h-9M122.5 975.4h9M823.0 975.4h-9" stroke="#cfcfcf" stroke-width="2" fill="none"/>
<path d="M122.5 861.0H823.0" stroke="#dcdcdc" stroke-width="3"/>
<path d="M823.0 861.0V1433.0" stroke="#d8d8d8" stroke-width="3"/>
<path d="M122.5 859.5V1433.0" stroke="#a0a0a0" stroke-width="3"/>
<path d="M121.0 1433.0H824.0" stroke="#808080" stroke-width="3"/>
<text x="122.5" y="1483.0" font-size="37" fill="#333" text-anchor="middle">1</text>
<text x="262.6" y="1483.0" font-size="37" fill="#333" text-anchor="middle">2</text>
<text x="402.7" y="1483.0" font-size="37" fill="#333" text-anchor="middle">3</text>
<text x="542.8" y="1483.0" font-size="37" fill="#333" text-anchor="middle">4</text>
<text x="682.9" y="1483.0" font-size="37" fill="#333" text-anchor="middle">5</text>
<text x="823.0" y="1483.0" font-size="37" fill="#333" text-anchor="middle">6</text>
<text x="108.5" y="1446.3" font-size="37" fill="#333" text-anchor="end">1</text>
<text x="108.5" y="1331.9" font-size="37" fill="#333" text-anchor="end">2</text>
<text x="108.5" y="1217.5" font-size="37" fill="#333" text-anchor="end">3</text>
<text x="108.5" y="1103.1" font-size="37" fill="#333" text-anchor="end">4</text>
<text x="108.5" y="988.7" font-size="37" fill="#333" text-anchor="end">5</text>
<text x="108.5" y="874.3" font-size="37" fill="#333" text-anchor="end">6</text>
<text x="162.5" y="932.0" font-size="58" fill="#000">(e)</text>
<g clip-path="url(#c11)">
<path d="M1528 888h0M1534 905h0M1490 910h0M1501 910h0M1523 910h0M1534 910h0M1501 916h11M1484 922h6M1501 922h6M1534 922h6M1479 927h6M1545 927h0M1534 932h0M1440 938h0M1474 938h11M1545 938h0M1534 944h0M1457 949h11M1440 954h0M1413 960h0M1435 960h6M1523 960h0M1534 960h0M1413 966h11M1440 966h0M1512 966h0M1523 966h11M1400 966h0M1413 971h0M1506 971h0M1523 971h0M1391 976h6M1413 976h6M1512 976h0M1358 982h0M1391 982h6M1418 982h0M1496 982h6M1380 988h6M1396 988h0M1408 988h0M1490 988h0M1391 993h0M1490 993h11M1336 998h0M1380 998h0M1369 1004h0M1325 1005h0M1462 1010h0M1330 1015h0M1358 1015h0M1457 1015h0M1474 1015h0M1304 1016h0M1325 1020h6M1347 1020h6M1457 1020h0M1330 1026h6M1446 1026h0M1462 1026h0M1325 1032h0M1342 1032h0M1452 1032h0M1298 1037h6M1320 1037h6M1435 1037h0M1298 1042h0M1308 1042h6M1430 1042h0M1303 1048h6M1413 1048h0M1424 1048h0M1281 1054h0M1408 1054h6M1430 1054h0M1286 1059h0M1402 1059h11M1254 1064h6M1286 1064h0M1396 1064h0M1237 1070h0M1248 1070h0M1259 1070h0M1270 1070h6M1391 1070h0M1244 1075h0M1248 1076h0M1259 1076h6M1237 1081h0M1248 1081h0M1386 1081h6M1214 1086h0M1198 1086h0M1215 1086h0M1232 1086h0M1396 1086h0M1364 1092h0M1391 1092h0M1204 1098h0M1215 1098h0M1226 1098h0M1364 1098h0M1380 1098h0M1127 1103h0M1198 1103h11M1358 1103h11M1380 1103h0M1188 1108h0M1198 1108h0M1177 1109h0M1140 1112h0M1132 1114h0M1149 1114h0M1171 1114h6M1198 1114h0M1336 1114h0M1352 1114h6M1127 1120h0M1138 1120h0M1166 1120h6M1188 1120h0M1342 1120h0M1358 1120h11M1132 1125h0M1342 1125h6M1358 1125h6M1122 1130h0M1149 1130h0M1325 1130h0M1110 1133h0M1132 1136h0M1149 1136h0M1320 1136h0M1330 1136h11M1353 1139h0M1105 1142h0M1122 1142h0M1138 1142h0M1320 1142h0M1105 1147h0M1127 1147h0M1308 1147h0M1100 1152h0M1116 1152h0M1298 1152h6M1314 1152h0M1088 1158h6M1110 1158h0M1298 1158h0M1314 1158h0M1349 1163h0M1072 1164h0M1083 1164h6M1100 1164h0M1286 1164h0M1056 1169h6M1072 1169h0M1088 1169h0M1298 1169h0M1051 1174h0M1034 1174h0M1044 1174h0M1056 1174h0M1066 1174h11M1094 1174h0M1281 1174h0M1292 1174h0M1066 1180h0M1094 1180h0M1264 1180h6M1034 1186h0M1061 1186h6M1083 1186h0M1270 1186h11M1292 1186h0M1017 1191h0M1254 1191h0M1270 1191h6M1015 1191h0M1056 1196h0M1066 1196h0M1248 1196h0M1286 1196h0M995 1202h0M1006 1202h0M1017 1202h0M1056 1202h0M1248 1202h0M1259 1202h0M1028 1208h6M1044 1208h6M1226 1208h0M1242 1208h0M1270 1208h0M973 1213h0M995 1213h0M1039 1213h0M1056 1213h0M1066 1213h0M1220 1213h0M1232 1213h6M1248 1213h0M1264 1213h0M973 1218h0M1044 1218h6M1061 1218h0M1204 1218h0M1215 1218h0M1204 1224h6M956 1228h0M973 1230h0M995 1230h0M1006 1230h0M1034 1230h22M978 1235h0M1039 1235h11M1061 1235h0M1204 1235h6M995 1240h0M1006 1240h22M1039 1240h0M1050 1240h0M1198 1240h0M962 1246h0M973 1246h11M995 1246h0M1006 1246h0M1028 1246h0M1188 1246h6M1246 1251h0M924 1252h0M1182 1252h0M934 1257h0M1006 1257h0M1039 1257h0M1138 1257h6M1154 1257h0M1188 1257h0M918 1262h0M1006 1262h16M1166 1262h0M910 1265h0M924 1268h0M968 1268h6M990 1268h0M1127 1268h0M1138 1268h6M1154 1268h0M938 1270h0M962 1274h0M973 1274h0M995 1274h6M1127 1274h6M1160 1274h0M1171 1274h0M1177 1276h0M1193 1276h0M1214 1276h0M907 1279h0M924 1279h0M934 1279h0M946 1279h0M984 1279h11M1012 1279h0M1132 1279h6M1149 1279h0M924 1284h0M940 1284h0M968 1284h6M990 1284h0M1116 1284h0M912 1290h6M929 1290h6M962 1290h0M973 1290h0M984 1290h0M1017 1290h0M1127 1290h6M1149 1290h0M907 1296h0M918 1296h0M929 1296h0M946 1296h0M1000 1296h6M1100 1296h0M1110 1296h33M1170 1300h0M978 1301h0M995 1301h0M1012 1301h0M1105 1301h6M1122 1301h6M1144 1301h0M917 1305h0M995 1306h6M1072 1306h0M1110 1306h6M1160 1306h0M931 1311h0M902 1312h0M912 1312h0M929 1312h0M990 1312h0M1066 1312h0M1094 1312h6M1110 1312h0M940 1318h0M978 1318h6M1006 1318h6M1034 1318h0M1044 1318h0M1072 1318h11M1094 1318h0M1105 1318h0M1116 1318h0M918 1323h0M929 1323h0M951 1323h0M1000 1323h0M1012 1323h0M1039 1323h6M1072 1323h16M1105 1323h0M918 1328h0M1034 1328h0M1050 1328h0M1066 1328h6M918 1334h6M995 1334h0M1006 1334h0M1050 1334h0M954 1339h0M973 1340h0M990 1340h0M1012 1340h0M1022 1340h0M1034 1340h11M1061 1340h0M902 1345h0M918 1345h0M990 1345h0M1028 1345h6M929 1350h0M951 1350h0M1028 1350h0M962 1356h0M984 1356h0M901 1358h0M907 1362h0M934 1362h0M962 1362h0M973 1362h6M1000 1362h0M1056 1362h0M1066 1362h0M902 1367h0M912 1367h0M1028 1367h0M1039 1367h0M947 1369h0M912 1372h0M924 1372h0M934 1372h0M946 1372h0M962 1372h0M973 1372h0M924 1378h0M934 1378h0M978 1378h0M1006 1378h0M1022 1378h0M1044 1378h0M924 1384h0M1028 1384h0M991 1388h0M912 1389h6M907 1394h6M929 1394h0M1012 1394h0M1022 1394h0M951 1400h0M1012 1400h0M907 1406h0M946 1406h0M903 1406h0M940 1411h0M951 1411h0M1014 1413h0M956 1416h0M978 1416h0M940 1422h0M951 1422h0M910 1423h0M970 1423h0M912 1428h0M924 1433h0" stroke="#08084f" stroke-width="9.4" stroke-linecap="round" fill="none"/><path d="M1512 910h0M1528 910h0M1528 916h6M1501 927h0M1474 932h0M1484 932h0M1496 932h0M1468 938h0M1534 938h0M1484 944h0M1435 949h0M1474 949h0M1528 949h6M1446 954h6M1430 960h0M1446 966h0M1424 971h0M1435 971h0M1512 971h0M1430 976h0M1496 976h0M1402 982h0M1424 982h0M1490 982h0M1413 988h0M1484 988h0M1496 988h0M1396 993h6M1484 993h0M1386 998h0M1396 998h0M1479 998h0M1386 1004h0M1369 1010h0M1364 1015h0M1446 1015h0M1440 1020h6M1347 1026h0M1435 1026h6M1347 1032h0M1314 1037h0M1336 1037h0M1418 1037h0M1320 1042h0M1281 1048h0M1286 1054h0M1298 1054h0M1276 1059h0M1391 1064h0M1264 1070h0M1254 1076h0M1374 1076h0M1391 1076h0M1254 1081h6M1374 1081h0M1237 1086h0M1232 1092h6M1352 1092h6M1352 1098h0M1369 1098h0M1215 1103h0M1226 1103h0M1342 1103h0M1352 1103h0M1342 1108h0M1364 1108h0M1204 1120h0M1352 1120h0M1144 1125h6M1171 1125h11M1303 1125h6M1320 1125h6M1369 1125h0M1132 1130h0M1154 1130h0M1320 1130h0M1347 1130h0M1122 1136h0M1138 1136h6M1160 1136h0M1308 1136h0M1325 1136h0M1132 1142h0M1144 1142h0M1314 1142h0M1330 1142h0M1122 1147h0M1144 1147h0M1154 1147h0M1166 1147h0M1276 1147h0M1286 1147h0M1314 1147h0M1325 1147h0M1122 1152h6M1292 1152h0M1122 1158h0M1144 1158h6M1308 1158h0M1056 1164h0M1264 1164h0M1276 1164h0M1298 1164h0M1100 1169h0M1264 1169h0M1286 1169h0M1105 1174h0M1248 1174h0M1270 1174h0M1022 1180h0M1056 1180h0M1072 1180h0M1083 1180h6M1254 1180h0M1094 1186h0M1105 1186h6M1248 1186h0M1050 1191h0M1105 1191h0M1248 1191h0M1259 1191h6M1061 1196h0M1078 1196h0M1254 1196h0M1264 1196h0M1050 1202h0M1061 1202h6M1210 1202h0M1237 1202h0M1056 1208h16M1083 1208h0M1094 1208h0M1105 1208h0M1215 1208h0M1237 1208h0M1088 1213h0M1193 1213h6M1242 1213h0M1259 1213h0M1056 1218h0M1188 1218h0M1226 1218h0M1039 1224h6M1066 1224h0M1176 1224h0M1188 1224h0M1193 1230h0M1204 1230h0M1000 1235h0M1078 1235h6M1160 1235h0M1176 1235h22M1176 1240h0M1193 1240h0M1034 1246h6M1061 1246h0M1078 1246h6M1149 1246h0M978 1252h0M1012 1252h0M1050 1252h0M1061 1252h6M1100 1252h0M1138 1252h16M1166 1252h11M984 1257h0M1044 1257h22M1088 1257h16M1127 1257h0M1149 1257h0M1166 1257h0M1176 1257h6M990 1262h0M1044 1262h6M1072 1262h0M1088 1262h0M1100 1262h0M1122 1262h6M1160 1262h0M995 1268h6M1028 1268h0M1039 1268h0M1050 1268h6M1066 1268h6M1100 1268h0M1116 1268h6M1149 1268h0M1012 1274h0M1022 1274h0M1061 1274h6M1122 1274h0M1138 1274h0M968 1279h0M1000 1279h0M1022 1279h0M1066 1279h6M1094 1279h6M1122 1279h0M1144 1279h0M995 1284h0M1006 1284h0M1017 1284h0M1028 1284h6M1056 1284h6M1078 1284h6M1012 1290h0M1028 1290h0M1050 1290h11M1078 1290h0M1088 1290h0M1100 1290h0M1110 1290h0M1017 1296h0M1028 1296h0M1044 1296h0M1056 1296h6M1078 1296h0M1105 1296h0M902 1301h0M984 1301h0M1000 1301h0M1017 1301h6M1044 1301h0M1056 1301h0M1066 1301h0M1083 1301h0M1094 1301h0M1017 1306h0M1056 1306h11M1012 1312h0M1022 1312h6M1050 1312h0M1072 1312h11M1116 1312h0M1050 1318h0M1061 1318h0M946 1323h0M1017 1323h0M1056 1323h0M1006 1328h6M1022 1328h6M1056 1328h0M1028 1340h0M968 1400h0" stroke="#060680" stroke-width="9.4" stroke-linecap="round" fill="none"/><path d="M1496 922h0M1512 922h0M1534 927h0M1452 960h6M1430 966h6M1452 966h0M1440 971h0M1424 976h0M1374 993h0M1386 993h0M1474 993h6M1364 998h0M1468 998h0M1364 1004h0M1374 1004h0M1462 1004h0M1374 1010h0M1457 1010h0M1369 1015h0M1452 1015h0M1336 1020h6M1358 1020h0M1352 1026h0M1320 1032h0M1330 1037h0M1325 1042h0M1336 1042h0M1413 1042h0M1314 1048h6M1408 1048h0M1418 1048h0M1292 1054h0M1303 1054h0M1314 1054h0M1396 1054h6M1298 1059h6M1386 1059h11M1276 1064h0M1386 1064h0M1380 1070h6M1270 1076h0M1369 1076h0M1358 1081h11M1242 1086h6M1364 1086h11M1242 1092h0M1369 1092h0M1210 1098h0M1232 1098h0M1330 1103h6M1347 1103h0M1210 1108h0M1220 1108h0M1325 1108h11M1204 1114h6M1330 1114h0M1342 1114h0M1182 1120h0M1193 1120h6M1320 1120h16M1347 1120h0M1188 1125h11M1330 1125h6M1138 1130h0M1160 1130h33M1292 1130h11M1314 1130h0M1330 1130h0M1154 1136h0M1166 1136h0M1176 1136h6M1286 1136h11M1154 1142h6M1176 1142h0M1292 1142h16M1281 1147h0M1292 1147h11M1144 1152h0M1160 1152h0M1270 1152h16M1308 1152h0M1105 1158h0M1138 1158h0M1264 1158h28M1094 1164h0M1122 1164h0M1132 1164h0M1144 1164h0M1259 1164h0M1270 1164h0M1281 1164h0M1078 1169h0M1127 1169h11M1248 1169h0M1259 1169h0M1270 1169h6M1100 1174h0M1110 1174h0M1127 1174h6M1237 1174h6M1254 1174h11M1276 1174h0M1105 1180h6M1122 1180h6M1242 1180h6M1259 1180h0M1078 1186h0M1116 1186h6M1226 1186h11M1254 1186h0M1264 1186h0M1061 1191h0M1100 1191h0M1116 1191h0M1220 1191h6M1242 1191h0M1072 1196h0M1083 1196h6M1110 1196h0M1215 1196h6M1232 1196h6M1072 1202h22M1215 1202h6M1232 1202h0M1100 1208h0M1204 1208h0M1220 1208h0M1232 1208h0M1072 1213h11M1094 1213h0M1210 1213h0M1066 1218h16M1100 1218h0M1198 1218h0M1056 1224h0M1072 1224h6M1088 1224h0M1182 1224h0M1193 1224h6M1061 1230h11M1088 1230h0M1166 1230h0M1176 1230h0M1198 1230h0M1210 1230h0M1072 1235h0M1171 1235h0M1061 1240h16M1154 1240h6M1171 1240h0M1182 1240h6M1056 1246h0M1066 1246h6M1088 1246h0M1144 1246h0M1171 1246h0M1182 1246h0M1006 1252h0M1022 1252h0M1056 1252h0M1078 1252h16M1105 1252h0M1132 1252h0M1160 1252h0M1188 1252h0M1017 1257h0M1072 1257h6M1110 1257h11M1132 1257h0M1160 1257h0M1034 1262h6M1056 1262h0M1078 1262h6M1105 1262h6M1138 1262h0M1006 1268h0M1061 1268h0M1083 1268h11M1105 1268h0M1132 1268h0M1017 1274h0M1028 1274h11M1056 1274h0M1083 1274h22M1116 1274h0M1144 1274h0M1017 1279h0M1028 1279h11M1061 1279h0M1078 1279h11M1105 1279h0M1116 1279h0M1000 1284h0M1039 1284h11M1072 1284h0M1088 1284h0M1100 1284h0M1110 1284h0M1122 1284h11M902 1290h0M995 1290h0M1006 1290h0M1034 1290h6M1066 1290h6M1083 1290h0M1105 1290h0M1022 1296h0M1034 1296h0M1050 1296h0M1066 1296h6M1083 1296h0M1094 1296h0M1028 1301h0M1039 1301h0M1061 1301h0M1072 1301h6M1022 1306h6M1039 1306h11M1078 1306h0M1094 1306h0M1034 1312h6M1056 1312h6M1000 1318h0M1022 1318h0M1034 1323h0M1000 1328h0M1012 1334h0M1022 1334h0" stroke="#0303b0" stroke-width="9.4" stroke-linecap="round" fill="none"/><path d="M1518 916h6M1490 932h0M1490 938h0M1446 949h0M1479 949h0M1462 954h6M1523 954h0M1462 960h0M1501 971h0M1501 976h0M1484 982h0M1418 988h0M1364 1020h0M1424 1032h6M1424 1037h0M1330 1042h0M1408 1042h0M1308 1054h0M1292 1064h0M1281 1070h0M1380 1076h0M1226 1086h0M1352 1086h6M1347 1092h0M1237 1098h0M1342 1098h6M1220 1103h0M1215 1108h0M1193 1114h0M1320 1114h6M1308 1120h6M1336 1130h0M1171 1136h0M1303 1136h0M1314 1136h0M1149 1142h0M1166 1142h6M1281 1142h6M1149 1147h0M1171 1147h0M1132 1152h6M1149 1152h6M1154 1158h0M1116 1164h0M1254 1164h0M1116 1169h6M1144 1169h0M1254 1169h0M1281 1169h0M1116 1174h6M1100 1180h0M1132 1180h0M1232 1180h6M1072 1186h0M1088 1186h0M1242 1186h0M1078 1191h6M1094 1191h0M1110 1191h0M1232 1191h6M1094 1196h6M1116 1196h0M1210 1196h0M1226 1196h0M1100 1202h6M1204 1202h0M1226 1202h0M1078 1208h0M1198 1208h0M1061 1213h0M1100 1213h6M1188 1213h0M1088 1218h6M1176 1218h0M1193 1218h0M1061 1224h0M1083 1224h0M1094 1224h0M1171 1224h0M1078 1230h0M1171 1230h0M1182 1230h6M1088 1235h0M1166 1235h0M1056 1240h0M1083 1240h0M1166 1240h0M1044 1246h6M1160 1246h6M1072 1252h0M995 1257h0M995 1262h6M1066 1262h0M1094 1262h0M1116 1262h0M1132 1262h0M1149 1262h6M1034 1268h0M1044 1268h0M1078 1268h0M1110 1268h0M1006 1274h0M1050 1274h0M1072 1274h6M1110 1274h0M1044 1279h11M1110 1279h0M1022 1284h0M1066 1284h0M1094 1284h0M1105 1284h0M1022 1290h0M1044 1290h0M1094 1290h0M1039 1296h0M1088 1296h0M1034 1301h0M1050 1301h0M1034 1306h0M1028 1318h0M1039 1318h0M1066 1318h0M1017 1328h0M1017 1334h0" stroke="#0101e1" stroke-width="9.4" stroke-linecap="round" fill="none"/><path d="M1506 927h0M1501 932h0M1518 954h0M1512 960h0M1457 966h0M1506 966h0M1446 971h0M1435 976h0M1391 1004h0M1457 1004h0M1380 1010h6M1358 1026h0M1430 1026h0M1435 1032h0M1342 1037h0M1369 1070h6M1364 1076h0M1264 1081h0M1347 1086h0M1336 1098h0M1232 1103h0M1320 1108h0M1215 1114h0M1308 1130h0M1160 1147h0M1100 1158h0M1132 1158h0M1259 1158h0M1110 1164h0M1149 1164h0M1242 1169h0M1100 1186h0M1072 1191h0M1088 1191h0M1105 1196h0M1088 1208h0M1193 1208h0M1210 1208h0M1204 1213h0M1182 1218h0M1083 1230h0M1105 1246h0M1154 1246h0M1176 1246h0M1110 1252h6M1127 1252h0M1083 1257h0M1028 1262h0M1061 1262h0M1116 1290h0" stroke="#000dff" stroke-width="9.4" stroke-linecap="round" fill="none"/><path d="M1528 927h0M1496 938h0M1479 988h0M1402 998h0M1374 1015h0M1413 1037h0M1325 1048h0M1402 1048h0M1380 1064h0M1286 1070h0M1342 1086h0M1342 1092h0M1204 1125h0M1298 1125h0M1188 1136h0M1276 1142h0M1138 1147h0M1270 1147h0M1264 1152h0M1254 1158h0M1138 1174h0M1226 1180h0M1215 1191h0M1242 1196h0M1110 1208h0M1105 1218h0M1094 1230h0M1094 1235h0M1154 1235h0M1088 1240h0M1144 1240h6M1094 1246h6M1138 1246h0M1022 1323h0" stroke="#0030ff" stroke-width="9.4" stroke-linecap="round" fill="none"/><path d="M1490 944h0M1408 993h0M1452 1004h0M1396 1048h0M1276 1076h0M1352 1081h0M1254 1092h0M1325 1103h0M1204 1108h0M1308 1114h6M1303 1120h0M1182 1142h0M1176 1147h0M1166 1152h0M1127 1158h0M1160 1158h0M1220 1186h0M1210 1191h0M1100 1224h0M1166 1224h0" stroke="#0054ff" stroke-width="9.4" stroke-linecap="round" fill="none"/><path d="M1518 922h6M1528 932h0M1501 938h0M1484 949h0M1523 949h0M1512 954h0M1501 966h0M1496 971h0M1490 976h0M1413 993h0M1452 1010h0M1369 1020h0M1435 1020h0M1424 1026h0M1352 1032h0M1418 1032h0M1330 1048h0M1320 1054h0M1391 1054h0M1308 1059h0M1374 1064h0M1347 1081h0M1242 1098h0M1314 1103h0M1220 1114h0M1281 1136h0M1171 1152h0M1248 1158h0M1166 1169h0M1127 1186h0M1204 1191h0M1204 1196h0M1116 1202h0M1160 1230h0M1094 1240h0M1110 1246h0" stroke="#0077ff" stroke-width="9.4" stroke-linecap="round" fill="none"/><path d="M1506 932h0M1452 971h0M1479 982h0M1468 993h0M1457 998h0M1380 1015h0M1440 1015h0M1408 1037h0M1402 1042h0M1386 1054h0M1380 1059h0M1298 1064h0M1292 1070h0M1364 1070h0M1281 1076h0M1336 1081h0M1248 1092h0M1226 1108h0M1198 1130h0M1232 1174h0M1144 1180h0M1182 1213h0M1154 1224h0M1100 1240h0M1132 1240h0M1132 1246h0M1122 1252h0" stroke="#009aff" stroke-width="9.4" stroke-linecap="round" fill="none"/><path d="M1528 922h0M1528 944h0M1506 960h0M1462 966h0M1440 976h0M1474 988h0M1446 998h0M1396 1004h0M1430 1020h0M1408 1032h0M1347 1037h0M1342 1076h0M1358 1076h0M1270 1081h0M1259 1086h0M1237 1103h0M1210 1120h0M1204 1136h0M1259 1152h0M1176 1158h0M1149 1169h0M1122 1191h0M1198 1202h0M1110 1213h0M1166 1213h0M1138 1218h0M1171 1218h0M1132 1230h0M1144 1235h0" stroke="#00bdff" stroke-width="9.4" stroke-linecap="round" fill="none"/><path d="M1512 927h0M1528 938h0M1430 982h0M1424 988h0M1435 1015h0M1374 1020h0M1358 1032h0M1396 1042h0M1374 1059h0M1281 1081h0M1254 1098h0M1303 1103h0M1292 1125h0M1210 1130h0M1286 1130h0M1270 1142h0M1154 1164h0M1248 1164h0M1149 1174h0M1149 1186h0M1132 1191h0M1176 1208h0M1116 1218h0M1149 1218h6M1160 1224h0M1100 1230h0M1149 1235h0" stroke="#00e0ff" stroke-width="9.4" stroke-linecap="round" fill="none"/><path d="M1518 949h0M1474 954h0M1496 960h0M1479 976h6M1418 993h0M1446 1010h0M1364 1026h0M1418 1026h0M1374 1054h0M1347 1070h0M1342 1081h0M1264 1086h0M1259 1092h0M1188 1142h0M1259 1142h0M1144 1174h0M1182 1196h6M1182 1202h0M1182 1208h0M1138 1213h0M1171 1213h6M1127 1218h0M1105 1224h0M1122 1224h0M1132 1224h0M1149 1224h0M1110 1230h0M1127 1230h0M1144 1230h0" stroke="#04fffb" stroke-width="9.4" stroke-linecap="round" fill="none"/><path d="M1468 960h0M1501 960h0M1452 993h0M1462 993h0M1452 998h0M1424 1020h0M1369 1026h0M1314 1059h0M1303 1064h0M1369 1064h0M1347 1076h6M1325 1092h0M1320 1098h0M1232 1114h0M1292 1114h0M1204 1130h0M1259 1136h0M1193 1147h0M1176 1152h0M1254 1152h0M1232 1158h6M1232 1164h6M1154 1169h0M1138 1180h0M1149 1180h0M1220 1180h0M1138 1186h6M1144 1191h0M1138 1202h0M1166 1208h0M1116 1213h0M1144 1213h0M1132 1218h0M1160 1218h0M1138 1224h0M1100 1235h0M1110 1235h0M1122 1235h6M1138 1235h0M1110 1240h0M1127 1246h0" stroke="#28ffd7" stroke-width="9.4" stroke-linecap="round" fill="none"/><path d="M1435 982h0M1424 993h0M1457 993h0M1352 1037h0M1325 1054h0M1369 1059h0M1358 1064h6M1358 1070h0M1270 1086h0M1320 1092h0M1330 1098h0M1248 1103h0M1308 1103h0M1286 1120h0M1264 1142h0M1259 1147h0M1166 1158h0M1160 1164h0M1171 1164h0M1226 1164h0M1154 1174h0M1215 1186h0M1138 1191h0M1132 1196h0M1144 1196h0M1193 1196h0M1193 1202h0M1116 1208h0M1149 1208h0M1171 1208h0M1127 1213h0M1110 1224h0M1116 1230h0" stroke="#4bffb4" stroke-width="9.4" stroke-linecap="round" fill="none"/><path d="M1518 944h6M1496 966h0M1462 988h6M1413 998h0M1391 1010h0M1386 1015h0M1380 1048h0M1298 1070h0M1320 1103h0M1303 1108h0M1314 1108h0M1220 1125h0M1286 1125h0M1281 1130h0M1193 1136h0M1248 1142h6M1182 1152h0M1242 1158h0M1226 1169h0M1132 1186h0M1188 1191h0M1122 1196h0M1188 1202h0M1132 1208h6M1122 1218h0M1116 1224h0M1144 1224h0" stroke="#6eff91" stroke-width="9.4" stroke-linecap="round" fill="none"/><path d="M1512 949h0M1490 971h0M1430 988h0M1408 998h0M1396 1010h0M1424 1015h0M1330 1054h0M1369 1054h0M1286 1076h6M1330 1086h0M1325 1098h0M1232 1108h0M1303 1114h0M1226 1120h0M1281 1120h0M1298 1120h0M1264 1130h0M1188 1147h0M1242 1147h0M1254 1147h0M1160 1169h0M1232 1169h0M1210 1180h0M1149 1202h0M1122 1208h0M1166 1218h0M1105 1230h0M1116 1246h0" stroke="#91ff6e" stroke-width="9.4" stroke-linecap="round" fill="none"/><path d="M1457 971h0M1402 1004h0M1446 1004h0M1402 1037h0M1336 1048h0M1386 1048h0M1380 1054h0M1320 1059h0M1364 1059h0M1336 1086h0M1264 1092h0M1242 1103h0M1226 1114h0M1298 1114h0M1220 1120h0M1270 1125h0M1281 1125h0M1276 1136h0M1182 1147h0M1264 1147h0M1237 1152h6M1242 1164h0M1210 1174h0M1160 1180h0M1154 1186h0M1210 1186h0M1127 1191h0M1127 1196h0M1138 1196h0M1132 1202h0M1122 1213h0M1127 1224h0M1132 1235h0" stroke="#b4ff4b" stroke-width="9.4" stroke-linecap="round" fill="none"/><path d="M1523 938h0M1490 966h0M1468 982h0M1408 1004h0M1430 1015h0M1396 1037h0M1342 1042h0M1308 1064h0M1286 1081h0M1248 1098h0M1292 1108h0M1215 1120h0M1292 1120h0M1248 1152h0M1237 1169h0M1215 1174h0M1154 1180h0M1204 1180h0M1149 1191h0M1149 1196h0M1198 1196h0M1127 1202h0M1144 1208h0M1188 1208h0M1138 1230h0M1154 1230h0M1116 1235h0M1127 1240h0" stroke="#d7ff28" stroke-width="9.4" stroke-linecap="round" fill="none"/><path d="M1479 971h6M1440 982h0M1462 982h0M1474 982h0M1440 1010h0M1418 1020h0M1364 1032h0M1358 1037h0M1276 1125h0M1270 1130h0M1171 1158h0M1220 1169h0M1198 1191h0M1144 1202h0M1149 1213h0M1149 1230h0M1105 1240h0M1122 1246h0" stroke="#fbff04" stroke-width="9.4" stroke-linecap="round" fill="none"/><path d="M1474 976h0M1435 988h0M1418 998h0M1440 1004h0M1386 1042h0M1391 1048h0M1276 1081h0M1336 1092h0M1298 1108h0M1210 1125h0M1264 1136h6M1193 1142h0M1166 1164h0M1198 1186h0M1193 1191h0M1122 1202h0M1122 1230h0M1105 1235h0M1116 1240h0" stroke="#ffe000" stroke-width="9.4" stroke-linecap="round" fill="none"/><path d="M1496 944h0M1506 954h0M1435 1004h0M1435 1010h0M1308 1108h0M1215 1125h0M1160 1174h0M1122 1240h0" stroke="#ffbd00" stroke-width="9.4" stroke-linecap="round" fill="none"/><path d="M1518 938h0M1457 988h0M1430 1010h0M1408 1026h6M1298 1076h0M1325 1086h0M1226 1174h0M1127 1208h0M1110 1218h0M1144 1218h0" stroke="#ff9a00" stroke-width="9.4" stroke-linecap="round" fill="none"/><path d="M1468 966h0M1286 1114h0M1198 1136h0M1248 1147h0M1138 1240h0" stroke="#ff7700" stroke-width="9.4" stroke-linecap="round" fill="none"/><path d="M1413 1032h0M1391 1042h0M1336 1054h0M1314 1064h0M1303 1070h0M1352 1070h0M1330 1081h0M1330 1092h0M1242 1108h0M1215 1180h0M1132 1213h0" stroke="#ff5400" stroke-width="9.4" stroke-linecap="round" fill="none"/><path d="M1501 954h0M1314 1098h0M1193 1186h0" stroke="#ff3000" stroke-width="9.4" stroke-linecap="round" fill="none"/><path d="M1446 976h0M1380 1020h0M1342 1048h0M1374 1048h0M1320 1086h0M1254 1136h0M1215 1169h0M1204 1174h0M1204 1186h0" stroke="#ff0d00" stroke-width="9.4" stroke-linecap="round" fill="none"/><path d="M1518 927h0M1496 954h0M1413 1020h0M1237 1114h0M1276 1130h0M1176 1202h0M1154 1208h0M1160 1213h0" stroke="#e90000" stroke-width="9.4" stroke-linecap="round" fill="none"/><path d="M1506 938h0M1479 954h0M1402 1032h0M1325 1059h0M1352 1064h0M1336 1076h0M1276 1086h0M1198 1142h0M1232 1152h0M1166 1174h0" stroke="#c60000" stroke-width="9.4" stroke-linecap="round" fill="none"/><path d="M1452 976h0M1440 998h0M1347 1042h0M1220 1174h0M1154 1213h0" stroke="#a30000" stroke-width="9.4" stroke-linecap="round" fill="none"/><path d="M1523 927h0M1512 932h11M1512 938h0M1501 944h11M1490 949h16M1484 954h6M1474 960h16M1474 966h11M1462 971h11M1457 976h11M1446 982h11M1440 988h11M1430 993h16M1424 998h11M1413 1004h16M1402 1010h22M1391 1015h28M1386 1020h22M1374 1026h28M1369 1032h28M1364 1037h28M1352 1042h28M1347 1048h22M1342 1054h22M1330 1059h28M1320 1064h28M1308 1070h33M1303 1076h28M1292 1081h33M1281 1086h33M1270 1092h44M1259 1098h50M1254 1103h44M1237 1108h0M1248 1108h38M1242 1114h38M1232 1120h44M1226 1125h38M1215 1130h44M1210 1136h38M1204 1142h38M1198 1147h38M1188 1152h38M1182 1158h44M1176 1164h44M1171 1169h38M1171 1174h28M1166 1180h33M1160 1186h28M1154 1191h28M1154 1196h22M1154 1202h16M1160 1208h0" stroke="#800000" stroke-width="9.4" stroke-linecap="round" fill="none"/>
</g>
<line x1="896.0" y1="1433.0" x2="1596.0" y2="861.0" stroke="#c8283a" stroke-opacity="0.8" stroke-width="4.2" clip-path="url(#c11)"/>
<path d="M1036.0 1433.0v-9M1036.0 861.0v9M1176.0 1433.0v-9M1176.0 861.0v9M1316.0 1433.0v-9M1316.0 861.0v9M1456.0 1433.0v-9M1456.0 861.0v9M896.0 1318.6h9M1596.0 1318.6h-9M896.0 1204.2h9M1596.0 1204.2h-9M896.0 1089.8h9M1596.0 1089.8h-9M896.0 975.4h9M1596.0 975.4h-9" stroke="#cfcfcf" stroke-width="2" fill="none"/>
<path d="M896.0 861.0H1596.0" stroke="#dcdcdc" stroke-width="3"/>
<path d="M1596.0 861.0V1433.0" stroke="#d8d8d8" stroke-width="3"/>
<path d="M896.0 859.5V1433.0" stroke="#a0a0a0" stroke-width="3"/>
<path d="M894.5 1433.0H1597.0" stroke="#808080" stroke-width="3"/>
<text x="896.0" y="1483.0" font-size="37" fill="#333" text-anchor="middle">1</text>
<text x="1036.0" y="1483.0" font-size="37" fill="#333" text-anchor="middle">2</text>
<text x="1176.0" y="1483.0" font-size="37" fill="#333" text-anchor="middle">3</text>
<text x="1316.0" y="1483.0" font-size="37" fill="#333" text-anchor="middle">4</text>
<text x="1456.0" y="1483.0" font-size="37" fill="#333" text-anchor="middle">5</text>
<text x="1596.0" y="1483.0" font-size="37" fill="#333" text-anchor="middle">6</text>
<text x="936.0" y="932.0" font-size="58" fill="#000">(f)</text>
<g clip-path="url(#c12)">
<path d="M2307 888h0M2256 894h0M2268 900h0M2302 900h11M2280 905h0M2296 905h6M2318 905h0M2312 910h0M2252 916h0M2280 916h0M2318 916h0M2184 921h0M2246 922h0M2241 927h6M2258 927h0M2224 932h0M2312 932h0M2224 938h11M2318 938h0M2208 944h0M2224 944h0M2312 944h0M2202 949h0M2312 949h0M2161 954h0M2296 954h0M2312 954h0M2186 960h6M2296 960h0M2290 966h6M2186 971h6M2307 971h0M2164 976h16M2274 976h0M2290 976h0M2148 982h0M2158 982h0M2170 982h0M2170 988h0M2258 988h0M2268 988h0M2153 993h0M2252 993h0M2263 993h0M2142 998h0M2252 998h0M2263 998h0M2136 1004h6M2246 1004h0M2263 1004h0M2109 1010h0M2131 1010h0M2142 1010h0M2236 1010h6M2263 1010h0M2114 1015h6M2136 1015h0M2241 1015h0M2092 1020h0M2230 1020h0M2087 1026h0M2098 1026h0M2224 1026h0M2076 1032h0M2236 1032h0M2238 1035h0M2054 1037h0M2087 1037h0M2214 1037h6M2060 1042h0M2208 1042h0M2054 1048h6M2208 1054h6M2026 1059h6M2054 1059h0M2233 1061h0M2004 1064h0M2197 1064h0M2010 1070h22M2175 1070h0M2197 1070h0M1994 1076h6M2032 1076h0M2180 1076h6M1880 1077h0M1977 1081h6M2016 1081h0M1977 1086h0M1994 1086h6M2164 1086h0M1972 1092h0M1999 1092h6M2153 1092h0M2180 1092h0M1913 1093h0M1950 1098h0M2142 1098h0M2153 1098h0M1938 1103h6M2136 1103h0M1900 1108h0M1944 1108h11M1977 1108h0M1911 1114h0M1950 1114h0M1972 1114h0M1906 1120h0M1916 1120h0M1928 1120h0M1944 1120h0M1966 1120h0M1922 1125h0M1944 1125h6M2120 1125h6M1889 1130h0M1894 1130h6M1928 1130h0M2104 1130h0M1894 1136h0M1906 1136h0M1933 1136h0M2098 1136h0M2109 1136h0M1906 1142h0M1916 1142h0M1938 1142h0M1867 1147h6M1884 1147h0M1911 1147h0M2087 1147h0M2104 1147h0M2120 1147h0M1845 1152h0M1862 1152h0M1872 1152h0M1884 1152h0M1911 1152h0M2092 1152h0M1862 1158h0M1872 1158h0M1889 1158h6M1906 1158h0M2076 1158h0M1878 1164h0M1911 1164h0M2096 1167h0M1850 1169h0M1862 1169h0M1884 1169h0M1900 1169h0M1792 1170h0M1845 1174h6M1862 1174h6M1894 1174h6M2070 1174h6M1828 1180h0M1889 1180h0M2054 1180h0M1799 1181h0M2096 1182h0M1840 1186h16M1884 1186h0M1894 1186h0M2065 1186h0M1856 1191h0M1867 1191h0M1878 1191h0M1894 1191h6M2043 1191h6M1823 1196h6M1840 1196h0M1850 1196h0M1894 1196h0M2043 1196h6M1812 1202h0M1823 1202h6M1878 1202h0M1889 1202h11M1801 1208h0M1834 1208h0M1850 1208h0M1889 1208h6M1806 1213h0M1818 1213h11M1840 1213h0M1862 1213h0M1884 1213h0M2016 1213h6M2032 1213h0M1779 1218h6M1823 1218h6M1840 1218h6M1856 1218h0M1872 1218h6M2021 1218h0M2032 1218h0M1790 1224h11M1818 1224h0M1850 1224h0M1867 1224h0M1878 1224h6M1911 1224h0M1999 1224h0M2010 1224h11M1779 1230h6M1796 1230h0M1840 1230h0M1884 1230h0M1916 1230h16M1977 1230h11M2004 1230h0M1796 1235h0M1823 1235h0M1840 1235h6M1867 1235h0M1884 1235h0M1906 1235h0M1916 1235h0M1933 1235h16M1972 1235h6M1988 1235h11M2064 1237h0M1774 1240h0M1801 1240h0M1823 1240h0M1856 1240h0M1894 1240h0M1916 1240h0M1933 1240h6M1950 1240h0M1988 1240h0M1784 1246h0M1796 1246h0M1823 1246h0M1845 1246h6M1884 1246h0M1774 1252h0M1812 1252h6M1840 1252h0M1856 1252h0M1867 1252h0M1911 1252h11M1673 1256h0M1768 1257h0M1779 1257h0M1796 1257h6M1812 1257h0M1845 1257h0M1856 1257h0M1872 1257h0M1894 1257h0M1906 1257h0M1922 1257h0M1779 1262h0M1801 1262h6M1828 1262h0M1867 1262h16M1911 1262h0M1922 1262h0M1779 1268h0M1806 1268h0M1845 1268h6M1862 1268h6M1878 1268h0M1900 1268h0M1911 1268h0M1938 1268h0M1713 1268h0M1779 1274h0M1790 1274h6M1823 1274h0M1840 1274h0M1867 1274h6M1889 1274h0M1900 1274h0M1922 1274h0M1681 1275h0M1992 1275h0M1746 1279h6M1762 1279h11M1796 1279h0M1806 1279h0M1823 1279h0M1845 1279h0M1884 1279h0M1916 1279h6M1933 1279h0M1757 1284h0M1768 1284h6M1801 1284h0M1823 1284h6M1850 1284h0M1878 1284h0M1911 1284h6M1933 1284h0M1746 1290h0M1757 1290h0M1779 1290h0M1806 1290h0M1823 1290h0M1834 1290h0M1845 1290h0M1862 1290h0M1878 1290h0M1889 1290h0M1911 1290h0M1774 1296h6M1790 1296h0M1906 1296h0M1724 1301h0M1757 1301h0M1779 1301h16M1812 1301h0M1823 1301h6M1867 1301h0M1878 1301h0M1900 1301h0M1735 1306h28M1779 1306h0M1790 1306h0M1845 1306h0M1867 1306h6M2168 1309h0M1708 1312h0M1724 1312h6M1752 1312h11M1774 1312h6M1818 1312h0M1850 1312h0M1894 1312h0M1691 1318h0M1708 1318h0M1724 1318h0M1735 1318h0M1757 1318h0M1806 1318h6M1823 1318h16M1850 1318h6M1867 1318h0M1724 1323h0M1735 1323h6M1790 1323h0M1818 1323h0M1840 1323h0M1674 1328h6M1691 1328h6M1724 1328h6M1757 1328h6M1774 1328h0M1790 1328h0M1812 1328h0M1823 1328h6M1840 1328h0M1850 1328h0M1862 1328h0M1669 1334h6M1686 1334h0M1713 1334h0M1724 1334h0M1784 1334h0M1806 1334h0M1818 1334h0M1828 1334h0M1889 1334h0M1669 1340h0M1686 1340h0M1702 1340h6M1718 1340h0M1730 1340h0M1752 1340h0M1784 1340h0M1801 1340h6M1818 1340h0M1828 1340h0M1691 1345h11M1735 1345h0M1762 1345h0M1790 1345h0M1801 1345h0M1812 1345h0M1834 1345h0M1845 1345h0M1691 1350h6M1718 1350h0M1762 1350h0M1796 1350h6M1812 1350h6M1845 1350h0M1856 1350h6M1674 1356h6M1730 1356h0M1752 1356h0M1774 1356h0M1796 1356h6M1845 1356h0M1872 1356h0M1669 1362h0M1691 1362h0M1702 1362h0M1724 1362h6M1740 1362h11M1784 1362h0M2041 1363h0M1680 1367h6M1696 1367h0M1730 1367h6M1774 1367h6M1801 1367h11M1823 1367h6M1674 1372h11M1702 1372h0M1724 1372h0M1735 1372h0M1757 1372h0M1768 1372h0M1796 1372h6M1702 1378h6M1718 1378h0M1746 1378h11M1790 1378h0M1674 1384h6M1708 1384h0M1752 1384h0M1774 1384h6M1801 1384h0M1702 1389h6M1718 1389h6M1752 1389h0M1790 1389h6M1806 1389h0M1669 1394h11M1696 1394h0M1713 1394h0M1730 1394h6M1757 1394h11M1680 1400h0M1702 1400h0M1713 1400h0M1724 1400h0M1757 1400h0M1790 1400h0M1818 1400h0M1669 1406h28M1718 1406h0M1880 1409h0M1669 1411h0M1680 1411h0M1696 1411h16M1724 1411h0M1674 1416h6M1708 1416h0M1680 1422h0M1724 1422h0" stroke="#08084f" stroke-width="9.4" stroke-linecap="round" fill="none"/><path d="M2307 905h0M2263 910h0M2274 910h6M2302 910h6M2258 916h0M2268 916h6M2258 922h6M2241 932h11M2246 938h6M2214 944h0M2214 949h0M2302 949h0M2208 954h0M2219 954h0M2290 960h0M2202 966h0M2285 971h0M2192 976h0M2268 976h0M2280 976h0M2175 982h0M2158 988h6M2148 998h6M2148 1004h6M2241 1004h0M2136 1010h0M2148 1010h0M2098 1015h0M2109 1015h0M2126 1015h0M2230 1015h0M2098 1020h0M2120 1020h6M2224 1020h0M2092 1026h0M2219 1026h0M2087 1032h6M2065 1037h0M2082 1037h0M2104 1037h0M2070 1042h16M2197 1042h0M2070 1048h0M2092 1048h0M2214 1048h0M2054 1054h6M2070 1054h0M2192 1054h0M2070 1059h0M2082 1059h0M2186 1059h11M2038 1064h0M2048 1064h6M2175 1064h6M2043 1070h6M2060 1070h0M2186 1070h6M2026 1076h0M2054 1076h0M2026 1081h0M2153 1081h0M2170 1081h0M2010 1086h0M2026 1086h0M2148 1086h6M2170 1086h0M1994 1092h0M2010 1092h0M2032 1092h0M2136 1092h0M2148 1092h0M2158 1092h0M1955 1098h0M1966 1098h0M1988 1098h11M2164 1098h0M1988 1103h0M1999 1103h0M2016 1103h0M2126 1103h0M1966 1108h0M1999 1108h0M2114 1108h0M2126 1108h0M2120 1120h0M1955 1125h0M1994 1125h0M2109 1130h0M1922 1136h0M1938 1136h6M1972 1136h6M2087 1136h0M1928 1142h0M1950 1142h0M2104 1142h0M2070 1147h0M2098 1147h0M2104 1152h0M1867 1158h0M1916 1158h0M2065 1158h0M2082 1158h0M1884 1164h0M1894 1164h6M1916 1164h0M2060 1164h6M2082 1164h0M1872 1169h0M1889 1169h6M1906 1169h0M1916 1169h0M1938 1169h0M2048 1169h0M2060 1169h11M1884 1174h0M1911 1174h6M2048 1174h0M2060 1174h0M1872 1180h0M1916 1180h0M1938 1180h0M2065 1180h0M1872 1186h0M1933 1186h0M2043 1186h0M1933 1191h0M2026 1191h6M1845 1196h0M1878 1196h0M1900 1196h6M1916 1196h0M1999 1196h6M2016 1196h0M1856 1202h0M1867 1202h0M1906 1202h6M1988 1202h0M1999 1202h6M2038 1202h6M1856 1208h0M1867 1208h0M1878 1208h6M1900 1208h0M1911 1208h0M2016 1208h0M2026 1208h0M2054 1208h0M1850 1213h0M1867 1213h6M1889 1213h0M1906 1213h0M1988 1213h6M2026 1213h0M1796 1218h0M1818 1218h0M1834 1218h0M1862 1218h6M1894 1218h0M1960 1218h0M1972 1218h0M2016 1218h0M1872 1224h0M1938 1224h0M1955 1224h0M1994 1224h0M2004 1224h0M1806 1230h6M1867 1230h0M1878 1230h0M1889 1230h6M1938 1230h0M1960 1230h0M1994 1230h6M1806 1235h11M1828 1235h0M1872 1235h6M1894 1235h0M1922 1235h0M1955 1235h0M1867 1240h0M1818 1246h0M1828 1246h0M1856 1246h0M1867 1246h6M1894 1246h0M1928 1246h0M1790 1252h0M1806 1252h0M1872 1252h33M1806 1257h0M1867 1257h0M1928 1257h0M1768 1262h0M1790 1262h0M1812 1262h0M1834 1262h0M1856 1262h6M1889 1262h0M1906 1262h0M1818 1268h0M1834 1268h0M1856 1268h0M1872 1268h0M1889 1268h0M1922 1268h0M1801 1274h0M1818 1274h0M1834 1274h0M1884 1274h0M1894 1274h0M1911 1274h0M1757 1279h0M1818 1279h0M1840 1279h0M1856 1279h0M1889 1279h11M1911 1279h0M1762 1284h0M1790 1284h0M1834 1284h0M1862 1284h0M1906 1284h0M1768 1290h6M1796 1290h0M1818 1290h0M1828 1290h0M1840 1290h0M1884 1290h0M1752 1296h0M1796 1296h0M1812 1296h0M1828 1296h0M1845 1296h0M1872 1296h0M1801 1301h0M1818 1301h0M1834 1301h0M1845 1301h6M1718 1306h0M1784 1306h0M1796 1306h6M1735 1312h0M1768 1312h0M1790 1312h6M1828 1312h0M1845 1312h0M1752 1318h0M1774 1318h11M1730 1323h0M1757 1323h6M1796 1323h0M1823 1323h11M1702 1328h0M1746 1328h6M1779 1328h0M1752 1334h0M1768 1334h0M1779 1334h0M1790 1334h11M1840 1334h0M1680 1340h0M1696 1340h0M1724 1340h0M1735 1340h0M1790 1340h0M1812 1340h0M1823 1340h0M1834 1340h0M1740 1345h0M1752 1345h0M1768 1345h0M1779 1345h0M1702 1350h0M1713 1350h0M1757 1350h0M1790 1350h0M1702 1356h6M1735 1356h0M1746 1356h0M1779 1356h0M1806 1356h0M1823 1356h6M1696 1362h0M1718 1362h0M1735 1362h0M1757 1362h0M1823 1362h0M1669 1367h0M1702 1367h22M1746 1367h0M1762 1367h0M1691 1372h6M1713 1372h6M1762 1372h0M1691 1378h0M1735 1378h6M1806 1378h0M1691 1384h11M1713 1384h0M1735 1384h6M1768 1384h0M1686 1389h0M1740 1389h6M1718 1394h0M1669 1400h0M1718 1400h0M1691 1411h0M1669 1422h0" stroke="#060680" stroke-width="9.4" stroke-linecap="round" fill="none"/><path d="M2285 910h6M2285 916h0M2307 916h0M2280 922h0M2263 927h6M2312 927h6M2258 932h0M2241 938h0M2236 944h6M2219 949h0M2296 949h0M2214 954h0M2197 960h0M2214 960h0M2285 966h0M2180 971h0M2274 971h0M2186 976h0M2164 982h0M2180 982h0M2263 982h0M2175 988h0M2158 993h0M2246 998h0M2131 1015h0M2224 1015h0M2120 1026h6M2214 1026h0M2104 1032h6M2120 1032h0M2070 1037h0M2109 1037h0M2098 1042h0M2202 1042h0M2076 1048h0M2192 1048h6M2065 1054h0M2076 1054h11M2186 1054h0M2048 1059h0M2060 1059h6M2076 1059h0M2180 1059h0M2043 1064h0M2060 1064h11M2038 1070h0M2054 1070h0M2065 1070h0M2038 1076h0M2048 1076h0M2060 1076h0M2164 1076h11M2021 1081h0M2038 1081h6M2021 1086h0M2032 1086h0M2043 1086h0M2142 1086h0M2021 1092h0M2142 1092h0M2010 1098h0M2136 1098h0M2004 1103h6M2131 1103h0M2142 1103h0M1982 1108h11M2016 1108h0M1966 1114h0M1988 1114h0M2004 1114h0M2109 1114h16M1955 1120h0M1972 1120h0M1982 1120h6M2114 1120h0M2131 1120h0M1960 1125h0M1977 1125h11M2098 1125h0M2109 1125h0M1938 1130h11M1960 1130h0M1972 1130h6M1988 1130h0M2098 1130h0M1950 1136h0M1960 1136h6M2092 1136h0M2104 1136h0M1933 1142h0M1944 1142h0M1955 1142h0M1966 1142h11M2076 1142h6M2092 1142h0M1938 1147h0M1950 1147h6M1972 1147h0M1922 1152h0M1933 1152h0M1944 1152h22M2070 1152h11M1928 1158h6M1944 1158h16M2070 1158h0M1922 1164h22M1955 1164h0M2070 1164h6M1922 1169h0M1933 1169h0M1944 1169h0M2043 1169h0M2054 1169h0M1922 1174h11M2038 1174h6M1867 1180h0M1911 1180h0M1922 1180h11M2032 1180h0M2043 1180h0M1906 1186h0M1916 1186h11M1938 1186h0M2021 1186h0M2032 1186h0M1884 1191h0M1906 1191h0M1916 1191h0M1928 1191h0M2016 1191h6M2038 1191h0M1872 1196h0M1884 1196h0M1911 1196h0M1922 1196h6M2010 1196h0M2032 1196h0M1916 1202h0M1994 1202h0M2010 1202h0M2021 1202h11M1872 1208h0M1916 1208h0M1982 1208h0M1994 1208h6M1856 1213h0M1878 1213h0M1894 1213h0M1955 1213h6M1982 1213h0M2010 1213h0M1850 1218h0M1889 1218h0M1900 1218h0M1928 1218h6M1955 1218h0M1977 1218h16M2010 1218h0M1856 1224h0M1894 1224h0M1944 1224h6M1972 1224h16M1828 1230h0M1944 1230h0M1834 1235h0M1960 1235h6M1818 1240h0M1828 1240h6M1878 1240h0M1906 1240h0M1840 1246h0M1906 1246h11M1828 1252h6M1845 1252h0M1862 1252h0M1850 1257h0M1884 1257h6M1823 1262h0M1840 1262h0M1823 1268h0M1884 1268h0M1806 1274h6M1845 1274h0M1862 1274h0M1878 1274h0M1801 1279h0M1828 1279h0M1779 1284h0M1818 1284h0M1845 1284h0M1884 1284h0M1812 1290h0M1784 1296h0M1823 1296h0M1840 1296h0M1774 1301h0M1774 1306h0M1823 1306h0M1834 1306h0M1801 1312h11M1823 1312h0M1740 1318h0M1818 1318h0M1784 1323h0M1806 1323h0M1768 1328h0M1784 1328h0M1796 1328h0M1757 1334h0M1762 1340h11M1845 1340h0M1730 1345h0M1746 1345h0M1774 1345h0M1784 1345h0M1823 1345h0M1724 1350h0M1746 1350h0M1713 1356h0M1724 1356h0M1708 1362h6M1762 1362h0M1774 1362h0M1669 1372h0M1708 1372h0M1730 1372h0M1669 1378h0M1686 1378h0M1669 1384h0M1686 1384h0M1784 1384h0M1691 1389h6M1762 1389h0M1708 1394h0M1708 1406h0" stroke="#0303b0" stroke-width="9.4" stroke-linecap="round" fill="none"/><path d="M2296 910h0M2296 916h0M2285 922h0M2307 922h0M2318 922h0M2252 927h0M2307 938h0M2230 944h0M2302 944h0M2224 949h6M2202 960h0M2285 960h0M2208 966h0M2197 971h0M2186 982h0M2170 993h0M2246 993h0M2158 998h0M2241 998h0M2236 1004h0M2230 1010h0M2142 1015h0M2131 1020h0M2114 1026h0M2114 1032h0M2208 1032h0M2092 1037h0M2114 1037h0M2202 1037h0M2104 1042h0M2082 1048h0M2202 1048h0M2175 1059h0M2164 1070h0M2180 1070h0M2043 1076h0M2158 1076h0M2038 1086h0M2158 1086h0M2016 1092h0M2026 1092h0M2016 1098h11M2131 1098h0M2021 1103h0M2120 1103h0M2004 1108h6M2120 1108h0M1960 1114h0M1994 1114h0M2010 1114h0M1994 1120h11M1966 1125h6M2114 1125h0M1966 1130h0M1982 1130h0M2092 1130h0M1960 1142h0M2087 1142h0M1922 1147h0M1944 1147h0M1966 1147h0M2082 1147h0M1938 1152h0M2065 1152h0M1938 1158h0M2060 1158h0M1938 1174h11M2032 1174h0M2054 1174h0M1944 1180h0M2026 1180h0M2048 1180h0M1911 1186h0M2026 1186h0M2038 1186h0M2060 1186h0M1922 1191h0M2004 1191h6M2021 1196h6M2038 1196h0M1922 1202h0M2016 1202h0M1906 1208h0M1972 1208h6M1988 1208h0M2004 1208h0M2021 1208h0M1911 1213h0M1944 1213h0M1966 1213h0M1977 1213h0M1999 1213h6M1950 1218h0M1966 1218h0M1999 1218h6M1862 1224h0M1906 1224h0M1922 1224h0M1966 1224h0M1850 1230h0M1862 1230h0M1950 1230h0M1982 1235h0M1845 1240h0M1862 1246h0M1801 1252h0M1862 1257h0M1878 1257h0M1834 1279h0M1862 1279h0M1806 1296h0M1806 1301h0M1812 1306h6M1828 1306h0M1774 1323h0M1735 1350h0M1740 1356h0M1691 1367h0M1779 1372h0M1674 1378h6" stroke="#0101e1" stroke-width="9.4" stroke-linecap="round" fill="none"/><path d="M2285 905h0M2290 916h0M2302 938h0M2290 954h0M2280 966h0M2164 993h0M2158 1004h0M2153 1010h0M2224 1010h0M2219 1020h0M2098 1032h0M2098 1037h0M2208 1037h0M2092 1042h0M2192 1042h0M2092 1054h0M2180 1054h0M2170 1064h0M2153 1076h0M2004 1098h0M2032 1098h0M1982 1114h0M1999 1114h0M2098 1120h0M2109 1120h0M2092 1125h0M1955 1130h0M2087 1130h0M1955 1136h0M1982 1136h0M2082 1136h0M2098 1142h0M1960 1147h0M2092 1147h0M2087 1152h0M2054 1164h0M1928 1169h0M2038 1169h0M1911 1191h0M1938 1191h0M1933 1196h0M1966 1208h0M2010 1208h0M2038 1208h0M1906 1218h0M1938 1218h0M1889 1224h0M1916 1224h0M1960 1224h0M1966 1230h0M1850 1240h0M1834 1246h0M1828 1257h0M1812 1279h0M1762 1334h0M1774 1334h0M1740 1350h0" stroke="#000dff" stroke-width="9.4" stroke-linecap="round" fill="none"/><path d="M2302 916h0M2274 927h0M2263 932h0M2214 966h0M2197 976h0M2252 988h0M2170 998h0M2136 1020h0M2214 1032h0M2186 1048h0M2197 1054h0M2164 1064h0M2065 1076h0M2054 1081h0M2148 1081h0M2048 1086h0M2131 1092h0M1994 1103h0M2104 1114h0M2104 1120h0M1999 1125h0M2104 1125h0M1994 1130h0M1982 1142h0M2076 1147h0M2054 1158h0M2048 1164h0M2048 1186h0M1988 1196h6M1955 1208h0M1950 1213h0M1972 1213h0M1922 1218h0M1944 1218h0M1972 1230h0M1878 1246h0" stroke="#0030ff" stroke-width="9.4" stroke-linecap="round" fill="none"/><path d="M2280 927h0M2307 932h0M2296 944h0M2236 949h0M2224 954h6M2208 960h0M2219 960h0M2263 976h0M2180 988h0M2164 998h0M2197 1037h0M2098 1048h0M2076 1064h0M2158 1070h0M2032 1081h0M2158 1081h0M2038 1098h0M2026 1103h0M2114 1103h0M2070 1142h0M1955 1169h0M2010 1186h0M1938 1213h0M1916 1218h0M1900 1224h0M1955 1230h0" stroke="#0054ff" stroke-width="9.4" stroke-linecap="round" fill="none"/><path d="M2307 927h0M2246 944h0M2192 982h0M2258 982h0M2175 993h0M2236 998h0M2214 1020h0M2126 1032h0M2164 1042h0M2082 1064h0M2136 1086h0M2109 1108h0M2087 1125h0M2043 1147h0M1960 1164h0M2038 1164h0M1950 1180h0M2021 1180h0M1966 1191h0M1828 1268h0" stroke="#0077ff" stroke-width="9.4" stroke-linecap="round" fill="none"/><path d="M2258 938h0M2241 949h0M2263 960h0M2258 971h0M2268 971h0M2241 982h0M2148 1015h0M2219 1015h0M2109 1042h0M2126 1042h0M2175 1048h0M2092 1064h0M2087 1070h0M2131 1070h0M2060 1081h0M2054 1086h0M2065 1086h0M2021 1108h0M2016 1114h0M2092 1114h0M2010 1120h0M2054 1147h0M1966 1158h0M2043 1164h0M2016 1180h0M2016 1186h0M1950 1196h0M1922 1208h0M1960 1208h0M1911 1218h0M1840 1257h0" stroke="#009aff" stroke-width="9.4" stroke-linecap="round" fill="none"/><path d="M2302 922h0M2224 960h0M2252 971h0M2252 982h0M2202 1032h0M2175 1042h0M2104 1048h0M2098 1054h0M2170 1059h0M2070 1070h6M2070 1076h0M2131 1076h0M2126 1081h0M2043 1092h0M2120 1098h0M2026 1120h0M2092 1120h0M1988 1136h0M2076 1136h0M2065 1147h0M1972 1152h0M2048 1152h0M1988 1186h0M1999 1191h0M1928 1202h0M1977 1202h0" stroke="#00bdff" stroke-width="9.4" stroke-linecap="round" fill="none"/><path d="M2252 944h0M2219 966h0M2274 966h0M2241 976h0M2258 976h0M2202 982h0M2192 993h0M2241 993h0M2180 998h0M2164 1004h0M2219 1010h0M2208 1020h0M2120 1037h0M2131 1042h0M2120 1048h0M2180 1048h0M2175 1054h0M2142 1081h0M2054 1092h0M2126 1098h0M2087 1114h0M2070 1120h0M2004 1125h0M2082 1130h0M2054 1142h0M1977 1147h0M2026 1152h0M2021 1158h0M2032 1169h0M2026 1174h0M1944 1186h0M1944 1196h0M1955 1196h0M1938 1202h0" stroke="#00e0ff" stroke-width="9.4" stroke-linecap="round" fill="none"/><path d="M2290 922h0M2290 938h0M2290 949h0M2241 954h0M2230 960h6M2280 960h0M2202 971h6M2208 976h0M2230 988h0M2230 993h0M2175 998h0M2164 1010h6M2208 1026h0M2136 1032h0M2180 1032h0M2120 1042h0M2186 1042h0M2164 1048h6M2114 1054h0M2158 1054h0M2087 1059h0M2164 1059h0M2098 1064h0M2153 1070h0M2076 1076h0M2087 1076h0M2076 1081h0M2131 1081h0M2054 1098h0M2032 1103h0M2104 1108h0M2082 1114h0M2010 1125h0M2060 1125h0M2048 1136h0M2065 1136h0M2060 1152h0M2032 1158h0M2048 1158h0M2021 1164h11M1960 1174h0M1960 1180h0M1972 1186h0M1972 1202h0M1928 1208h0M1916 1213h0" stroke="#04fffb" stroke-width="9.4" stroke-linecap="round" fill="none"/><path d="M2263 938h0M2296 938h0M2274 949h0M2285 949h0M2285 954h0M2268 960h0M2192 988h0M2241 988h6M2208 1004h0M2230 1004h0M2153 1015h0M2164 1015h0M2202 1020h0M2136 1026h0M2202 1026h0M2170 1042h0M2109 1048h0M2164 1054h0M2153 1059h0M2153 1064h6M2142 1070h0M2136 1076h11M2126 1086h6M2048 1098h0M2098 1114h0M2021 1120h0M2076 1130h0M2054 1136h0M2043 1152h0M1977 1164h0M2021 1169h0M1999 1174h0M2021 1174h0M1966 1180h0M1994 1180h0M1966 1186h0M1944 1191h0M1955 1191h6M1960 1196h0M1933 1202h0M1944 1208h0" stroke="#28ffd7" stroke-width="9.4" stroke-linecap="round" fill="none"/><path d="M2268 932h6M2285 944h0M2224 966h0M2202 976h0M2214 976h0M2186 988h0M2186 998h0M2208 1010h6M2208 1015h0M2131 1032h0M2148 1032h0M2192 1032h0M2180 1042h0M2153 1054h0M2082 1076h0M2136 1081h0M2070 1086h0M2104 1098h0M2032 1108h0M2026 1114h0M2065 1130h0M2048 1142h0M1982 1147h0M1977 1158h0M2026 1158h0M1960 1169h0M1938 1196h0M1966 1196h0M1950 1208h0M1928 1213h0" stroke="#4bffb4" stroke-width="9.4" stroke-linecap="round" fill="none"/><path d="M2246 949h0M2274 960h0M2258 966h0M2252 976h0M2246 982h0M2236 988h0M2180 993h0M2236 993h0M2175 1004h0M2158 1020h0M2186 1026h0M2186 1032h0M2142 1059h0M2126 1076h0M2114 1081h0M2120 1086h0M2098 1098h0M2109 1098h0M2109 1103h0M2038 1108h0M2070 1125h0M2060 1136h0M2070 1136h0M1988 1142h0M2032 1147h0M1966 1169h0M1994 1174h0M1988 1180h0M1999 1180h0M1982 1191h0" stroke="#6eff91" stroke-width="9.4" stroke-linecap="round" fill="none"/><path d="M2296 922h0M2302 927h0M2290 944h0M2268 954h0M2246 976h0M2236 982h0M2219 998h0M2202 1010h0M2170 1015h0M2142 1020h11M2192 1020h0M2192 1026h0M2170 1037h0M2180 1037h6M2114 1048h0M2158 1048h0M2170 1054h0M2098 1059h0M2065 1081h0M2114 1092h6M2043 1098h0M2060 1098h0M2098 1103h0M2098 1108h0M2082 1120h0M2065 1125h0M2060 1130h0M2043 1136h0M1994 1142h0M1988 1147h6M2048 1147h0M2060 1147h0M2054 1152h0M2038 1158h0M1966 1164h0M2016 1164h0M2010 1169h0M1960 1186h0M2004 1186h0M1988 1191h0M1933 1208h0M1922 1213h0" stroke="#91ff6e" stroke-width="9.4" stroke-linecap="round" fill="none"/><path d="M2302 932h0M2268 938h0M2258 944h0M2268 966h0M2197 982h0M2186 993h0M2230 998h0M2170 1004h0M2158 1015h0M2153 1026h0M2197 1026h0M2197 1032h0M2104 1059h0M2148 1059h0M2087 1064h0M2136 1064h0M2148 1070h0M2082 1081h0M2114 1098h0M2043 1103h0M2026 1108h0M2082 1108h6M2021 1114h0M2032 1114h0M2076 1114h0M2087 1120h0M2054 1125h0M2004 1130h0M2016 1130h0M2038 1142h6M2065 1142h0M2010 1164h0M1972 1169h0M2010 1180h0M1950 1186h6M1982 1196h0M1960 1202h0" stroke="#b4ff4b" stroke-width="9.4" stroke-linecap="round" fill="none"/><path d="M2280 954h0M2263 971h0M2224 993h0M2219 1004h6M2175 1010h0M2202 1015h0M2186 1020h0M2142 1026h0M2180 1026h0M2142 1032h0M2136 1037h0M2158 1059h0M2060 1086h0M2060 1092h0M2109 1092h0M2048 1103h0M2087 1103h0M2021 1125h0M2038 1152h0M2004 1169h0M2026 1169h0M2016 1174h0M1982 1186h0M1944 1202h0M1966 1202h0" stroke="#d7ff28" stroke-width="9.4" stroke-linecap="round" fill="none"/><path d="M2285 927h0M2263 944h0M2252 949h0M2280 949h0M2246 971h0M2214 998h0M2158 1010h0M2214 1015h0M2197 1020h0M2148 1026h0M2126 1037h0M2192 1037h0M2126 1048h0M2148 1064h0M2092 1070h0M2114 1086h0M2104 1092h0M2092 1103h0M2043 1108h0M2038 1114h0M2065 1120h0M2076 1125h0M1999 1130h0M1988 1152h0M2021 1152h0M2032 1152h0M1982 1158h0M2016 1169h0M1955 1174h0M1966 1174h0M2004 1174h0M2004 1180h0M1994 1191h0M1977 1196h0" stroke="#fbff04" stroke-width="9.4" stroke-linecap="round" fill="none"/><path d="M2236 954h0M2197 988h0M2114 1042h0M2104 1054h0M2136 1070h0M2048 1092h0M2092 1108h0M2070 1130h0M1994 1136h0M1972 1164h0M1955 1180h0M1994 1186h0M1950 1191h0M1972 1191h0M1950 1202h0" stroke="#ffe000" stroke-width="9.4" stroke-linecap="round" fill="none"/><path d="M2296 932h0M2241 960h0M2175 1032h0M2131 1037h0M2175 1037h0M2142 1064h0M2120 1081h0M2126 1092h0M2092 1098h0M2016 1125h0M2054 1130h0M1999 1136h0M1999 1142h6M2060 1142h0M2010 1174h0M1999 1186h0" stroke="#ffbd00" stroke-width="9.4" stroke-linecap="round" fill="none"/><path d="M2230 966h0M2219 971h0M2180 1004h0M2104 1064h0M2109 1086h0M2065 1092h0M2038 1103h0M1972 1196h0M1955 1202h0M1938 1208h0" stroke="#ff9a00" stroke-width="9.4" stroke-linecap="round" fill="none"/><path d="M2280 932h0M2109 1054h0M2109 1059h0M2004 1136h0M2016 1158h0" stroke="#ff7700" stroke-width="9.4" stroke-linecap="round" fill="none"/><path d="M2197 1015h0M2082 1070h0M2082 1103h0M2070 1114h0M2082 1125h0M1977 1152h6M1933 1213h0" stroke="#ff5400" stroke-width="9.4" stroke-linecap="round" fill="none"/><path d="M2274 954h0M2214 971h0M2224 971h0M2214 1004h0M2158 1026h0M2120 1054h0M2076 1108h0M2010 1130h0M2043 1158h0M1999 1169h0" stroke="#ff3000" stroke-width="9.4" stroke-linecap="round" fill="none"/><path d="M2263 966h0M2202 988h0M2142 1037h0M2070 1081h0M1977 1186h0" stroke="#ff0d00" stroke-width="9.4" stroke-linecap="round" fill="none"/><path d="M2076 1120h0M2032 1142h0" stroke="#e90000" stroke-width="9.4" stroke-linecap="round" fill="none"/><path d="M2224 998h0M2016 1120h0M2010 1136h6M2021 1147h0" stroke="#c60000" stroke-width="9.4" stroke-linecap="round" fill="none"/><path d="M2246 954h0M2148 1054h0M2114 1059h0M2098 1070h0M2026 1147h0" stroke="#a30000" stroke-width="9.4" stroke-linecap="round" fill="none"/><path d="M2290 927h6M2285 932h6M2274 938h11M2268 944h11M2258 949h11M2252 954h11M2246 960h11M2236 966h16M2230 971h11M2219 976h16M2208 982h22M2208 988h16M2197 993h22M2192 998h16M2186 1004h16M2180 1010h16M2175 1015h16M2164 1020h16M2164 1026h11M2153 1032h16M2148 1037h16M2136 1042h22M2131 1048h22M2126 1054h16M2092 1059h0M2120 1059h16M2109 1064h22M2104 1070h22M2092 1076h28M2087 1081h22M2076 1086h28M2070 1092h28M2065 1098h22M2054 1103h22M2104 1103h0M2048 1108h22M2043 1114h22M2032 1120h28M2026 1125h22M2021 1130h28M2021 1136h16M2010 1142h16M1999 1147h16M1994 1152h22M1972 1158h0M1988 1158h22M1982 1164h22M1977 1169h16M1972 1174h16M1972 1180h11" stroke="#800000" stroke-width="9.4" stroke-linecap="round" fill="none"/>
</g>
<line x1="1669.0" y1="1433.0" x2="2367.0" y2="861.0" stroke="#c8283a" stroke-opacity="0.8" stroke-width="4.2" clip-path="url(#c12)"/>
<path d="M1808.6 1433.0v-9M1808.6 861.0v9M1948.2 1433.0v-9M1948.2 861.0v9M2087.8 1433.0v-9M2087.8 861.0v9M2227.4 1433.0v-9M2227.4 861.0v9M1669.0 1318.6h9M2367.0 1318.6h-9M1669.0 1204.2h9M2367.0 1204.2h-9M1669.0 1089.8h9M2367.0 1089.8h-9M1669.0 975.4h9M2367.0 975.4h-9" stroke="#cfcfcf" stroke-width="2" fill="none"/>
<path d="M1669.0 861.0H2367.0" stroke="#dcdcdc" stroke-width="3"/>
<path d="M2367.0 861.0V1433.0" stroke="#d8d8d8" stroke-width="3"/>
<path d="M1669.0 859.5V1433.0" stroke="#a0a0a0" stroke-width="3"/>
<path d="M1667.5 1433.0H2368.0" stroke="#808080" stroke-width="3"/>
<text x="1669.0" y="1483.0" font-size="37" fill="#333" text-anchor="middle">1</text>
<text x="1808.6" y="1483.0" font-size="37" fill="#333" text-anchor="middle">2</text>
<text x="1948.2" y="1483.0" font-size="37" fill="#333" text-anchor="middle">3</text>
<text x="2087.8" y="1483.0" font-size="37" fill="#333" text-anchor="middle">4</text>
<text x="2227.4" y="1483.0" font-size="37" fill="#333" text-anchor="middle">5</text>
<text x="2367.0" y="1483.0" font-size="37" fill="#333" text-anchor="middle">6</text>
<text x="1709.0" y="932.0" font-size="58" fill="#000">(g)</text>
<g clip-path="url(#c13)">
<path d="M3086 894h0M3053 905h0M3048 910h11M3031 916h0M3042 916h0M3080 916h0M3092 916h0M3053 922h0M3080 922h0M3014 927h0M3036 927h0M3097 927h0M2992 932h0M3009 932h0M3097 932h0M2982 938h0M2998 938h11M2992 944h16M3075 944h0M2918 945h0M2897 951h0M2965 954h6M2992 954h0M3075 954h0M2960 960h0M2970 960h6M2918 963h0M2960 966h0M3058 966h0M3075 966h0M2954 971h0M2965 971h0M3058 971h0M2890 973h0M2911 973h0M2921 976h0M2932 976h0M3036 976h0M3048 976h11M3075 976h0M2910 982h11M2938 982h11M2899 988h0M2910 988h0M2932 988h11M3020 988h0M3036 988h0M3053 988h0M2894 993h6M2916 993h6M2932 993h0M3026 993h0M2904 998h0M2916 998h0M2926 998h0M3009 998h0M2910 1004h0M3004 1004h0M2857 1007h0M2872 1010h6M2894 1010h0M3004 1010h0M2872 1015h0M2882 1015h6M2998 1015h0M2850 1020h0M2872 1020h6M2860 1026h0M2982 1026h6M2855 1032h11M2970 1032h6M2998 1032h0M2828 1037h0M2844 1037h0M2855 1037h0M2976 1037h6M2820 1040h0M2794 1042h0M2838 1042h0M2965 1042h0M2822 1048h0M2976 1048h0M2806 1054h0M2954 1054h0M2811 1059h0M2970 1059h0M2811 1064h0M2943 1064h0M2954 1064h0M2778 1070h0M2938 1070h6M2756 1081h0M2772 1081h6M2921 1081h0M2932 1081h0M2762 1086h6M2778 1086h0M2910 1086h0M2745 1092h0M2762 1092h0M2910 1092h11M2734 1098h16M2762 1098h0M2734 1103h6M2750 1103h0M2916 1103h0M2714 1107h0M2712 1108h11M2745 1108h6M2728 1114h0M2740 1114h0M2888 1114h0M2899 1114h11M2723 1120h0M2690 1125h0M2701 1125h0M2882 1125h0M2690 1130h0M2718 1130h0M2872 1130h6M2888 1130h0M2672 1135h0M2674 1136h0M2684 1136h0M2860 1136h0M2646 1142h6M2679 1142h0M2866 1142h6M2888 1142h0M2630 1147h0M2646 1147h0M2668 1147h0M2850 1147h0M2662 1152h0M2679 1152h6M2855 1152h0M2872 1152h0M2618 1158h0M2630 1158h0M2640 1158h0M2657 1158h0M2838 1158h6M2635 1160h0M2674 1164h0M2684 1164h0M2668 1169h0M2838 1169h6M2583 1174h0M2640 1174h0M2822 1174h0M2630 1180h11M2652 1180h0M2828 1180h0M2624 1186h0M2652 1186h0M2800 1186h0M2811 1186h0M2618 1191h6M2646 1191h0M2800 1191h6M2618 1196h0M2794 1196h6M2558 1198h0M2554 1202h0M2608 1202h6M2624 1202h0M2635 1202h0M2767 1202h0M2778 1202h6M2794 1202h0M2811 1202h0M2618 1208h6M2586 1213h0M2608 1213h0M2624 1213h0M2586 1218h0M2596 1218h6M2569 1224h0M2762 1224h0M2596 1230h0M2618 1230h0M2740 1230h0M2756 1230h6M2569 1235h0M2613 1235h0M2734 1235h6M2772 1235h0M2769 1237h0M2516 1240h0M2596 1240h0M2696 1240h28M2509 1244h0M2542 1246h0M2602 1246h6M2690 1246h0M2712 1246h16M2481 1252h11M2536 1252h0M2574 1252h0M2596 1252h0M2613 1252h0M2706 1252h0M2792 1255h0M2503 1257h0M2542 1257h0M2586 1257h0M2596 1257h0M2618 1257h0M2690 1257h6M2520 1262h0M2569 1262h0M2591 1262h6M2613 1262h6M2690 1262h6M2481 1268h0M2498 1268h6M2536 1268h0M2618 1268h6M2696 1268h0M2486 1270h0M2728 1270h0M2476 1274h0M2514 1274h0M2530 1274h0M2547 1274h0M2586 1274h0M2613 1274h6M2668 1274h0M2679 1274h0M2488 1276h0M2492 1279h6M2508 1279h6M2542 1279h0M2558 1279h0M2591 1279h0M2602 1279h11M2624 1279h0M2668 1279h0M2701 1279h0M2709 1283h0M2520 1284h0M2536 1284h0M2596 1284h0M2608 1284h0M2618 1284h0M2646 1284h0M2657 1284h0M2668 1284h16M2520 1290h0M2536 1290h0M2569 1290h0M2586 1290h0M2602 1290h0M2635 1290h0M2652 1290h6M2668 1290h0M2684 1290h0M2470 1296h6M2514 1296h0M2586 1296h6M2640 1296h0M2657 1296h11M2681 1298h0M2472 1300h0M2470 1301h0M2481 1301h0M2520 1301h0M2569 1301h0M2618 1301h0M2657 1301h0M2492 1306h6M2591 1306h11M2630 1306h6M2520 1312h6M2536 1312h6M2602 1312h6M2644 1316h0M2514 1318h0M2547 1318h0M2580 1318h0M2613 1318h0M2444 1321h0M2492 1323h0M2586 1323h0M2476 1328h0M2602 1328h0M2456 1334h0M2459 1334h0M2498 1334h0M2536 1334h6M2586 1334h0M2481 1340h0M2498 1340h0M2552 1340h0M2503 1345h0M2520 1345h0M2542 1345h0M2558 1345h6M2481 1350h0M2498 1350h0M2525 1350h6M2558 1350h0M2574 1350h0M2454 1356h0M2464 1356h0M2558 1356h6M2530 1362h0M2459 1367h0M2542 1367h0M2500 1372h0M2498 1372h0M2459 1378h0M2470 1378h0M2503 1378h0M2514 1378h0M2464 1384h0M2492 1384h0M2611 1400h0M2470 1413h0M2547 1423h0" stroke="#08084f" stroke-width="9.4" stroke-linecap="round" fill="none"/><path d="M3075 900h0M3058 905h0M3058 916h0M3031 922h0M3092 927h0M3020 932h0M3036 932h0M3086 932h0M3020 938h0M3075 938h0M3004 949h0M2982 954h0M2982 960h0M2970 966h6M2970 971h0M3042 971h6M2938 976h0M2926 982h0M3026 982h0M2916 988h0M2926 993h0M3014 993h0M3031 993h0M2899 1010h0M2992 1010h0M2910 1015h0M2882 1020h0M2872 1026h0M2850 1032h0M2872 1032h0M2965 1032h0M2982 1032h0M2838 1037h0M2965 1037h0M2828 1042h0M2860 1042h6M2844 1048h11M2960 1048h0M2822 1054h0M2938 1054h0M2960 1054h0M2806 1059h0M2828 1059h0M2844 1059h0M2943 1059h0M2794 1064h11M2938 1064h0M2926 1070h6M2784 1076h0M2806 1076h0M2816 1076h0M2926 1076h0M2811 1081h0M2926 1081h0M2772 1086h0M2789 1086h0M2904 1086h0M2916 1086h6M2756 1092h0M2772 1092h0M2800 1092h0M2904 1092h0M2756 1098h0M2756 1103h11M2784 1103h0M2877 1103h0M2894 1103h0M2904 1103h0M2756 1108h0M2888 1108h0M2745 1114h0M2762 1114h0M2860 1114h0M2882 1114h0M2740 1120h0M2756 1120h0M2850 1120h11M2872 1120h6M2712 1125h0M2728 1125h0M2844 1125h0M2833 1130h6M2850 1130h0M2696 1136h11M2734 1136h0M2833 1136h0M2684 1142h6M2706 1142h0M2718 1142h0M2855 1142h6M2690 1147h0M2701 1147h0M2712 1147h6M2838 1147h6M2855 1147h0M2866 1147h0M2690 1152h0M2706 1152h11M2838 1152h0M2684 1158h0M2696 1158h6M2833 1158h0M2668 1164h0M2696 1164h6M2822 1164h0M2838 1164h0M2635 1169h0M2652 1169h0M2674 1169h0M2684 1169h0M2806 1169h6M2662 1174h6M2684 1174h0M2800 1174h0M2828 1174h0M2662 1180h11M2794 1180h0M2816 1180h0M2630 1186h0M2657 1186h11M2772 1186h0M2789 1186h0M2806 1186h0M2816 1186h0M2635 1191h0M2652 1191h0M2662 1191h0M2767 1191h0M2789 1191h6M2811 1191h0M2630 1196h0M2646 1196h0M2789 1196h0M2630 1202h0M2646 1202h0M2740 1202h0M2613 1208h0M2635 1208h0M2734 1208h0M2745 1208h0M2784 1208h0M2618 1213h0M2652 1213h6M2762 1213h16M2608 1218h0M2646 1218h0M2684 1218h0M2718 1218h0M2640 1224h0M2684 1224h6M2706 1224h0M2750 1224h0M2613 1230h0M2624 1230h0M2646 1230h22M2690 1230h22M2723 1230h0M2602 1235h6M2640 1235h0M2662 1235h0M2679 1235h0M2696 1235h0M2706 1235h0M2718 1235h11M2552 1240h0M2608 1240h0M2624 1240h6M2640 1240h0M2662 1240h0M2684 1240h6M2734 1240h0M2498 1246h0M2547 1246h0M2613 1246h6M2646 1246h6M2662 1246h6M2696 1246h6M2591 1252h0M2640 1252h0M2657 1252h0M2668 1252h0M2684 1252h0M2602 1257h0M2613 1257h0M2624 1257h6M2652 1257h0M2668 1257h11M2701 1257h0M2608 1262h0M2635 1262h6M2657 1262h0M2668 1262h0M2679 1262h6M2569 1268h0M2613 1268h0M2668 1268h0M2679 1268h0M2690 1268h0M2602 1274h0M2630 1274h0M2657 1274h0M2674 1274h0M2684 1274h6M2657 1279h6M2684 1279h0M2486 1284h0M2564 1290h0M2640 1290h6M2662 1290h0M2624 1296h6M2652 1296h0M2630 1301h0M2646 1301h0M2558 1312h0M2580 1312h0M2503 1340h0M2508 1345h0M2569 1350h0M2492 1362h0M2470 1372h0" stroke="#060680" stroke-width="9.4" stroke-linecap="round" fill="none"/><path d="M3075 905h0M3070 910h0M3080 910h0M3053 916h0M3064 916h6M3086 916h0M3042 922h6M3058 922h6M3042 927h6M3080 927h0M3026 932h0M3080 932h0M3026 938h6M3070 944h0M2992 949h6M3009 949h0M3075 949h0M2998 954h0M2965 960h0M2987 960h6M3053 960h6M2987 966h0M3053 966h0M2960 971h0M2976 971h0M2948 976h0M2960 976h6M2954 982h0M2948 988h0M3009 993h0M2932 998h0M2894 1004h0M2904 1004h0M2916 1004h0M2916 1010h0M2987 1010h0M2894 1015h0M2904 1015h0M2982 1015h6M2888 1020h0M2899 1020h0M2970 1020h0M2866 1026h0M2882 1026h11M2965 1026h11M2882 1032h6M2960 1032h0M2866 1037h0M2877 1037h0M2954 1037h0M2970 1037h0M2844 1042h0M2943 1042h16M2860 1048h0M2943 1048h6M2833 1054h6M2855 1054h0M2932 1054h0M2948 1054h0M2816 1059h6M2838 1059h0M2921 1059h16M2816 1064h0M2833 1064h6M2926 1064h6M2794 1070h0M2806 1070h6M2822 1070h6M2910 1070h6M2800 1076h0M2811 1076h0M2822 1076h0M2904 1076h16M2789 1081h16M2894 1081h6M2910 1081h6M2784 1086h0M2811 1086h0M2888 1086h0M2899 1086h0M2778 1092h11M2888 1092h0M2899 1092h0M2772 1098h22M2882 1098h28M2745 1103h0M2778 1103h0M2872 1103h0M2882 1103h0M2772 1108h0M2877 1108h6M2767 1114h0M2866 1114h11M2728 1120h6M2762 1120h0M2866 1120h0M2734 1125h6M2750 1125h6M2838 1125h0M2855 1125h16M2701 1130h0M2723 1130h0M2745 1130h0M2844 1130h0M2855 1130h6M2728 1136h0M2740 1136h0M2828 1136h0M2838 1136h6M2855 1136h0M2696 1142h0M2712 1142h0M2723 1142h0M2734 1142h0M2822 1142h6M2838 1142h11M2696 1147h0M2728 1147h0M2816 1147h11M2701 1152h0M2806 1152h11M2833 1152h0M2679 1158h0M2690 1158h0M2706 1158h6M2800 1158h0M2811 1158h11M2657 1164h0M2679 1164h0M2794 1164h0M2806 1164h11M2828 1164h6M2646 1169h0M2679 1169h0M2690 1169h6M2784 1169h0M2794 1169h0M2657 1174h0M2690 1174h0M2778 1174h6M2794 1174h0M2811 1174h0M2679 1180h6M2772 1180h6M2789 1180h0M2806 1180h6M2762 1186h0M2778 1186h6M2794 1186h0M2679 1191h0M2772 1191h0M2784 1191h0M2652 1196h16M2745 1196h6M2762 1196h0M2778 1196h0M2640 1202h0M2657 1202h0M2745 1202h0M2756 1202h6M2772 1202h0M2640 1208h16M2668 1208h0M2756 1208h16M2630 1213h6M2662 1213h6M2728 1213h0M2740 1213h16M2618 1218h22M2652 1218h0M2662 1218h11M2690 1218h0M2706 1218h6M2728 1218h11M2750 1218h0M2772 1218h0M2618 1224h16M2646 1224h11M2679 1224h0M2712 1224h16M2745 1224h0M2630 1230h11M2674 1230h0M2684 1230h0M2718 1230h0M2734 1230h0M2630 1235h0M2657 1235h0M2668 1235h6M2684 1235h6M2701 1235h0M2618 1240h0M2635 1240h0M2646 1240h11M2668 1240h11M2624 1246h6M2640 1246h0M2657 1246h0M2674 1246h11M2608 1252h0M2630 1252h6M2646 1252h0M2662 1252h0M2679 1252h0M2701 1252h0M2608 1257h0M2635 1257h0M2624 1262h6M2662 1262h0M2701 1262h0M2640 1268h22M2674 1268h0M2624 1274h0M2652 1274h0M2635 1279h0M2646 1279h0M2624 1284h16M2652 1284h0M2662 1284h0M2640 1301h0" stroke="#0303b0" stroke-width="9.4" stroke-linecap="round" fill="none"/><path d="M3064 949h0M2987 954h0M3058 954h0M2998 960h0M3048 960h0M3042 966h0M3036 971h0M2954 976h0M3031 976h0M2960 982h0M3014 988h0M2938 993h0M2998 998h6M2921 1004h6M2992 1004h6M2910 1010h0M2899 1015h0M2894 1020h0M2982 1020h0M2877 1032h0M2954 1032h0M2872 1037h0M2882 1037h0M2948 1037h0M2960 1037h0M2855 1042h0M2872 1042h0M2838 1048h0M2954 1048h0M2828 1054h0M2844 1054h6M2926 1054h0M2948 1059h0M2822 1064h6M2916 1064h0M2800 1070h0M2816 1070h0M2833 1070h0M2789 1076h6M2828 1076h0M2784 1081h0M2816 1081h6M2800 1086h6M2894 1086h0M2794 1092h0M2882 1092h0M2894 1092h0M2772 1103h0M2866 1103h0M2888 1103h0M2740 1108h0M2762 1108h6M2778 1108h0M2860 1108h11M2734 1114h0M2750 1114h0M2850 1114h6M2745 1120h6M2767 1120h0M2728 1130h11M2750 1130h0M2866 1130h0M2712 1136h11M2850 1136h0M2728 1142h0M2833 1142h0M2706 1147h0M2723 1147h0M2822 1152h6M2844 1152h0M2806 1158h0M2828 1158h0M2706 1164h0M2789 1164h0M2800 1164h0M2662 1169h0M2789 1169h0M2800 1169h0M2816 1169h6M2679 1174h0M2789 1174h0M2806 1174h0M2657 1180h0M2679 1186h6M2767 1186h0M2657 1191h0M2668 1191h6M2756 1191h6M2778 1191h0M2640 1196h0M2756 1196h0M2767 1196h6M2652 1202h0M2662 1202h6M2750 1202h0M2662 1208h0M2640 1213h6M2674 1213h0M2723 1213h0M2734 1213h0M2657 1218h0M2679 1218h0M2723 1218h0M2745 1218h0M2662 1224h11M2696 1224h6M2734 1224h0M2608 1230h0M2679 1230h0M2728 1230h0M2624 1235h0M2635 1235h0M2728 1240h0M2635 1246h0M2624 1252h0M2652 1252h0M2690 1252h0M2640 1257h6M2657 1257h6M2646 1262h6M2674 1262h0M2630 1268h0M2635 1274h6M2662 1274h0M2640 1279h0" stroke="#0101e1" stroke-width="9.4" stroke-linecap="round" fill="none"/><path d="M3031 932h0M3075 932h0M3020 944h6M3014 949h0M3058 949h0M3004 954h0M3026 976h0M2954 988h0M2943 993h0M2938 998h0M2976 1020h0M2932 1048h6M2943 1054h0M2838 1070h0M2921 1070h0M2904 1081h0M2794 1086h0M2806 1092h0M2772 1114h0M2723 1125h0M2745 1125h0M2850 1125h0M2740 1142h0M2811 1147h0M2723 1152h0M2718 1158h0M2701 1169h0M2833 1169h0M2767 1180h0M2800 1180h0M2750 1191h0M2679 1196h0M2674 1202h0M2750 1208h0M2613 1224h0M2740 1224h0M2646 1235h6" stroke="#000dff" stroke-width="9.4" stroke-linecap="round" fill="none"/><path d="M3075 916h0M3042 960h0M2976 976h0M2960 988h0M2948 993h0M3004 993h0M2921 1010h0M2982 1010h0M2965 1020h0M2850 1042h0M2938 1042h0M2833 1059h0M2916 1059h0M2910 1064h0M2899 1076h0M2811 1092h0M2877 1092h0M2800 1098h0M2855 1108h0M2756 1114h0M2844 1120h0M2828 1130h0M2816 1142h0M2712 1164h0M2696 1174h0M2690 1180h0M2674 1196h0M2728 1208h0M2696 1218h0M2712 1235h0M2613 1240h0M2630 1279h0" stroke="#0030ff" stroke-width="9.4" stroke-linecap="round" fill="none"/><path d="M3042 932h0M3070 938h0M3009 954h0M3053 954h0M2965 982h0M2992 998h0M2916 1015h0M2904 1020h0M2899 1026h0M2894 1032h0M2943 1037h0M2866 1048h0M2894 1070h0M2904 1070h0M2882 1086h0M2872 1098h0M2784 1108h0M2745 1136h0M2734 1147h0M2696 1152h0M2800 1152h0M2723 1158h0M2778 1169h0M2690 1196h0M2740 1196h0M2718 1213h0M2684 1257h0" stroke="#0054ff" stroke-width="9.4" stroke-linecap="round" fill="none"/><path d="M3053 927h0M2982 971h0M3031 971h0M3014 982h6M2943 998h0M2970 1015h0M2960 1020h0M2877 1042h0M2860 1054h0M2850 1059h6M2833 1076h0M2789 1103h0M2750 1136h0M2784 1164h0M2767 1174h6M2723 1180h0M2684 1191h0M2701 1218h0" stroke="#0077ff" stroke-width="9.4" stroke-linecap="round" fill="none"/><path d="M3075 922h0M3075 927h0M3048 932h0M3036 938h0M3064 938h0M3031 944h0M3048 949h0M3048 954h0M2965 1015h0M2910 1020h0M2960 1026h0M2872 1081h0M2860 1103h0M2762 1125h0M2822 1136h0M2789 1158h6M2706 1180h0M2750 1180h0M2762 1180h0M2734 1202h0M2684 1213h0" stroke="#009aff" stroke-width="9.4" stroke-linecap="round" fill="none"/><path d="M3070 922h0M3070 927h0M3036 944h0M3004 960h0M3004 966h0M2987 971h0M3026 971h0M2970 976h0M2998 993h0M2954 998h0M2926 1010h0M2976 1015h0M2910 1032h0M2888 1037h0M2932 1042h0M2926 1048h0M2872 1054h0M2860 1059h0M2844 1064h0M2888 1070h0M2828 1081h0M2794 1103h0M2850 1103h0M2800 1108h0M2816 1130h0M2811 1142h0M2800 1147h0M2772 1164h0M2718 1169h0M2701 1174h0M2718 1174h0M2696 1180h0M2745 1186h0M2756 1186h0M2718 1191h0M2674 1208h0M2679 1213h0M2690 1213h0M2712 1213h0" stroke="#00bdff" stroke-width="9.4" stroke-linecap="round" fill="none"/><path d="M3070 932h0M3042 938h0M3026 949h0M3036 960h0M3036 966h0M3020 971h0M2982 976h0M2970 982h0M3009 982h0M3009 988h0M2954 993h0M2932 1004h0M2943 1004h0M2976 1010h0M2921 1020h0M2948 1020h0M2916 1026h0M2904 1064h0M2894 1076h0M2860 1092h0M2866 1098h0M2789 1108h0M2838 1114h0M2833 1125h0M2822 1130h0M2784 1152h6M2723 1164h0M2772 1169h0M2701 1180h0M2712 1196h0M2706 1213h0" stroke="#00e0ff" stroke-width="9.4" stroke-linecap="round" fill="none"/><path d="M3064 944h0M3020 949h0M3042 954h0M3020 976h0M2976 982h0M2948 998h0M2948 1032h0M2899 1037h0M2882 1042h6M2921 1054h0M2904 1059h0M2899 1064h0M2833 1081h0M2833 1086h0M2828 1092h0M2866 1092h0M2806 1098h0M2850 1098h0M2860 1098h0M2816 1103h0M2833 1108h0M2844 1108h0M2778 1114h0M2772 1120h0M2772 1125h6M2756 1130h0M2811 1136h6M2745 1142h0M2806 1147h0M2723 1169h0M2756 1180h0M2706 1186h0M2734 1196h0M2684 1202h0M2728 1202h0M2718 1208h0" stroke="#04fffb" stroke-width="9.4" stroke-linecap="round" fill="none"/><path d="M2992 966h0M3031 966h0M2992 976h0M2970 988h0M2960 993h0M2932 1015h0M2910 1026h0M2932 1037h6M2872 1048h0M2872 1059h0M2860 1064h0M2822 1098h0M2828 1114h0M2822 1120h0M2838 1120h0M2767 1125h0M2816 1125h0M2772 1130h0M2806 1136h0M2800 1142h0M2794 1147h0M2712 1180h0M2696 1186h0M2690 1191h0M2706 1191h0M2740 1191h0M2706 1196h0M2718 1202h0M2706 1208h0" stroke="#28ffd7" stroke-width="9.4" stroke-linecap="round" fill="none"/><path d="M3058 927h0M3031 949h0M3014 954h0M2965 988h0M2992 993h0M2932 1010h0M2921 1015h0M2954 1026h0M2904 1032h0M2910 1048h0M2921 1048h0M2916 1054h0M2899 1070h0M2850 1076h0M2877 1076h0M2816 1086h0M2806 1103h0M2844 1114h0M2789 1120h0M2833 1120h0M2784 1125h0M2767 1130h0M2806 1130h0M2756 1142h0M2745 1147h0M2728 1152h0M2778 1152h0M2728 1164h0M2706 1174h6M2756 1174h0M2712 1186h0M2723 1191h0M2679 1202h0M2723 1202h0M2723 1208h0" stroke="#4bffb4" stroke-width="9.4" stroke-linecap="round" fill="none"/><path d="M3004 988h0M2938 1004h0M2982 1004h0M2970 1010h0M2916 1020h0M2954 1020h0M2899 1032h0M2894 1042h0M2921 1042h0M2888 1048h0M2916 1048h0M2850 1070h0M2838 1076h0M2866 1086h0M2877 1086h0M2872 1092h0M2811 1098h0M2855 1098h0M2800 1103h0M2844 1103h0M2772 1158h0M2767 1169h0M2712 1191h0M2684 1196h0M2718 1196h0M2690 1202h0M2684 1208h6M2701 1208h0M2712 1208h0" stroke="#6eff91" stroke-width="9.4" stroke-linecap="round" fill="none"/><path d="M2987 976h0M2926 1020h0M2904 1026h0M2938 1032h0M2894 1037h0M2877 1048h0M2899 1059h0M2910 1059h0M2844 1076h0M2828 1086h0M2838 1086h0M2872 1086h0M2850 1108h0M2756 1136h0M2767 1136h0M2734 1152h0M2794 1152h0M2728 1158h0M2767 1164h0M2762 1174h0M2690 1186h0M2701 1186h0M2718 1186h0M2745 1191h0M2696 1202h0M2696 1208h0M2696 1213h0" stroke="#91ff6e" stroke-width="9.4" stroke-linecap="round" fill="none"/><path d="M3064 932h0M3058 944h0M3014 960h0M2998 966h0M3026 966h0M2938 1010h6M2965 1010h0M2866 1054h0M2877 1054h0M2904 1054h6M2855 1064h0M2844 1070h0M2855 1070h0M2882 1070h0M2844 1081h0M2882 1081h0M2778 1120h0M2828 1125h0M2762 1142h0M2740 1147h0M2740 1152h6M2712 1169h0M2723 1186h0M2750 1186h0M2706 1202h0" stroke="#b4ff4b" stroke-width="9.4" stroke-linecap="round" fill="none"/><path d="M3036 954h0M3009 960h0M2992 971h0M2976 1004h0M2987 1004h0M2960 1015h0M2948 1026h0M2932 1032h0M2943 1032h0M2882 1054h0M2894 1064h0M2860 1070h0M2838 1081h0M2877 1081h0M2816 1092h0M2855 1103h0M2794 1114h6M2800 1136h0M2750 1142h0M2789 1147h0M2734 1158h0M2784 1158h0M2696 1191h0M2728 1196h0M2712 1202h0M2701 1213h0" stroke="#d7ff28" stroke-width="9.4" stroke-linecap="round" fill="none"/><path d="M3004 982h0M2965 993h0M2987 993h0M2982 998h6M2948 1004h0M2938 1015h0M2943 1026h0M2904 1037h0M2926 1042h0M2866 1059h0M2877 1059h0M2872 1064h0M2882 1076h0M2860 1086h0M2811 1103h0M2794 1108h0M2811 1130h0M2750 1147h0M2718 1164h0M2706 1169h0M2723 1174h0M2718 1180h0" stroke="#fbff04" stroke-width="9.4" stroke-linecap="round" fill="none"/><path d="M2982 982h0M2998 988h0M2976 998h0M2926 1015h0M2938 1026h0M2916 1042h0M2850 1064h0M2888 1064h0M2822 1086h0M2784 1114h0M2833 1114h0M2828 1120h0M2822 1125h0M2762 1130h0M2794 1142h0M2784 1147h0M2696 1196h0M2701 1202h0" stroke="#ffe000" stroke-width="9.4" stroke-linecap="round" fill="none"/><path d="M3048 938h0M3053 949h0M3009 976h6M2882 1048h0M2888 1076h0M2816 1098h0M2838 1103h0M2789 1114h0M2784 1120h0M2762 1136h0M2778 1158h0M2756 1169h0M2701 1191h0" stroke="#ffbd00" stroke-width="9.4" stroke-linecap="round" fill="none"/><path d="M3064 927h0M3058 932h0M2970 1004h0M2916 1032h0M2822 1092h0M2822 1114h0M2772 1136h0M2806 1142h0M2778 1164h0M2762 1169h0" stroke="#ff9a00" stroke-width="9.4" stroke-linecap="round" fill="none"/><path d="M3031 960h0M2992 988h0M2921 1026h0M2899 1042h0M2838 1108h0M2778 1130h0M2723 1196h0" stroke="#ff7700" stroke-width="9.4" stroke-linecap="round" fill="none"/><path d="M2998 971h0M2894 1048h0M2828 1098h0M2740 1158h0M2701 1196h0" stroke="#ff5400" stroke-width="9.4" stroke-linecap="round" fill="none"/><path d="M3020 954h0M2926 1037h0M2855 1076h0M2762 1164h0" stroke="#ff3000" stroke-width="9.4" stroke-linecap="round" fill="none"/><path d="M3042 949h0M2943 1020h0M2855 1092h0M2806 1108h0M2734 1164h0M2679 1208h0" stroke="#ff0d00" stroke-width="9.4" stroke-linecap="round" fill="none"/><path d="M3053 932h0M2850 1092h0" stroke="#e90000" stroke-width="9.4" stroke-linecap="round" fill="none"/><path d="M2998 982h0M2976 988h0M2960 1010h0M2794 1120h0" stroke="#c60000" stroke-width="9.4" stroke-linecap="round" fill="none"/><path d="M3009 966h0M3014 971h0M2850 1081h0M2800 1130h0M2728 1169h0" stroke="#a30000" stroke-width="9.4" stroke-linecap="round" fill="none"/><path d="M3053 938h6M3042 944h11M3036 949h0M3026 954h6M3020 960h6M3014 966h6M3004 971h6M2998 976h6M2987 982h6M2982 988h6M2970 993h11M2960 998h11M2954 1004h11M2948 1010h6M2943 1015h11M2932 1020h6M2926 1026h6M2921 1032h6M2910 1037h11M2904 1042h6M2899 1048h6M2888 1054h11M2882 1059h11M2866 1064h0M2877 1064h6M2866 1070h11M2860 1076h11M2855 1081h11M2844 1086h11M2833 1092h11M2833 1098h11M2822 1103h11M2811 1108h16M2806 1114h11M2800 1120h16M2789 1125h22M2784 1130h11M2778 1136h16M2767 1142h22M2756 1147h22M2750 1152h22M2745 1158h22M2740 1164h16M2734 1169h16M2728 1174h22M2728 1180h16M2728 1186h11M2728 1191h6" stroke="#800000" stroke-width="9.4" stroke-linecap="round" fill="none"/>
</g>
<line x1="2442.5" y1="1433.0" x2="3140.6" y2="861.0" stroke="#c8283a" stroke-opacity="0.8" stroke-width="4.2" clip-path="url(#c13)"/>
<path d="M2582.1 1433.0v-9M2582.1 861.0v9M2721.7 1433.0v-9M2721.7 861.0v9M2861.4 1433.0v-9M2861.4 861.0v9M3001.0 1433.0v-9M3001.0 861.0v9M2442.5 1318.6h9M3140.6 1318.6h-9M2442.5 1204.2h9M3140.6 1204.2h-9M2442.5 1089.8h9M3140.6 1089.8h-9M2442.5 975.4h9M3140.6 975.4h-9" stroke="#cfcfcf" stroke-width="2" fill="none"/>
<path d="M2442.5 861.0H3140.6" stroke="#dcdcdc" stroke-width="3"/>
<path d="M3140.6 861.0V1433.0" stroke="#d8d8d8" stroke-width="3"/>
<path d="M2442.5 859.5V1433.0" stroke="#a0a0a0" stroke-width="3"/>
<path d="M2441.0 1433.0H3141.6" stroke="#808080" stroke-width="3"/>
<text x="2442.5" y="1483.0" font-size="37" fill="#333" text-anchor="middle">1</text>
<text x="2582.1" y="1483.0" font-size="37" fill="#333" text-anchor="middle">2</text>
<text x="2721.7" y="1483.0" font-size="37" fill="#333" text-anchor="middle">3</text>
<text x="2861.4" y="1483.0" font-size="37" fill="#333" text-anchor="middle">4</text>
<text x="3001.0" y="1483.0" font-size="37" fill="#333" text-anchor="middle">5</text>
<text x="3140.6" y="1483.0" font-size="37" fill="#333" text-anchor="middle">6</text>
<text x="2482.5" y="932.0" font-size="58" fill="#000">(h)</text>
<g clip-path="url(#c20)">
<path d="M620 1630h0M797 1630h0M620 1636h0M674 1636h0M751 1636h0M782 1636h0M612 1643h0M635 1643h0M697 1643h0M736 1643h0M774 1643h0M812 1643h0M566 1650h0M612 1650h0M666 1650h0M535 1656h0M643 1656h8M728 1656h0M759 1656h0M520 1663h0M620 1663h15M766 1663h0M805 1663h0M528 1670h0M551 1670h8M589 1670h0M620 1670h0M635 1670h15M712 1670h0M805 1670h0M620 1676h0M635 1676h0M689 1676h0M805 1676h0M543 1683h0M628 1683h0M643 1683h0M712 1683h0M612 1690h0M628 1690h15M743 1690h0M774 1690h15M805 1690h0M620 1696h0M666 1696h0M512 1703h0M643 1703h15M759 1703h8M789 1703h15M474 1710h0M605 1710h0M620 1710h0M635 1710h0M697 1710h0M743 1710h0M759 1710h8M812 1710h0M558 1717h0M605 1717h0M620 1717h15M651 1717h8M674 1717h0M736 1717h0M759 1717h15M789 1717h0M812 1717h0M458 1723h0M597 1723h23M643 1723h8M666 1723h8M689 1723h0M736 1723h0M759 1723h0M812 1723h0M481 1730h0M512 1730h0M612 1730h15M651 1730h0M666 1730h38M612 1737h23M666 1737h8M689 1737h8M551 1743h0M566 1743h0M635 1743h0M651 1743h8M674 1743h0M812 1743h0M420 1750h0M489 1750h0M543 1750h0M582 1750h31M628 1750h0M643 1750h0M658 1750h0M543 1757h0M558 1757h8M589 1757h0M412 1764h0M551 1764h8M497 1770h0M512 1770h0M528 1770h15M566 1770h0M589 1770h0M420 1777h0M497 1777h0M512 1777h0M574 1777h0M404 1784h0M428 1784h0M458 1784h0M528 1784h0M528 1790h38M582 1790h0M797 1790h0M397 1797h0M504 1797h0M535 1797h8M558 1797h0M782 1797h0M797 1797h0M397 1804h0M474 1804h0M543 1804h0M759 1804h0M782 1804h0M812 1804h0M481 1810h8M504 1810h8M535 1810h0M736 1810h0M789 1810h0M805 1810h0M474 1817h0M497 1817h0M512 1817h0M720 1817h0M736 1817h0M751 1817h0M766 1817h0M451 1824h0M481 1824h0M497 1824h0M528 1824h0M720 1824h0M736 1824h8M766 1824h0M404 1830h0M443 1830h0M458 1830h8M512 1830h0M689 1830h0M712 1830h0M736 1830h8M774 1830h0M789 1830h15M358 1837h0M512 1837h0M720 1837h0M774 1837h0M812 1837h0M350 1844h0M389 1844h0M420 1844h8M458 1844h31M712 1844h0M751 1844h0M789 1844h15M374 1851h0M412 1851h0M443 1851h8M466 1851h0M489 1851h0M666 1851h8M689 1851h8M789 1851h0M805 1851h0M350 1857h8M435 1857h8M481 1857h0M658 1857h0M674 1857h0M728 1857h0M320 1864h0M358 1864h0M374 1864h0M397 1864h0M428 1864h0M458 1864h23M651 1864h0M666 1864h0M705 1864h0M743 1864h8M335 1871h0M420 1871h0M658 1871h0M674 1871h0M720 1871h0M797 1871h0M397 1877h0M420 1877h0M443 1877h0M643 1877h0M689 1877h8M712 1877h0M743 1877h0M374 1884h0M404 1884h8M443 1884h0M628 1884h0M651 1884h15M805 1884h0M366 1891h0M412 1891h0M428 1891h0M643 1891h0M374 1898h0M389 1898h23M435 1898h0M651 1898h0M674 1898h23M759 1898h0M335 1904h0M366 1904h0M381 1904h8M412 1904h0M635 1904h0M651 1904h0M736 1904h0M789 1904h0M805 1904h0M327 1911h0M620 1911h0M635 1911h15M666 1911h0M712 1911h0M304 1918h0M350 1918h0M366 1918h15M412 1918h0M597 1918h0M350 1924h0M374 1924h0M389 1924h0M404 1924h0M589 1924h0M605 1924h0M620 1924h0M635 1924h0M651 1924h0M712 1924h0M805 1924h0M350 1931h0M366 1931h8M389 1931h0M612 1931h0M628 1931h0M651 1931h0M666 1931h0M720 1931h0M743 1931h0M782 1931h0M812 1931h0M266 1938h0M297 1938h0M335 1938h38M389 1938h0M589 1938h0M612 1938h0M628 1938h0M366 1944h8M566 1944h0M597 1944h0M628 1944h0M782 1944h0M797 1944h0M258 1951h0M304 1951h0M320 1951h0M358 1951h15M566 1951h8M697 1951h0M712 1951h0M743 1951h0M312 1958h23M350 1958h0M612 1958h0M658 1958h0M320 1964h0M335 1964h0M558 1964h0M597 1964h0M682 1964h0M736 1964h0M297 1971h8M327 1971h0M589 1971h8M705 1971h0M766 1971h0M812 1971h0M243 1978h0M274 1978h0M297 1978h15M551 1978h0M697 1978h0M728 1978h0M304 1985h8M558 1985h0M582 1985h0M689 1985h0M759 1985h0M250 1991h0M266 1991h0M297 1991h0M558 1991h0M574 1991h0M812 1991h0M227 1998h0M250 1998h8M274 1998h8M520 1998h0M551 1998h15M582 1998h0M720 1998h0M805 1998h0M196 2005h0M243 2005h0M266 2005h8M520 2005h0M535 2005h15M566 2005h0M589 2005h15M658 2005h0M266 2011h0M497 2011h0M543 2011h0M566 2011h8M736 2011h0M235 2018h0M250 2018h0M266 2018h0M489 2018h0M543 2018h0M558 2018h0M720 2018h0M220 2025h0M235 2025h15M512 2025h0M528 2025h0M551 2025h0M566 2025h0M697 2025h0M220 2032h0M250 2032h0M512 2032h0M535 2032h15M574 2032h0M728 2032h0M181 2038h0M204 2038h0M451 2038h0M497 2038h0M535 2038h0M551 2038h8M597 2038h0M689 2038h0M751 2038h0M220 2045h8M443 2045h0M474 2045h0M489 2045h0M535 2045h0M635 2045h0M196 2052h0M435 2052h15M474 2052h0M520 2052h0M535 2052h0M635 2052h0M451 2058h8M512 2058h8M535 2058h0M566 2058h8M712 2058h0M435 2065h0M458 2065h8M512 2065h0M658 2065h0M712 2065h0M173 2072h8M196 2072h15M428 2072h8M451 2072h15M489 2072h0M551 2072h0M605 2072h0M705 2072h0M150 2078h0M412 2078h8M481 2078h0M497 2078h0M166 2085h8M189 2085h0M212 2085h0M389 2085h0M404 2085h0M458 2085h0M528 2085h0M204 2092h0M381 2092h0M397 2092h8M451 2092h0M504 2092h0M574 2092h0M620 2092h0M158 2098h0M181 2098h0M204 2098h0M397 2098h0M428 2098h8M512 2098h0M543 2098h0M712 2098h0M181 2105h8M366 2105h0M389 2105h0M412 2105h0M166 2112h0M381 2112h0M404 2112h15M528 2112h0M651 2112h0M666 2112h0M682 2112h0M181 2119h0M358 2119h0M389 2119h0M404 2119h0M574 2119h0M658 2119h0M166 2125h0M350 2125h8M389 2125h0M404 2125h0M520 2125h0M535 2125h0M597 2125h0M158 2132h8M289 2132h0M327 2132h8M366 2132h0M589 2132h0M166 2139h0M281 2139h0M327 2139h8M350 2139h8M374 2139h0M551 2139h0M628 2139h0M143 2145h0M266 2145h0M289 2145h0M304 2145h0M327 2145h0M535 2145h0M558 2145h0M582 2145h0M158 2152h0M266 2152h8M289 2152h15M335 2152h0M451 2152h0M250 2159h0M274 2159h23M327 2159h0M389 2159h0M158 2166h0M227 2166h0M497 2166h0M535 2166h0M243 2172h8M504 2172h0M150 2179h0M196 2179h0M235 2179h0M258 2179h0M374 2179h0M173 2186h0M397 2186h0M428 2186h0M158 2192h0M266 2192h0M428 2192h0M289 2199h0M258 2206h0M335 2206h0M243 2219h0" stroke="#08084f" stroke-width="10.0" stroke-linecap="round" fill="none"/><path d="M635 1650h0M628 1670h0M628 1676h0M620 1690h0M635 1696h0M628 1703h0M736 1703h0M812 1703h0M658 1710h0M805 1710h0M643 1717h0M689 1717h8M782 1717h0M543 1723h0M635 1723h0M643 1730h0M720 1730h0M759 1730h0M658 1737h0M451 1743h0M628 1743h0M666 1743h0M697 1743h8M651 1750h0M666 1750h0M597 1757h0M612 1757h0M628 1757h0M666 1757h0M543 1764h0M566 1764h8M551 1770h8M574 1770h0M597 1770h0M812 1770h0M558 1777h8M597 1777h0M812 1777h0M512 1784h0M543 1784h0M558 1784h0M574 1784h8M812 1784h0M497 1790h0M589 1790h0M789 1790h0M805 1790h0M520 1797h0M551 1797h0M766 1797h8M520 1804h0M535 1804h0M558 1804h0M774 1804h0M520 1810h0M543 1810h8M566 1810h0M743 1810h0M759 1810h0M782 1810h0M520 1817h15M743 1817h0M774 1817h0M474 1824h0M504 1824h0M520 1824h0M705 1824h8M774 1824h0M789 1824h0M812 1824h0M481 1830h0M528 1830h0M682 1830h0M697 1830h8M720 1830h0M766 1830h0M458 1837h0M682 1837h23M751 1837h0M451 1844h0M497 1844h8M666 1844h0M697 1844h0M474 1851h8M504 1851h0M635 1851h0M658 1851h0M682 1851h0M466 1857h0M643 1857h0M666 1857h0M697 1857h15M489 1864h0M443 1871h0M458 1871h15M666 1871h0M451 1877h0M474 1877h0M597 1877h0M705 1877h0M435 1884h0M451 1884h0M574 1884h0M612 1884h8M643 1884h0M404 1891h0M420 1891h0M443 1891h8M612 1891h0M628 1891h8M420 1898h8M605 1898h0M620 1898h8M404 1904h0M428 1904h0M612 1904h8M404 1911h0M428 1911h0M535 1911h0M612 1911h0M658 1911h0M397 1918h0M520 1918h0M535 1918h0M612 1918h0M397 1924h0M412 1924h0M551 1924h0M597 1924h0M289 1931h0M574 1931h0M589 1931h8M397 1938h0M543 1938h0M566 1938h0M597 1938h0M381 1944h0M574 1944h8M605 1944h0M512 1951h0M551 1951h0M589 1951h15M551 1958h8M589 1958h8M343 1964h0M474 1964h0M551 1964h0M320 1971h0M335 1971h0M574 1971h0M327 1978h0M466 1978h0M489 1978h0M558 1978h8M589 1978h0M297 1985h0M443 1991h0M551 1991h0M566 1991h0M589 1991h0M535 1998h8M289 2005h0M481 2005h0M504 2005h0M274 2011h0M489 2011h0M504 2011h0M520 2011h8M551 2011h0M582 2011h0M227 2018h0M258 2018h0M504 2018h0M520 2018h0M535 2018h0M458 2025h0M481 2025h8M558 2025h0M243 2032h0M474 2032h8M520 2032h8M235 2038h0M443 2038h0M466 2038h23M528 2038h0M543 2038h0M204 2045h0M466 2045h0M497 2045h0M551 2045h0M420 2052h0M481 2052h0M504 2052h0M528 2052h0M181 2065h0M212 2065h0M443 2065h0M404 2072h0M443 2072h0M481 2072h0M196 2078h15M404 2078h0M474 2078h0M420 2085h0M443 2085h0M196 2092h0M389 2092h0M420 2092h0M374 2098h0M358 2105h0M404 2105h0M374 2112h0M173 2119h0M381 2119h0M289 2125h0M320 2125h8M374 2125h8M281 2132h0M312 2132h0M358 2132h0M297 2139h0M520 2139h0M166 2145h0M274 2145h0M312 2145h8M320 2152h0M243 2159h0M312 2159h0M243 2166h0M281 2166h0M297 2166h0M566 2166h0M204 2172h8M258 2172h0M166 2179h0M212 2186h0M227 2192h0" stroke="#060680" stroke-width="10.0" stroke-linecap="round" fill="none"/><path d="M666 1710h8M751 1717h0M697 1723h0M774 1723h0M712 1730h0M751 1730h0M651 1737h0M705 1737h0M736 1737h0M812 1737h0M643 1743h0M620 1750h0M759 1750h0M789 1750h0M812 1750h0M535 1757h0M620 1757h0M651 1757h0M674 1757h0M597 1764h0M643 1764h0M658 1764h0M682 1764h0M736 1764h0M605 1777h0M712 1777h0M551 1784h0M605 1784h0M651 1784h0M805 1784h0M574 1790h0M597 1790h0M489 1797h8M582 1797h0M551 1804h0M751 1804h0M558 1810h0M574 1810h0M543 1817h15M589 1817h0M643 1817h0M705 1817h8M759 1817h0M535 1824h8M697 1824h0M759 1824h0M474 1830h0M628 1830h0M658 1830h0M481 1837h0M520 1837h0M628 1837h0M658 1837h15M512 1844h0M528 1844h0M558 1844h8M643 1844h15M674 1844h0M705 1844h0M728 1844h0M512 1851h0M643 1851h8M712 1851h0M497 1857h8M597 1857h0M612 1857h15M689 1857h0M412 1864h0M497 1864h0M605 1864h23M682 1864h0M435 1871h0M451 1871h0M597 1871h0M612 1871h15M435 1877h0M466 1877h0M605 1877h15M635 1877h0M674 1877h8M458 1884h0M582 1884h23M566 1891h0M582 1891h0M597 1891h8M443 1898h0M497 1898h0M551 1898h15M582 1898h0M612 1898h0M666 1898h0M443 1904h0M535 1904h46M412 1911h8M528 1911h0M543 1911h8M574 1911h0M589 1911h8M428 1918h0M458 1918h0M558 1918h0M574 1918h15M605 1918h0M535 1924h8M574 1924h0M543 1931h23M497 1938h31M551 1938h8M389 1944h0M466 1944h0M497 1944h0M512 1944h0M528 1944h31M589 1944h0M343 1951h0M474 1951h0M489 1951h0M528 1951h15M558 1951h0M582 1951h0M366 1958h0M381 1958h0M481 1958h15M512 1958h8M350 1964h0M458 1964h8M489 1964h8M512 1964h0M528 1964h15M458 1971h0M504 1971h0M528 1971h15M420 1978h8M497 1978h23M543 1978h0M320 1985h0M443 1985h15M474 1985h15M504 1985h15M535 1985h0M551 1985h0M458 1991h15M489 1991h0M504 1991h0M520 1991h8M543 1991h0M289 1998h0M451 1998h0M466 1998h15M504 1998h8M428 2005h0M443 2005h31M497 2005h0M512 2005h0M243 2011h0M281 2011h0M443 2011h23M274 2018h0M443 2018h0M458 2018h23M528 2018h0M566 2018h0M451 2025h0M535 2025h0M443 2032h0M466 2032h0M250 2038h0M266 2045h0M451 2045h8M227 2052h0M428 2052h0M212 2058h0M420 2058h8M443 2058h0M412 2065h15M220 2072h0M397 2072h0M173 2078h0M389 2078h8M443 2078h0M220 2085h0M212 2092h0M412 2092h0M366 2098h0M196 2105h0M327 2105h0M173 2112h15M335 2119h15M374 2119h0M304 2125h0M335 2125h0M173 2132h0M297 2132h8M274 2139h0M166 2152h0M250 2152h0M220 2166h0M173 2179h0M189 2179h0" stroke="#0303b0" stroke-width="10.0" stroke-linecap="round" fill="none"/><path d="M805 1717h0M766 1723h0M805 1723h0M766 1730h8M805 1730h0M720 1737h0M774 1737h0M789 1737h0M712 1743h0M728 1743h15M774 1743h0M797 1743h8M635 1750h0M674 1750h0M712 1750h0M743 1750h0M766 1750h8M805 1750h0M605 1757h0M635 1757h0M682 1757h8M736 1757h0M766 1757h0M789 1757h8M812 1757h0M605 1764h0M651 1764h0M666 1764h0M705 1764h8M751 1764h0M766 1764h0M782 1764h0M797 1764h0M682 1770h8M751 1770h0M774 1770h8M805 1770h0M658 1777h0M697 1777h0M720 1777h0M789 1777h0M612 1784h0M658 1784h8M697 1784h0M743 1784h0M759 1784h8M797 1784h0M605 1790h0M674 1790h0M743 1790h0M759 1790h8M589 1797h15M666 1797h0M682 1797h0M751 1797h8M512 1804h0M528 1804h0M574 1804h8M658 1804h8M697 1804h8M720 1804h8M766 1804h0M589 1810h0M651 1810h0M689 1810h0M712 1810h15M566 1817h0M597 1817h0M689 1817h0M728 1817h0M551 1824h0M612 1824h8M674 1824h15M728 1824h0M543 1830h0M566 1830h0M597 1830h8M666 1830h8M504 1837h0M535 1837h0M605 1837h0M620 1837h0M736 1837h0M520 1844h0M589 1844h0M612 1844h0M497 1851h0M520 1851h8M543 1851h0M558 1851h0M589 1851h8M620 1851h0M528 1857h8M582 1857h0M635 1857h0M651 1857h0M512 1864h0M535 1864h0M551 1864h0M566 1864h8M635 1864h0M658 1864h0M674 1864h0M489 1871h15M520 1871h8M551 1871h23M589 1871h0M504 1877h8M574 1877h15M474 1884h0M489 1884h0M512 1884h0M566 1884h0M435 1891h0M458 1891h15M489 1891h8M512 1891h0M558 1891h0M589 1891h0M451 1898h0M512 1898h0M535 1898h0M574 1898h0M589 1898h0M435 1904h0M474 1904h15M520 1904h0M589 1904h0M389 1911h0M435 1911h0M474 1911h8M512 1911h8M558 1911h8M605 1911h0M435 1918h0M466 1918h0M512 1918h0M528 1918h0M551 1918h0M428 1924h23M512 1924h15M558 1924h8M643 1924h0M435 1931h15M481 1931h0M497 1931h0M520 1931h0M535 1931h0M381 1938h0M420 1938h0M435 1938h0M489 1938h0M535 1938h0M443 1944h0M458 1944h0M412 1951h0M428 1951h15M458 1951h0M481 1951h0M497 1951h0M520 1951h0M343 1958h0M389 1958h0M404 1958h0M435 1958h0M474 1958h0M504 1958h0M528 1958h8M574 1958h0M358 1964h0M397 1964h0M435 1964h0M481 1964h0M520 1964h0M343 1971h8M381 1971h0M443 1971h8M474 1971h23M320 1978h0M350 1978h0M366 1978h0M435 1978h8M481 1978h0M528 1978h0M466 1985h0M497 1985h0M528 1985h0M543 1985h0M304 1991h8M335 1991h0M451 1991h0M481 1991h0M497 1991h0M304 1998h0M489 1998h8M435 2005h0M489 2005h0M327 2011h8M412 2011h0M474 2011h0M281 2018h0M266 2025h0M289 2025h8M258 2032h0M458 2032h0M389 2038h0M458 2038h0M504 2038h0M235 2045h8M258 2045h0M428 2045h0M220 2052h0M235 2052h0M250 2052h0M220 2058h0M235 2058h0M389 2058h0M466 2058h0M404 2065h0M227 2072h0M381 2072h0M350 2078h0M381 2078h0M374 2085h8M343 2092h0M358 2092h0M374 2092h0M335 2098h0M358 2098h0M350 2105h0M327 2112h8M366 2112h0M312 2119h0M173 2125h0M297 2125h0M312 2125h0M320 2132h0M258 2145h0M258 2152h0M166 2159h0M166 2172h0M189 2172h8" stroke="#0101e1" stroke-width="10.0" stroke-linecap="round" fill="none"/><path d="M797 1717h0M751 1723h0M789 1723h0M789 1730h8M743 1737h0M759 1737h8M805 1737h0M574 1743h0M751 1743h0M782 1743h8M682 1750h0M697 1750h8M720 1750h0M736 1750h0M751 1750h0M782 1750h0M797 1750h0M697 1757h31M743 1757h0M774 1757h8M805 1757h0M697 1764h0M720 1764h8M759 1764h0M774 1764h0M789 1764h0M805 1764h0M658 1770h0M674 1770h0M705 1770h0M728 1770h15M759 1770h0M797 1770h0M651 1777h0M666 1777h0M728 1777h8M751 1777h0M766 1777h0M782 1777h0M589 1784h0M674 1784h8M705 1784h15M736 1784h0M751 1784h0M774 1784h8M682 1790h0M697 1790h0M712 1790h0M728 1790h0M774 1790h0M566 1797h0M658 1797h0M705 1797h0M720 1797h0M736 1797h8M589 1804h8M682 1804h0M712 1804h0M736 1804h0M528 1810h0M597 1810h8M658 1810h0M682 1810h0M705 1810h0M651 1817h8M674 1817h0M697 1817h0M574 1824h0M589 1824h8M643 1824h8M666 1824h0M558 1830h0M574 1830h15M643 1830h0M558 1837h0M574 1837h8M597 1837h0M612 1837h0M635 1837h0M535 1844h8M597 1844h8M620 1844h15M689 1844h0M574 1851h8M520 1857h0M543 1857h0M566 1857h0M589 1857h0M605 1857h0M504 1864h0M582 1864h15M643 1864h0M643 1871h0M481 1877h15M528 1877h0M551 1877h15M628 1877h0M466 1884h0M497 1884h8M520 1884h15M558 1884h0M481 1891h0M504 1891h0M528 1891h0M458 1898h15M489 1898h0M520 1898h0M543 1898h0M635 1898h0M451 1904h0M504 1904h0M528 1904h0M443 1911h15M497 1911h0M481 1918h0M497 1918h0M543 1918h0M420 1924h0M458 1924h0M489 1924h8M412 1931h0M466 1931h8M504 1931h0M404 1938h0M443 1938h31M574 1938h8M412 1944h8M451 1944h0M474 1944h8M389 1951h15M420 1951h0M397 1958h0M443 1958h0M389 1964h0M404 1964h0M420 1964h0M451 1964h0M358 1971h8M404 1971h8M428 1971h0M335 1978h0M381 1978h0M404 1978h8M327 1985h0M343 1985h0M366 1985h0M389 1985h15M420 1985h0M435 1985h0M320 1991h8M350 1991h0M374 1991h8M397 1991h8M420 1991h0M435 1991h0M535 1991h0M343 1998h0M366 1998h0M428 1998h15M297 2005h8M320 2005h31M412 2005h0M297 2011h0M312 2011h8M343 2011h0M428 2011h8M304 2018h0M497 2018h0M274 2025h0M312 2025h0M412 2025h0M274 2032h0M397 2032h0M412 2032h15M258 2038h8M420 2038h0M381 2045h8M404 2045h0M435 2045h0M397 2052h0M412 2052h0M243 2058h0M404 2058h0M243 2065h0M366 2065h0M397 2065h0M358 2072h0M343 2085h23M335 2092h0M212 2098h0M320 2098h0M350 2098h0M312 2105h8M343 2112h0M358 2112h0M327 2119h0M343 2125h0M289 2139h0M243 2152h0M181 2179h0" stroke="#000dff" stroke-width="10.0" stroke-linecap="round" fill="none"/><path d="M812 1730h0M782 1737h0M766 1743h0M728 1750h0M751 1757h8M612 1764h0M674 1764h0M689 1764h0M612 1770h0M666 1770h0M674 1777h0M759 1777h0M689 1784h0M728 1784h0M651 1790h0M689 1790h0M705 1790h0M720 1790h0M736 1790h0M689 1797h8M605 1804h0M689 1804h0M582 1810h0M666 1810h8M697 1810h0M582 1817h0M682 1817h0M605 1824h0M635 1824h0M612 1830h0M643 1837h0M551 1844h0M566 1851h0M512 1857h0M558 1857h0M543 1864h0M512 1871h0M543 1877h0M481 1884h0M543 1884h0M635 1884h0M543 1891h0M481 1898h0M528 1898h0M512 1904h0M466 1911h0M451 1918h0M489 1918h0M504 1918h0M474 1924h8M504 1924h0M420 1931h0M481 1938h0M397 1944h0M420 1958h0M451 1958h0M374 1964h0M412 1964h0M389 1971h8M435 1971h0M551 1971h0M397 1978h0M389 1991h0M428 1991h0M320 1998h8M350 1998h0M412 1998h0M358 2005h0M420 2005h0M397 2011h0M420 2011h0M289 2018h0M327 2018h0M404 2018h8M281 2025h0M397 2025h8M420 2025h15M281 2032h8M435 2032h0M451 2032h0M243 2038h0M274 2038h0M428 2038h0M250 2045h0M420 2045h0M258 2052h0M374 2052h0M404 2052h0M227 2058h0M250 2058h0M381 2058h0M227 2065h0M374 2065h15M374 2072h0M389 2072h0M358 2078h0M374 2078h0M220 2092h0M343 2098h0M335 2105h8M196 2112h0M304 2112h15M281 2125h0M173 2139h0M266 2139h0M204 2166h0M181 2172h0" stroke="#0030ff" stroke-width="10.0" stroke-linecap="round" fill="none"/><path d="M782 1730h0M643 1770h0M697 1770h0M797 1777h0M597 1784h0M666 1790h0M612 1797h0M643 1804h0M612 1810h0M643 1810h0M605 1817h8M566 1824h0M620 1830h0M543 1837h8M651 1837h0M574 1857h0M520 1864h0M558 1864h0M535 1871h0M551 1884h0M504 1898h0M458 1904h0M420 1918h0M458 1931h0M466 1951h0M412 1958h0M343 1978h0M374 1978h0M335 1985h0M350 1985h0M374 1985h0M412 1985h0M374 1998h0M389 1998h15M397 2005h0M404 2011h0M297 2018h0M397 2018h0M474 2025h0M297 2032h0M404 2032h0M397 2038h15M243 2052h0M381 2052h8M366 2072h0M204 2105h0M297 2112h0M304 2119h0M320 2119h0M181 2125h0M227 2159h0" stroke="#0054ff" stroke-width="10.0" stroke-linecap="round" fill="none"/><path d="M612 1790h0M612 1804h0M420 1971h0M404 2005h0M320 2018h0M320 2025h0M389 2032h0M281 2038h0M412 2045h0M366 2052h0M343 2078h0M366 2078h0M227 2085h0M335 2085h0M327 2098h0M281 2119h0M235 2152h0M166 2166h0M173 2172h0" stroke="#0077ff" stroke-width="10.0" stroke-linecap="round" fill="none"/><path d="M705 1777h0M643 1784h0M389 2005h0M381 2018h0M335 2025h0M350 2025h0M366 2025h0M274 2045h0M304 2045h0M243 2072h0M235 2078h0M327 2092h0M312 2098h0M304 2105h0M204 2112h0M289 2119h0" stroke="#009aff" stroke-width="10.0" stroke-linecap="round" fill="none"/><path d="M643 1790h0M366 2005h8M389 2011h0M335 2018h0M358 2032h0M297 2038h15M335 2038h8M281 2045h0M358 2058h0M335 2065h0M358 2065h0M350 2072h0M304 2092h15M297 2098h0M196 2119h0M258 2132h0M173 2145h0M227 2145h0M220 2159h0M189 2166h0" stroke="#00bdff" stroke-width="10.0" stroke-linecap="round" fill="none"/><path d="M643 1797h0M620 1817h0M350 2011h0M358 2018h0M389 2018h0M366 2038h0M297 2045h0M312 2045h0M266 2052h15M350 2058h0M327 2072h0M327 2078h0M327 2085h0M304 2098h0M189 2125h0M258 2125h0M258 2139h0M235 2145h0M173 2152h0M204 2159h0M173 2166h0" stroke="#00e0ff" stroke-width="10.0" stroke-linecap="round" fill="none"/><path d="M635 1784h0M381 2005h0M358 2011h8M381 2011h0M343 2018h0M366 2018h8M320 2032h0M343 2032h0M289 2038h0M320 2038h0M350 2038h8M381 2038h0M289 2045h0M335 2045h0M343 2052h0M343 2058h0M350 2065h0M227 2092h0M212 2105h0M266 2119h8M243 2139h0M243 2145h8" stroke="#04fffb" stroke-width="10.0" stroke-linecap="round" fill="none"/><path d="M643 1777h0M620 1784h0M381 2025h8M335 2032h0M366 2032h0M327 2038h0M374 2038h0M327 2045h0M350 2045h0M366 2045h0M289 2052h0M335 2052h0M350 2052h8M335 2058h0M366 2058h0M258 2065h0M343 2065h0M250 2072h0M320 2078h0M335 2078h0M181 2132h0M266 2132h0M227 2152h0M173 2159h0M196 2166h0" stroke="#28ffd7" stroke-width="10.0" stroke-linecap="round" fill="none"/><path d="M620 1770h0M620 1790h0M635 1810h0M350 2018h0M304 2032h0M350 2032h0M374 2045h0M258 2058h0M250 2065h0M243 2078h0M235 2085h0M312 2085h8M220 2098h0M281 2112h0M266 2125h0M250 2139h0M220 2152h0M196 2159h0" stroke="#4bffb4" stroke-width="10.0" stroke-linecap="round" fill="none"/><path d="M635 1770h0M628 1784h0M628 1817h0M381 2032h0M320 2045h0M335 2072h0M289 2105h0M289 2112h0M243 2132h0M235 2139h0M181 2166h0" stroke="#6eff91" stroke-width="10.0" stroke-linecap="round" fill="none"/><path d="M628 1764h0M628 1770h0M635 1797h0M358 2025h0M312 2032h0M327 2032h0M374 2032h0M343 2045h0M266 2058h0M343 2072h0M281 2105h0M212 2159h0" stroke="#91ff6e" stroke-width="10.0" stroke-linecap="round" fill="none"/><path d="M635 1764h0M635 1817h0M374 2011h0M327 2025h0" stroke="#b4ff4b" stroke-width="10.0" stroke-linecap="round" fill="none"/><path d="M274 2058h0M297 2085h0M297 2105h0M212 2112h0" stroke="#d7ff28" stroke-width="10.0" stroke-linecap="round" fill="none"/><path d="M635 1777h0M635 1790h0M374 2025h0M312 2052h0M220 2105h0M274 2125h0" stroke="#fbff04" stroke-width="10.0" stroke-linecap="round" fill="none"/><path d="M258 2072h0M274 2112h0" stroke="#ffe000" stroke-width="10.0" stroke-linecap="round" fill="none"/><path d="M620 1777h0M266 2065h0M281 2065h0" stroke="#ffbd00" stroke-width="10.0" stroke-linecap="round" fill="none"/><path d="M628 1777h0M635 1804h0M320 2052h0M289 2058h0M304 2085h0" stroke="#ff9a00" stroke-width="10.0" stroke-linecap="round" fill="none"/><path d="M327 2058h0M212 2152h0" stroke="#ff7700" stroke-width="10.0" stroke-linecap="round" fill="none"/><path d="M327 2052h0M274 2065h0M320 2065h0" stroke="#ff5400" stroke-width="10.0" stroke-linecap="round" fill="none"/><path d="M304 2052h0M227 2098h0M266 2112h0M189 2159h0" stroke="#ff3000" stroke-width="10.0" stroke-linecap="round" fill="none"/><path d="M281 2058h0M289 2065h0M250 2078h0M304 2078h8M289 2092h0M281 2098h0M250 2125h0" stroke="#ff0d00" stroke-width="10.0" stroke-linecap="round" fill="none"/><path d="M312 2058h0M320 2072h0M289 2098h0M204 2119h0M196 2125h0" stroke="#e90000" stroke-width="10.0" stroke-linecap="round" fill="none"/><path d="M297 2052h0M243 2085h0" stroke="#c60000" stroke-width="10.0" stroke-linecap="round" fill="none"/><path d="M312 2072h0" stroke="#a30000" stroke-width="10.0" stroke-linecap="round" fill="none"/><path d="M628 1790h0M620 1797h8M620 1804h8M620 1810h8M297 2058h8M320 2058h0M297 2065h15M327 2065h0M266 2072h38M258 2078h38M250 2085h38M235 2092h46M297 2092h0M235 2098h38M227 2105h46M220 2112h38M212 2119h46M204 2125h38M189 2132h46M181 2139h46M181 2145h39M181 2152h23M181 2159h0" stroke="#800000" stroke-width="10.0" stroke-linecap="round" fill="none"/>
</g>
<line x1="119.5" y1="2232.5" x2="813.0" y2="1630.5" stroke="#c8283a" stroke-opacity="0.8" stroke-width="4.2" clip-path="url(#c20)"/>
<path d="M196.6 2232.5v-9M196.6 1630.5v9M350.7 2232.5v-9M350.7 1630.5v9M504.8 2232.5v-9M504.8 1630.5v9M658.9 2232.5v-9M658.9 1630.5v9M119.5 2165.6h9M813.0 2165.6h-9M119.5 2031.8h9M813.0 2031.8h-9M119.5 1898.1h9M813.0 1898.1h-9M119.5 1764.3h9M813.0 1764.3h-9" stroke="#cfcfcf" stroke-width="2" fill="none"/>
<path d="M119.5 1630.5H813.0" stroke="#dcdcdc" stroke-width="3"/>
<path d="M813.0 1630.5V2232.5" stroke="#d8d8d8" stroke-width="3"/>
<path d="M119.5 1629.0V2232.5" stroke="#a0a0a0" stroke-width="3"/>
<path d="M118.0 2232.5H814.0" stroke="#808080" stroke-width="3"/>
<text x="196.6" y="2282.5" font-size="37" fill="#333" text-anchor="middle">0</text>
<text x="350.7" y="2282.5" font-size="37" fill="#333" text-anchor="middle">10</text>
<text x="504.8" y="2282.5" font-size="37" fill="#333" text-anchor="middle">20</text>
<text x="658.9" y="2282.5" font-size="37" fill="#333" text-anchor="middle">30</text>
<text x="813.0" y="2282.5" font-size="37" fill="#333" text-anchor="middle">40</text>
<text x="105.5" y="2178.9" font-size="37" fill="#333" text-anchor="end">0</text>
<text x="105.5" y="2045.1" font-size="37" fill="#333" text-anchor="end">10</text>
<text x="105.5" y="1911.4" font-size="37" fill="#333" text-anchor="end">20</text>
<text x="105.5" y="1777.6" font-size="37" fill="#333" text-anchor="end">30</text>
<text x="105.5" y="1643.8" font-size="37" fill="#333" text-anchor="end">40</text>
<text x="159.5" y="1701.5" font-size="58" fill="#000">(i)</text>
<g clip-path="url(#c21)">
<path d="M1487 1643h0M1418 1650h0M1433 1650h8M1472 1656h0M1464 1663h0M1525 1663h0M1572 1663h0M1379 1670h0M1410 1670h0M1548 1670h0M1572 1670h0M1402 1676h0M1456 1676h0M1518 1676h0M1564 1676h0M1410 1683h8M1533 1683h0M1302 1690h0M1348 1690h0M1379 1690h8M1441 1690h0M1541 1690h8M1564 1690h0M1402 1696h0M1472 1696h0M1510 1696h38M1256 1703h0M1302 1703h8M1325 1703h0M1364 1703h0M1379 1703h0M1394 1703h0M1418 1703h15M1456 1703h0M1587 1703h0M1356 1710h0M1387 1710h23M1425 1710h0M1441 1710h15M1472 1710h0M1394 1717h0M1433 1717h0M1464 1717h0M1264 1723h8M1371 1723h23M1410 1723h0M1425 1723h0M1348 1730h0M1387 1730h0M1410 1730h0M1441 1730h8M1210 1737h0M1240 1737h0M1348 1737h0M1387 1737h8M1425 1737h0M1441 1737h0M1456 1737h0M1233 1743h0M1356 1743h0M1410 1743h0M1441 1743h0M1587 1743h0M1187 1750h0M1248 1750h0M1302 1750h0M1364 1750h0M1410 1750h0M1587 1750h0M1202 1757h0M1248 1757h0M1356 1757h15M1394 1757h0M1318 1764h0M1341 1764h0M1356 1764h15M1572 1764h0M1294 1770h0M1310 1770h0M1325 1770h0M1348 1770h0M1564 1770h8M1240 1777h0M1271 1777h8M1294 1777h0M1318 1777h15M1348 1777h8M1548 1777h0M1579 1777h0M1210 1784h0M1287 1784h31M1348 1784h0M1533 1784h0M1556 1784h0M1279 1790h0M1302 1790h0M1325 1790h0M1348 1790h8M1541 1790h0M1556 1790h0M1202 1797h0M1271 1797h0M1287 1797h8M1310 1797h0M1325 1797h8M1233 1804h0M1256 1804h8M1279 1804h0M1294 1804h0M1310 1804h0M1333 1804h0M1518 1804h0M1548 1804h0M1579 1804h0M1156 1810h0M1179 1810h0M1248 1810h8M1279 1810h0M1302 1810h15M1495 1810h0M1510 1810h8M1533 1810h23M1579 1810h0M1187 1817h0M1248 1817h0M1264 1817h0M1495 1817h0M1510 1817h15M1564 1817h0M1579 1817h8M1225 1824h8M1271 1824h8M1464 1824h8M1502 1824h0M1518 1824h8M1541 1824h15M1572 1824h0M1587 1824h0M1233 1830h0M1248 1830h8M1271 1830h8M1294 1830h0M1433 1830h15M1464 1830h0M1495 1830h0M1133 1837h0M1210 1837h0M1225 1837h0M1433 1837h0M1456 1837h15M1487 1837h0M1502 1837h0M1564 1837h0M1194 1844h0M1240 1844h8M1264 1844h0M1541 1844h0M1248 1851h8M1456 1851h23M1525 1851h0M1125 1857h0M1164 1857h0M1179 1857h0M1194 1857h8M1225 1857h0M1256 1857h0M1410 1857h8M1441 1857h8M1502 1857h0M1525 1857h0M1541 1857h0M1117 1864h0M1179 1864h0M1194 1864h0M1210 1864h8M1233 1864h0M1410 1864h31M1479 1864h0M1556 1864h0M1071 1871h0M1125 1871h0M1140 1871h0M1448 1871h0M1071 1877h0M1164 1877h0M1179 1877h15M1210 1877h0M1233 1877h0M1402 1877h0M1048 1884h0M1148 1884h0M1187 1884h8M1210 1884h8M1364 1884h0M1379 1884h8M1410 1884h15M1525 1884h0M1564 1884h0M1117 1891h0M1140 1891h8M1164 1891h0M1179 1891h15M1356 1891h0M1379 1891h0M1394 1891h0M1425 1891h0M1441 1891h0M1556 1891h8M1048 1898h0M1156 1898h8M1179 1898h0M1202 1898h0M1356 1898h0M1371 1898h15M1402 1898h0M1433 1898h0M1479 1898h0M1502 1898h0M1086 1904h0M1102 1904h0M1148 1904h8M1171 1904h0M1187 1904h0M1356 1904h0M1456 1904h0M1502 1904h0M1564 1904h0M1056 1911h0M1117 1911h0M1133 1911h8M1341 1911h0M1364 1911h0M1387 1911h0M1441 1911h0M1456 1911h0M1533 1911h0M1040 1918h0M1125 1918h8M1171 1918h0M1333 1918h0M1371 1918h0M1394 1918h0M1441 1918h0M1472 1918h0M1063 1924h0M1110 1924h0M1125 1924h0M1156 1924h0M1348 1924h8M1379 1924h15M1487 1924h0M1094 1931h0M1325 1931h0M1341 1931h0M1356 1931h8M1379 1931h0M1048 1938h0M1063 1938h0M1117 1938h8M1333 1938h8M1356 1938h0M1394 1938h8M1564 1938h0M1071 1944h0M1094 1944h0M1110 1944h0M1333 1944h8M1356 1944h0M1371 1944h8M1448 1944h0M1579 1944h8M1071 1951h8M1102 1951h0M1125 1951h0M1302 1951h8M1341 1951h8M1364 1951h0M1394 1951h0M1448 1951h0M971 1958h0M986 1958h0M1010 1958h0M1079 1958h0M1117 1958h0M1271 1958h0M1310 1958h15M1341 1958h8M1418 1958h0M1510 1958h0M1533 1958h0M994 1964h0M1094 1964h8M1302 1964h8M1333 1964h0M1348 1964h0M1364 1964h0M1394 1964h0M1433 1964h0M1525 1964h0M979 1971h0M1071 1971h0M1302 1971h0M1325 1971h8M1356 1971h0M1472 1971h0M1518 1971h0M1548 1971h0M1033 1978h0M1048 1978h0M1256 1978h0M1279 1978h0M1294 1978h15M1333 1978h0M1394 1978h0M1541 1978h0M1587 1978h0M994 1985h0M1248 1985h0M1279 1985h0M1333 1985h0M1348 1985h0M1364 1985h0M1495 1985h0M1541 1985h0M940 1991h0M1033 1991h0M1048 1991h0M1248 1991h8M1279 1991h38M1394 1991h0M986 1998h8M1017 1998h0M1033 1998h0M1048 1998h0M1248 1998h0M1287 1998h0M1402 1998h0M1487 1998h0M1525 1998h8M1564 1998h0M948 2005h0M1017 2005h0M1248 2005h0M1271 2005h0M1294 2005h0M1548 2005h0M1010 2011h0M1240 2011h31M1287 2011h0M1464 2011h8M1587 2011h0M1233 2018h0M1248 2018h8M1279 2018h0M1379 2018h0M986 2025h0M1248 2025h0M1287 2025h0M1579 2025h0M932 2032h0M956 2032h0M971 2032h15M1225 2032h0M1240 2032h0M1294 2032h0M1464 2032h0M1487 2032h0M932 2038h8M956 2038h0M971 2038h0M986 2038h0M1217 2038h0M1233 2038h0M1248 2038h8M1518 2038h0M956 2045h0M986 2045h0M1318 2045h0M1402 2045h0M1495 2045h0M963 2052h0M979 2052h8M1202 2052h8M1233 2052h0M1271 2052h0M1572 2052h0M948 2058h0M963 2058h0M1202 2058h0M1225 2058h0M1448 2058h8M940 2065h0M1194 2065h8M1217 2065h0M1333 2065h0M1456 2065h0M932 2072h0M948 2072h8M971 2072h0M1164 2072h0M1225 2072h8M1364 2072h0M1433 2072h0M1510 2072h0M932 2078h0M948 2078h0M1179 2078h0M1210 2078h0M1225 2078h0M1264 2078h0M1294 2078h0M1448 2078h8M940 2085h0M1156 2085h0M1202 2085h15M1294 2085h0M1310 2085h8M1341 2085h8M1441 2085h0M1510 2085h0M1548 2085h0M925 2092h0M940 2092h8M1148 2092h0M1164 2092h0M1302 2092h0M1487 2092h0M932 2098h0M1148 2098h8M1202 2098h0M1287 2098h0M1387 2098h0M940 2105h0M1133 2105h15M1187 2105h0M1364 2105h0M1418 2105h0M1464 2105h0M1495 2105h0M894 2112h0M925 2112h0M1133 2112h0M1148 2112h8M1171 2112h8M1233 2112h0M1287 2112h0M1371 2112h0M1433 2112h0M1510 2112h0M925 2119h8M1279 2119h0M1302 2119h0M1464 2119h8M917 2125h0M1117 2125h0M1156 2125h0M1171 2125h15M1210 2125h0M1433 2125h0M1110 2132h0M1133 2132h0M1156 2132h8M1194 2132h0M1333 2132h0M917 2139h0M1140 2139h8M1217 2139h0M1233 2139h0M1410 2139h0M925 2145h0M1086 2145h0M1102 2145h8M1125 2145h0M1148 2145h0M1187 2145h0M1202 2145h0M1371 2145h0M1394 2145h0M1071 2152h0M1210 2152h0M925 2159h0M1086 2159h8M1164 2159h0M1202 2159h0M925 2166h0M1056 2166h0M1079 2166h0M1102 2166h0M1148 2166h8M1025 2172h0M1056 2172h0M1171 2172h0M1302 2172h0M1094 2179h8M979 2186h8M1002 2186h8M932 2192h0M948 2192h0M963 2192h8M1002 2192h0M1040 2192h0M1079 2192h0M1025 2199h0M963 2206h0M1017 2206h0M940 2219h0M1048 2219h0" stroke="#08084f" stroke-width="10.0" stroke-linecap="round" fill="none"/><path d="M1564 1670h0M1379 1676h8M1410 1676h0M1441 1676h0M1541 1683h0M1495 1690h0M1533 1690h0M1556 1690h0M1387 1696h0M1502 1696h0M1556 1696h0M1587 1696h0M1410 1703h0M1525 1703h0M1510 1710h0M1379 1717h0M1472 1717h0M1495 1717h8M1402 1723h0M1487 1723h0M1341 1730h0M1356 1730h0M1394 1730h8M1418 1730h0M1587 1730h0M1433 1737h0M1448 1737h0M1587 1737h0M1371 1743h0M1402 1743h0M1418 1743h8M1448 1743h0M1341 1750h0M1402 1750h0M1341 1757h0M1379 1757h0M1410 1757h0M1579 1757h0M1310 1764h0M1379 1764h0M1318 1770h0M1364 1770h0M1556 1770h0M1579 1770h0M1310 1777h0M1364 1777h0M1533 1777h0M1556 1777h8M1325 1784h8M1356 1784h0M1564 1784h8M1294 1790h0M1318 1790h0M1333 1790h0M1533 1790h0M1548 1790h0M1302 1797h0M1348 1797h0M1548 1797h8M1302 1804h0M1479 1804h0M1495 1804h8M1556 1804h8M1587 1804h0M1264 1810h0M1325 1810h0M1502 1810h0M1572 1810h0M1240 1817h0M1256 1817h0M1302 1817h8M1472 1817h0M1487 1817h0M1533 1817h0M1248 1824h15M1302 1824h0M1441 1824h15M1479 1824h0M1264 1830h0M1456 1830h0M1479 1830h0M1533 1830h0M1256 1837h0M1279 1837h0M1479 1837h0M1510 1837h0M1548 1837h0M1587 1837h0M1225 1844h0M1271 1844h0M1418 1844h8M1441 1844h8M1548 1844h0M1240 1851h0M1264 1851h0M1410 1851h0M1425 1851h0M1495 1851h0M1533 1851h0M1217 1857h0M1240 1857h0M1387 1857h15M1433 1857h0M1510 1857h0M1179 1871h0M1194 1871h0M1210 1871h15M1410 1871h8M1433 1871h0M1217 1877h0M1364 1877h8M1387 1877h0M1433 1877h0M1179 1884h0M1202 1884h0M1202 1891h8M1364 1891h0M1410 1891h0M1187 1898h0M1348 1898h0M1364 1898h0M1418 1898h0M1125 1904h0M1140 1904h0M1333 1904h0M1348 1904h0M1364 1904h15M1156 1911h0M1171 1911h8M1333 1911h0M1348 1911h8M1371 1911h0M1402 1911h0M1140 1918h0M1179 1918h8M1310 1918h0M1341 1918h0M1356 1918h0M1140 1924h0M1164 1924h0M1279 1924h0M1341 1924h0M1364 1924h0M1533 1924h0M1287 1931h8M1318 1938h8M1348 1938h0M1371 1938h0M1086 1944h0M1117 1944h0M1133 1944h0M1302 1944h8M1086 1951h0M1287 1951h0M1318 1951h8M1102 1958h0M1240 1958h0M1287 1958h15M1333 1958h0M1356 1958h0M1248 1964h0M1271 1964h0M1079 1971h8M1233 1971h0M1264 1971h0M1279 1971h0M1056 1978h0M1079 1978h0M1248 1978h0M1287 1978h0M1318 1978h0M1071 1985h8M1264 1985h0M1294 1985h8M1056 1991h0M1240 1991h0M1040 1998h0M1240 1998h0M1256 1998h8M1302 1998h8M1025 2005h15M1240 2005h0M1256 2005h8M1025 2011h0M1010 2018h0M1302 2032h0M1402 2032h0M1217 2045h0M1194 2052h0M986 2058h0M1179 2058h8M1217 2058h0M956 2065h0M1187 2065h0M963 2072h0M1179 2072h0M1217 2072h0M1487 2072h0M956 2078h0M1164 2078h0M1148 2085h0M1164 2085h15M1518 2085h0M1140 2092h0M1179 2092h0M948 2098h0M1133 2098h0M925 2105h8M1125 2105h0M932 2112h0M1194 2112h0M1125 2119h0M1140 2119h0M1179 2119h0M925 2125h0M1102 2125h0M1125 2125h0M1140 2125h0M1164 2125h0M1102 2132h0M932 2139h0M1086 2139h8M1110 2139h0M1079 2145h0M1094 2145h0M1079 2159h0M1040 2172h0M932 2179h0M1025 2179h0M1040 2179h0M940 2186h8M1033 2186h0M979 2192h0M1048 2199h0" stroke="#060680" stroke-width="10.0" stroke-linecap="round" fill="none"/><path d="M1579 1670h0M1564 1683h0M1587 1690h0M1572 1696h0M1533 1703h8M1579 1703h0M1402 1717h0M1456 1723h0M1495 1723h0M1510 1723h0M1425 1730h0M1464 1730h0M1479 1730h0M1410 1737h0M1464 1737h8M1379 1743h8M1579 1743h0M1394 1750h0M1418 1750h15M1533 1750h0M1418 1757h8M1448 1757h0M1572 1757h0M1387 1764h8M1410 1764h8M1433 1764h0M1541 1764h0M1564 1764h0M1333 1770h0M1371 1770h0M1495 1770h0M1548 1770h0M1371 1777h0M1464 1777h0M1541 1777h0M1464 1784h0M1518 1784h8M1364 1790h0M1510 1790h8M1587 1790h0M1318 1797h0M1510 1797h15M1318 1804h8M1348 1804h0M1487 1804h0M1287 1810h0M1487 1810h0M1294 1817h0M1348 1817h0M1456 1817h0M1479 1817h0M1371 1824h0M1425 1824h0M1495 1824h0M1302 1830h0M1425 1830h0M1556 1830h0M1264 1837h8M1341 1837h0M1402 1837h0M1418 1837h0M1448 1837h0M1279 1844h8M1410 1844h0M1433 1844h0M1456 1844h0M1472 1844h0M1394 1851h0M1502 1851h0M1233 1857h0M1248 1857h0M1348 1857h0M1364 1857h0M1425 1857h0M1248 1864h8M1364 1864h8M1240 1871h8M1318 1871h0M1356 1871h31M1202 1877h0M1225 1877h0M1240 1877h0M1279 1877h0M1341 1877h0M1356 1877h0M1225 1884h0M1356 1884h0M1371 1884h0M1394 1884h0M1318 1891h8M1341 1891h0M1233 1898h0M1310 1898h31M1394 1898h0M1179 1904h0M1194 1904h15M1302 1904h15M1394 1904h0M1217 1911h0M1310 1911h8M1394 1911h0M1164 1918h0M1279 1918h23M1318 1918h0M1171 1924h0M1202 1924h0M1294 1924h0M1318 1924h0M1171 1931h0M1302 1931h15M1156 1938h0M1264 1938h15M1294 1938h15M1125 1944h0M1148 1944h0M1256 1944h8M1287 1944h8M1318 1944h0M1133 1951h0M1264 1951h0M1125 1958h0M1233 1958h0M1248 1958h0M1279 1958h0M1117 1964h0M1233 1964h8M1279 1964h0M1356 1964h0M1102 1971h0M1140 1971h0M1240 1971h8M1271 1971h0M1294 1971h0M1310 1971h0M1094 1978h0M1233 1978h8M1325 1978h0M1063 1985h0M1233 1985h8M1318 1985h0M1094 1991h0M1233 1991h0M1271 1991h0M1056 1998h0M1102 1998h0M1271 1998h0M1048 2005h0M1233 2005h0M1025 2018h0M1187 2025h0M1225 2025h0M994 2032h0M994 2038h0M994 2045h0M994 2052h0M994 2058h0M1194 2058h0M986 2065h0M1171 2065h0M971 2078h0M1148 2078h8M1171 2078h0M956 2092h0M1210 2092h0M948 2105h0M1140 2112h0M932 2125h0M1094 2132h0M1102 2139h0M932 2145h0M1071 2145h0M932 2152h0M1063 2152h0M932 2159h0M1033 2166h0M1048 2166h0M1063 2166h0M925 2172h0M1033 2172h0M1010 2179h0M932 2186h0" stroke="#0303b0" stroke-width="10.0" stroke-linecap="round" fill="none"/><path d="M1579 1690h0M1564 1703h0M1525 1710h8M1556 1710h0M1572 1710h0M1510 1717h0M1579 1717h0M1533 1723h0M1579 1723h8M1472 1730h0M1533 1730h15M1579 1730h0M1487 1737h0M1518 1737h0M1556 1737h0M1572 1737h0M1456 1743h15M1495 1743h0M1479 1750h0M1495 1750h0M1548 1750h0M1564 1750h0M1579 1750h0M1441 1757h0M1472 1757h0M1495 1757h0M1510 1757h0M1541 1757h0M1556 1757h0M1441 1764h0M1487 1764h8M1510 1764h0M1533 1764h0M1579 1764h0M1356 1770h0M1418 1770h0M1433 1770h0M1472 1770h0M1518 1770h0M1541 1770h0M1456 1777h0M1487 1777h0M1510 1777h0M1479 1784h0M1495 1790h8M1525 1790h0M1356 1797h0M1425 1797h0M1502 1797h0M1541 1797h0M1356 1804h8M1425 1804h0M1448 1804h23M1510 1804h0M1525 1804h8M1333 1810h15M1379 1810h0M1448 1810h15M1479 1810h0M1271 1817h0M1318 1817h0M1356 1817h0M1371 1817h0M1387 1817h0M1425 1817h0M1441 1817h0M1294 1824h0M1333 1824h15M1433 1824h0M1287 1830h0M1318 1830h0M1356 1830h0M1371 1830h0M1418 1830h0M1294 1837h0M1310 1837h8M1425 1837h0M1302 1844h0M1325 1844h0M1356 1844h0M1394 1844h8M1279 1851h8M1325 1851h15M1356 1851h0M1379 1851h8M1371 1857h0M1302 1864h0M1379 1864h0M1394 1864h0M1264 1871h0M1310 1871h0M1333 1871h15M1294 1877h15M1325 1877h8M1348 1877h0M1264 1884h0M1279 1884h0M1302 1884h0M1333 1884h8M1233 1891h0M1248 1891h8M1310 1891h0M1387 1891h0M1217 1898h0M1271 1898h15M1217 1904h15M1248 1904h0M1294 1904h0M1194 1911h0M1294 1911h0M1325 1911h0M1217 1918h8M1248 1918h0M1264 1918h0M1179 1924h8M1210 1924h0M1264 1924h8M1302 1924h0M1325 1924h0M1148 1931h0M1179 1931h15M1248 1931h0M1264 1931h0M1279 1931h0M1348 1931h0M1133 1938h0M1164 1938h0M1179 1938h0M1217 1938h0M1248 1938h8M1156 1944h0M1171 1944h0M1202 1944h0M1217 1944h0M1240 1944h8M1325 1944h0M1148 1951h0M1164 1951h8M1194 1951h0M1225 1951h0M1240 1951h0M1271 1951h8M1294 1951h0M1133 1958h8M1171 1958h8M1202 1958h0M1225 1958h0M1256 1958h8M1156 1964h8M1225 1964h0M1256 1964h0M1110 1971h8M1086 1978h0M1102 1978h8M1140 1978h0M1156 1978h0M1210 1978h0M1094 1985h8M1194 1985h8M1325 1985h0M1102 1991h0M1117 1991h0M1179 1991h0M1063 1998h0M1079 1998h0M1125 1998h0M1156 1998h8M1210 1998h0M1225 1998h0M1063 2005h0M1217 2005h8M1033 2011h8M1056 2011h0M1071 2011h0M1094 2011h8M1140 2011h0M1164 2011h0M1187 2011h0M1217 2011h0M1002 2018h0M1017 2018h0M1033 2018h0M1010 2025h0M1071 2025h0M1156 2025h0M1002 2032h0M1025 2032h0M1040 2032h0M1063 2032h0M1210 2032h8M1010 2038h0M1148 2038h0M1202 2038h0M1225 2038h0M1002 2045h0M1025 2045h0M1140 2045h0M1156 2045h0M1187 2045h23M1010 2052h0M1171 2052h8M1010 2058h0M1148 2065h0M1179 2065h0M979 2072h8M1110 2078h0M963 2085h0M1187 2085h0M1110 2105h8M940 2112h0M1110 2112h0M1086 2119h0M1110 2119h0M1110 2125h0M1071 2132h8M1063 2145h0M1056 2152h0M1048 2159h0M1063 2159h8M932 2166h0M932 2172h0M1017 2172h0M994 2179h0M963 2186h0" stroke="#0101e1" stroke-width="10.0" stroke-linecap="round" fill="none"/><path d="M1579 1696h0M1548 1703h0M1572 1703h0M1541 1710h0M1564 1710h0M1579 1710h0M1525 1717h0M1541 1717h15M1572 1717h0M1502 1723h0M1556 1723h8M1502 1730h0M1518 1730h0M1402 1737h0M1479 1737h0M1495 1737h8M1533 1737h0M1548 1737h0M1564 1737h0M1579 1737h0M1479 1743h8M1502 1743h0M1525 1743h23M1572 1743h0M1448 1750h8M1472 1750h0M1487 1750h0M1518 1750h0M1556 1750h0M1433 1757h0M1479 1757h0M1518 1757h0M1533 1757h0M1564 1757h0M1448 1764h15M1479 1764h0M1502 1764h0M1556 1764h0M1425 1770h0M1448 1770h0M1464 1770h0M1487 1770h0M1533 1770h0M1425 1777h15M1472 1777h0M1433 1784h23M1495 1784h0M1441 1790h0M1456 1790h8M1487 1790h0M1364 1797h0M1479 1797h0M1379 1804h0M1433 1804h8M1371 1810h0M1410 1810h0M1425 1810h8M1472 1810h0M1325 1817h8M1364 1817h0M1379 1817h0M1394 1817h0M1410 1817h8M1433 1817h0M1310 1824h8M1379 1824h8M1402 1824h0M1325 1830h0M1341 1830h0M1364 1830h0M1387 1830h0M1410 1830h0M1302 1837h0M1371 1837h0M1441 1837h0M1318 1844h0M1348 1844h0M1364 1844h0M1387 1844h0M1302 1851h0M1318 1851h0M1371 1851h0M1271 1857h0M1310 1857h8M1341 1857h0M1240 1864h0M1264 1864h0M1287 1864h8M1310 1864h0M1333 1864h0M1348 1864h8M1287 1871h15M1325 1871h0M1264 1877h0M1318 1877h0M1240 1884h0M1271 1884h0M1318 1884h8M1348 1884h0M1287 1891h0M1302 1891h0M1240 1898h0M1264 1898h0M1302 1898h0M1256 1904h15M1202 1911h0M1225 1911h8M1248 1911h0M1271 1911h8M1194 1918h15M1233 1918h0M1271 1918h0M1194 1924h0M1217 1924h0M1240 1924h0M1256 1924h0M1333 1924h0M1156 1931h0M1225 1931h8M1256 1931h0M1171 1938h0M1187 1938h8M1210 1938h0M1225 1938h0M1240 1938h0M1187 1944h0M1225 1944h8M1279 1944h0M1140 1951h0M1156 1951h0M1179 1951h8M1202 1951h8M1233 1951h0M1156 1958h0M1194 1958h0M1210 1958h0M1125 1964h15M1194 1964h0M1210 1964h0M1287 1964h8M1125 1971h8M1148 1971h0M1164 1971h0M1179 1971h0M1194 1971h8M1256 1971h0M1117 1978h15M1164 1978h0M1187 1978h0M1225 1978h0M1264 1978h0M1117 1985h8M1148 1985h15M1086 1991h0M1171 1991h0M1187 1991h8M1217 1991h8M1071 1998h0M1086 1998h0M1148 1998h0M1171 1998h0M1202 1998h0M1056 2005h0M1071 2005h8M1125 2005h0M1140 2005h0M1171 2005h0M1194 2005h0M1063 2011h0M1110 2011h8M1133 2011h0M1148 2011h8M1179 2011h0M1210 2011h0M1225 2011h0M1048 2018h15M1156 2018h0M1187 2018h8M1217 2018h0M1017 2025h15M1063 2025h0M1079 2025h0M1140 2025h0M1164 2025h0M1194 2025h0M1210 2025h8M1233 2025h0M1017 2032h0M1140 2032h0M1164 2032h0M1179 2032h0M1202 2032h0M1002 2038h0M1025 2038h0M1156 2038h8M1179 2038h8M1210 2038h0M1010 2045h0M1148 2045h0M1164 2045h0M1002 2052h0M1140 2052h15M1002 2058h0M1125 2058h0M1140 2058h0M1164 2058h8M979 2065h0M994 2065h0M1125 2065h0M1156 2065h0M1117 2072h0M1133 2072h23M979 2078h0M1133 2078h8M956 2085h0M971 2085h0M1125 2085h0M1140 2085h0M963 2092h0M1133 2092h0M1110 2098h15M1094 2112h0M1094 2119h8M1079 2125h0M1094 2125h0M932 2132h0M1040 2159h0M1025 2166h0M1040 2166h0M1010 2172h0M956 2186h0" stroke="#000dff" stroke-width="10.0" stroke-linecap="round" fill="none"/><path d="M1556 1703h0M1548 1710h0M1518 1717h0M1533 1717h0M1548 1723h0M1510 1730h0M1556 1730h0M1510 1737h0M1510 1743h0M1556 1743h0M1464 1750h0M1464 1757h0M1487 1757h0M1402 1764h0M1472 1764h0M1525 1764h0M1379 1770h0M1510 1770h0M1525 1770h0M1448 1777h0M1502 1777h0M1525 1777h0M1371 1784h0M1487 1784h0M1502 1784h8M1371 1797h0M1433 1797h0M1464 1797h0M1525 1810h0M1341 1817h0M1402 1817h0M1325 1824h0M1394 1824h0M1410 1824h8M1310 1830h0M1348 1830h0M1379 1830h0M1402 1830h0M1325 1837h8M1294 1844h0M1371 1844h8M1294 1851h0M1310 1851h0M1348 1851h0M1279 1857h15M1356 1857h0M1279 1864h0M1318 1864h8M1341 1864h0M1271 1871h0M1294 1884h0M1240 1891h0M1271 1891h8M1256 1898h0M1240 1904h0M1279 1904h8M1210 1911h0M1256 1911h0M1240 1918h0M1217 1931h0M1240 1931h0M1202 1938h0M1233 1938h0M1164 1944h0M1179 1944h0M1210 1944h0M1187 1958h0M1217 1958h0M1110 1964h0M1171 1964h0M1187 1964h0M1156 1971h0M1187 1971h0M1179 1978h0M1217 1978h0M1133 1985h0M1171 1985h15M1079 1991h0M1125 1991h8M1148 1991h15M1202 1991h0M1110 1998h8M1133 1998h8M1187 1998h8M1094 2005h8M1133 2005h0M1164 2005h0M1179 2005h8M1202 2005h8M1079 2011h0M1125 2011h0M1171 2011h0M1040 2018h0M1071 2018h38M1125 2018h23M1171 2018h0M1225 2018h0M1040 2025h0M1202 2025h0M1010 2032h0M1148 2032h0M1171 2032h0M1187 2032h8M1033 2038h8M1140 2038h0M1017 2045h0M1171 2045h8M1017 2052h0M1148 2058h0M1002 2065h0M1117 2065h0M1140 2065h0M1125 2072h0M1117 2078h0M1102 2085h15M1133 2085h0M1102 2092h0M1125 2092h0M956 2098h0M1094 2105h8M1125 2112h0M1063 2139h0M1048 2152h0M940 2179h0M986 2179h0" stroke="#0030ff" stroke-width="10.0" stroke-linecap="round" fill="none"/><path d="M1564 1717h0M1572 1730h0M1564 1743h0M1502 1757h0M1518 1764h0M1441 1770h0M1371 1790h0M1479 1790h0M1364 1810h0M1394 1810h0M1394 1830h0M1364 1837h0M1325 1857h0M1225 1898h0M1240 1911h0M1225 1924h0M1248 1924h0M1217 1964h0M1217 1971h0M1171 1978h0M1210 1985h8M1094 1998h0M1148 2005h0M1202 2011h0M1210 2018h0M1086 2025h0M1171 2025h0M1071 2032h0M1156 2032h0M1056 2038h0M1194 2038h0M1033 2045h8M1133 2052h0M994 2072h0M986 2078h0M1125 2078h0M971 2092h0M1110 2092h0M1071 2112h0M940 2119h0M1086 2125h0M1071 2139h0M979 2179h0" stroke="#0054ff" stroke-width="10.0" stroke-linecap="round" fill="none"/><path d="M1495 1730h0M1541 1737h0M1425 1784h0M1333 1830h0M1248 1884h0M1140 1991h0M1233 1998h0M1117 2018h0M1133 2025h0M1148 2025h0M1048 2038h0M1086 2045h0M1164 2052h0M1017 2065h0M1094 2072h0M1056 2125h0M1033 2159h0" stroke="#0077ff" stroke-width="10.0" stroke-linecap="round" fill="none"/><path d="M1410 1770h0M1425 1790h0M1418 1804h0M1094 2025h0M1110 2025h0M1094 2032h8M1094 2038h0M1125 2045h0M1125 2052h0M1017 2058h0M1033 2058h0M1094 2058h0M1025 2065h0M1002 2072h8M1086 2072h0M986 2092h0M1094 2098h0M1086 2112h0M1071 2125h0M1048 2139h0M940 2152h0M940 2166h0" stroke="#009aff" stroke-width="10.0" stroke-linecap="round" fill="none"/><path d="M1387 1770h0M1102 2025h0M1125 2025h0M1117 2032h0M1079 2038h0M1133 2038h0M1086 2052h8M1102 2058h0M1010 2065h0M986 2085h0M1086 2085h0M1079 2092h0M963 2098h0M963 2105h0M1071 2105h0M1079 2119h0M948 2125h0M940 2132h8M940 2139h0M1056 2139h0M1040 2152h0M963 2179h0" stroke="#00bdff" stroke-width="10.0" stroke-linecap="round" fill="none"/><path d="M1402 1777h0M1418 1784h0M1117 2025h0M1110 2032h0M1133 2032h0M1071 2038h0M1086 2038h0M1102 2038h0M1071 2045h0M1102 2045h0M1033 2052h8M1117 2052h0M1110 2058h8M1110 2065h0M1017 2072h0M1079 2078h0M1094 2078h0M979 2085h0M1094 2085h0M1079 2105h0M948 2112h0M963 2112h0M1071 2119h0M1056 2132h8M948 2139h0M1040 2145h0M1033 2152h0M1010 2166h0M994 2172h0" stroke="#00e0ff" stroke-width="10.0" stroke-linecap="round" fill="none"/><path d="M1394 1777h0M1410 1777h0M1387 1790h0M1079 2032h0M1110 2038h0M1048 2045h8M1110 2045h0M1063 2052h0M1086 2065h0M1102 2065h0M1110 2072h0M994 2085h0M979 2098h0M1079 2098h8M971 2105h0M1086 2105h0M1063 2119h0M956 2125h0M1025 2152h0M940 2159h0" stroke="#04fffb" stroke-width="10.0" stroke-linecap="round" fill="none"/><path d="M1410 1804h0M1086 2032h0M1063 2038h0M1025 2058h0M1102 2072h0M979 2092h0M956 2119h0M1048 2145h0M1017 2159h0" stroke="#28ffd7" stroke-width="10.0" stroke-linecap="round" fill="none"/><path d="M1394 1770h0M1379 1777h0M1379 1797h8M1125 2032h0M1117 2038h0M1063 2045h0M1094 2045h0M1117 2045h0M1048 2052h0M1040 2058h0M1002 2078h0M1086 2078h0M1079 2085h0M1079 2112h0M1025 2159h0M1002 2166h0" stroke="#4bffb4" stroke-width="10.0" stroke-linecap="round" fill="none"/><path d="M1387 1777h0M1387 1784h0M1418 1797h0M1402 1804h0M1079 2045h0M1056 2052h0M1086 2058h0M994 2078h0M1102 2078h0M1086 2092h0M971 2098h0M956 2179h0" stroke="#6eff91" stroke-width="10.0" stroke-linecap="round" fill="none"/><path d="M1379 1784h0M1394 1784h0M1125 2038h0M1002 2085h0M1071 2098h0M1040 2132h8M940 2172h0M986 2172h0" stroke="#91ff6e" stroke-width="10.0" stroke-linecap="round" fill="none"/><path d="M1402 1770h0M1410 1790h0M1010 2078h0M956 2112h0M948 2119h0M963 2119h0M1063 2125h0M1010 2159h0" stroke="#b4ff4b" stroke-width="10.0" stroke-linecap="round" fill="none"/><path d="M1418 1790h0M1387 1804h0M1033 2065h0M1094 2065h0M1056 2105h0M1063 2112h0M948 2172h0" stroke="#d7ff28" stroke-width="10.0" stroke-linecap="round" fill="none"/><path d="M1410 1784h0M1410 1797h0M1071 2052h0M1110 2052h0M1071 2092h0M1025 2139h0M971 2172h0" stroke="#fbff04" stroke-width="10.0" stroke-linecap="round" fill="none"/><path d="M1056 2058h0M1033 2132h0" stroke="#ffe000" stroke-width="10.0" stroke-linecap="round" fill="none"/><path d="M986 2098h8M1033 2139h0M948 2179h0" stroke="#ffbd00" stroke-width="10.0" stroke-linecap="round" fill="none"/><path d="M986 2105h0M1025 2145h8" stroke="#ff9a00" stroke-width="10.0" stroke-linecap="round" fill="none"/><path d="M1379 1790h0M971 2112h0M971 2119h0M1056 2119h0M1048 2125h0M1040 2139h0" stroke="#ff7700" stroke-width="10.0" stroke-linecap="round" fill="none"/><path d="M1079 2052h0M1048 2058h0M1079 2072h0M1010 2085h0M979 2105h0" stroke="#ff5400" stroke-width="10.0" stroke-linecap="round" fill="none"/><path d="M1079 2058h0M1071 2078h0M994 2092h0M1017 2152h0" stroke="#ff3000" stroke-width="10.0" stroke-linecap="round" fill="none"/><path d="M1402 1784h0M1071 2058h0M1017 2145h0" stroke="#ff0d00" stroke-width="10.0" stroke-linecap="round" fill="none"/><path d="M1063 2058h0M1071 2085h0M979 2172h0" stroke="#e90000" stroke-width="10.0" stroke-linecap="round" fill="none"/><path d="M1079 2065h0M1017 2078h0M979 2119h0M1048 2119h0M994 2166h0" stroke="#c60000" stroke-width="10.0" stroke-linecap="round" fill="none"/><path d="M1040 2065h0M1063 2092h0M971 2125h0M948 2145h0M948 2159h0" stroke="#a30000" stroke-width="10.0" stroke-linecap="round" fill="none"/><path d="M1394 1790h8M1394 1797h8M1394 1804h0M1048 2065h23M1025 2072h46M1025 2078h38M1017 2085h46M1002 2092h54M1002 2098h62M994 2105h54M1063 2105h0M979 2112h77M986 2119h54M963 2125h0M979 2125h62M956 2132h69M956 2139h62M956 2145h54M948 2152h62M956 2159h46M948 2166h38M956 2172h8" stroke="#800000" stroke-width="10.0" stroke-linecap="round" fill="none"/>
</g>
<line x1="894.0" y1="2232.5" x2="1586.5" y2="1630.5" stroke="#c8283a" stroke-opacity="0.8" stroke-width="4.2" clip-path="url(#c21)"/>
<path d="M970.9 2232.5v-9M970.9 1630.5v9M1124.8 2232.5v-9M1124.8 1630.5v9M1278.7 2232.5v-9M1278.7 1630.5v9M1432.6 2232.5v-9M1432.6 1630.5v9M894.0 2165.6h9M1586.5 2165.6h-9M894.0 2031.8h9M1586.5 2031.8h-9M894.0 1898.1h9M1586.5 1898.1h-9M894.0 1764.3h9M1586.5 1764.3h-9" stroke="#cfcfcf" stroke-width="2" fill="none"/>
<path d="M894.0 1630.5H1586.5" stroke="#dcdcdc" stroke-width="3"/>
<path d="M1586.5 1630.5V2232.5" stroke="#d8d8d8" stroke-width="3"/>
<path d="M894.0 1629.0V2232.5" stroke="#a0a0a0" stroke-width="3"/>
<path d="M892.5 2232.5H1587.5" stroke="#808080" stroke-width="3"/>
<text x="970.9" y="2282.5" font-size="37" fill="#333" text-anchor="middle">0</text>
<text x="1124.8" y="2282.5" font-size="37" fill="#333" text-anchor="middle">10</text>
<text x="1278.7" y="2282.5" font-size="37" fill="#333" text-anchor="middle">20</text>
<text x="1432.6" y="2282.5" font-size="37" fill="#333" text-anchor="middle">30</text>
<text x="1586.5" y="2282.5" font-size="37" fill="#333" text-anchor="middle">40</text>
<text x="934.0" y="1701.5" font-size="58" fill="#000">(j)</text>
<g clip-path="url(#c22)">
<path d="M2151 1630h0M2190 1630h0M2213 1630h0M2320 1630h0M2174 1636h0M2313 1636h0M2328 1636h0M2351 1636h0M2205 1643h8M2313 1643h0M2336 1643h0M2082 1650h0M2128 1650h0M2166 1650h0M2182 1650h0M2359 1650h0M2066 1656h0M2143 1656h0M2159 1656h8M2197 1656h8M2320 1656h0M2351 1656h0M2097 1663h0M2159 1663h0M2190 1663h0M2328 1663h0M2344 1663h8M2143 1670h0M2159 1670h0M2182 1670h8M2359 1670h0M2074 1676h0M2128 1676h0M2190 1676h0M2328 1676h23M2097 1683h0M2151 1683h0M2182 1683h0M2328 1683h0M2151 1690h0M2313 1690h15M2051 1696h0M2143 1696h0M2190 1696h0M2090 1703h0M2143 1703h8M2066 1717h0M2105 1717h0M2036 1723h0M2059 1723h0M2097 1723h15M2128 1723h0M2012 1730h0M2136 1730h0M2151 1730h0M2005 1737h0M2043 1737h0M2074 1737h23M2143 1737h0M1997 1743h0M2059 1743h0M2090 1743h0M2043 1750h8M2066 1750h8M2097 1750h8M2120 1750h0M2359 1750h0M2043 1757h0M2066 1757h0M2090 1757h0M2113 1757h0M2059 1764h0M2097 1764h8M2036 1770h8M2059 1770h8M2113 1770h0M2074 1777h0M1989 1784h0M2028 1784h0M2059 1784h8M2082 1784h0M2012 1790h0M2043 1790h0M2066 1790h0M2351 1790h0M2020 1797h0M2051 1797h0M2066 1797h0M2336 1797h23M2012 1804h15M2320 1804h8M1982 1810h0M1997 1810h0M2020 1810h8M2043 1810h0M2059 1810h0M2313 1810h0M2336 1810h0M2359 1810h0M1989 1817h0M2005 1817h0M2020 1817h0M2297 1817h0M2313 1817h0M2328 1817h15M1982 1824h8M2012 1824h23M2282 1824h0M2305 1824h8M2351 1824h8M1982 1830h0M2005 1830h0M2020 1830h8M2274 1830h8M2305 1830h0M2320 1830h8M1982 1837h8M2005 1837h15M2036 1837h0M2259 1837h0M2305 1837h0M2320 1837h0M2336 1837h0M2351 1837h0M1997 1844h8M2020 1844h0M2336 1844h0M2351 1844h0M1989 1851h0M2313 1851h8M2359 1851h0M1936 1857h0M1951 1857h8M1989 1857h0M2244 1857h0M2259 1857h0M2274 1857h8M2297 1857h0M2313 1857h8M1951 1864h0M1966 1864h0M1997 1864h0M2251 1864h8M2290 1864h0M2320 1864h0M1920 1871h8M1943 1871h8M2228 1871h0M2251 1871h23M2297 1871h0M1974 1877h0M1989 1877h0M2197 1877h0M2236 1877h8M2259 1877h0M2297 1877h0M1920 1884h0M1943 1884h0M1959 1884h0M1974 1884h0M2190 1884h15M2251 1884h8M2282 1884h0M1843 1891h0M1866 1891h0M1920 1891h0M1966 1891h0M2205 1891h0M2236 1891h23M2282 1891h0M2320 1891h0M1882 1898h8M1912 1898h8M1936 1898h8M2182 1898h8M2205 1898h0M2220 1898h0M2236 1898h0M2267 1898h8M1905 1904h8M2182 1904h23M2251 1904h0M2297 1904h0M2328 1904h0M1843 1911h0M1920 1911h8M2182 1911h8M2236 1911h0M2336 1911h0M1835 1918h15M1889 1918h8M1912 1918h8M1936 1918h0M2166 1918h0M2213 1918h0M2228 1918h8M2305 1918h0M2320 1918h0M2344 1918h0M1889 1924h0M2190 1924h8M2228 1924h0M2336 1924h0M1882 1931h31M2159 1931h31M2205 1931h8M2290 1931h0M2336 1931h8M1812 1938h0M1866 1938h0M1905 1938h0M2166 1938h0M2182 1938h0M2197 1938h0M2267 1938h0M2336 1938h0M1882 1944h0M2143 1944h0M2197 1944h8M1774 1951h0M1789 1951h0M1812 1951h0M1828 1951h0M1866 1951h0M2166 1951h0M2344 1951h0M1843 1958h8M1874 1958h0M2128 1958h8M2190 1958h8M2244 1958h0M2282 1958h0M2344 1958h0M1789 1964h0M1828 1964h8M1851 1964h8M2166 1964h0M2182 1964h0M2297 1964h0M1766 1971h0M1805 1971h0M1866 1971h0M2128 1971h0M2166 1971h0M2182 1971h0M2197 1971h0M2236 1971h8M1797 1978h0M1828 1978h8M2120 1978h0M2143 1978h8M2166 1978h8M2259 1978h0M2320 1978h0M1766 1985h0M1805 1985h0M1820 1985h8M1843 1985h0M2128 1985h0M2143 1985h15M2197 1985h0M2344 1985h0M1805 1991h0M1820 1991h8M2120 1991h0M2166 1991h0M1820 1998h0M2105 1998h0M2120 1998h0M2159 1998h0M2282 1998h0M2320 1998h0M2105 2005h0M2128 2005h0M2197 2005h0M2313 2005h0M1774 2011h23M2082 2011h15M2120 2011h15M1782 2018h8M2090 2018h8M2120 2018h8M2267 2018h0M2297 2018h0M1743 2025h8M1766 2025h0M2097 2025h0M2120 2025h0M2166 2025h0M2282 2025h0M2305 2025h0M1743 2032h0M2059 2032h0M2105 2032h0M2120 2032h0M2197 2032h0M2259 2032h0M1743 2038h0M2012 2038h8M2043 2038h0M2059 2038h8M2082 2038h0M2105 2038h8M2174 2038h8M2282 2038h0M1728 2045h8M1751 2045h0M2028 2045h0M2059 2045h0M2105 2045h0M2128 2045h0M2282 2045h8M1704 2052h0M1728 2052h0M1751 2052h0M2005 2052h0M2036 2052h0M2074 2052h0M2120 2052h0M2213 2052h0M2259 2052h0M2012 2058h0M2036 2058h0M2066 2058h0M2082 2058h0M2159 2058h0M2236 2058h0M2282 2058h0M2020 2065h0M2036 2065h0M2051 2065h8M2128 2065h0M2290 2065h0M1728 2072h8M1751 2072h8M1997 2072h0M2220 2072h0M2244 2072h0M1704 2078h8M1728 2078h0M1758 2078h0M1982 2078h0M2174 2078h0M1697 2085h8M1728 2085h0M1989 2085h0M2020 2085h0M2074 2085h0M2213 2085h0M2259 2085h0M1728 2092h15M1943 2092h31M2020 2092h8M2082 2092h0M2105 2092h0M2166 2092h8M2213 2092h0M1697 2098h0M1712 2098h0M1735 2098h0M1920 2098h8M1974 2098h0M2059 2098h0M2113 2098h0M2220 2098h0M1712 2105h0M1920 2105h8M1943 2105h0M1982 2105h0M1920 2112h15M2028 2112h0M2074 2112h0M2136 2112h0M2213 2112h0M2228 2112h8M1905 2119h8M1936 2119h8M1697 2125h0M1905 2125h0M1920 2125h0M1959 2125h0M2143 2125h0M2205 2125h0M2220 2125h0M1882 2132h0M1897 2132h0M1912 2132h0M1959 2132h0M2074 2132h8M2213 2132h0M2236 2132h0M1874 2139h8M1905 2139h0M1966 2139h0M1982 2139h0M2043 2139h0M2097 2139h0M2128 2139h0M2166 2139h0M1866 2145h0M1889 2145h0M1912 2145h0M2028 2145h0M2082 2145h0M2213 2145h0M1851 2152h8M1874 2152h8M1912 2152h0M1989 2152h0M2005 2152h0M1843 2159h0M1866 2159h0M1882 2159h0M1905 2159h0M2113 2159h0M2166 2159h0M1843 2166h8M1874 2166h0M1974 2166h8M2043 2166h0M1681 2172h0M1820 2172h0M1943 2172h0M2159 2172h0M1689 2179h0M1820 2179h0M2012 2179h0M2182 2179h0M1782 2186h0M1805 2186h0M1820 2186h0M1974 2186h0M1989 2186h0M2090 2186h0M1689 2192h0M1751 2192h0M1766 2192h8M1889 2192h0M1766 2199h0M1812 2199h0M1766 2206h0M1689 2212h0M1735 2212h0M1797 2212h0M1728 2219h0M1697 2226h8M1789 2226h0" stroke="#08084f" stroke-width="10.0" stroke-linecap="round" fill="none"/><path d="M2220 1630h0M2305 1630h8M2328 1630h0M2351 1630h0M2182 1636h0M2274 1636h0M2197 1643h0M2236 1643h8M2267 1643h0M2290 1643h0M2320 1643h0M2174 1650h0M2190 1650h0M2205 1650h8M2244 1650h0M2259 1650h0M2313 1650h8M2344 1650h0M2190 1656h0M2274 1656h0M2290 1656h0M2305 1656h8M2344 1656h0M2182 1663h0M2305 1663h0M2320 1663h0M2359 1663h0M2205 1670h0M2313 1670h15M2159 1676h0M2174 1676h0M2313 1676h0M2190 1683h0M2259 1683h0M2320 1683h0M2143 1690h0M2305 1690h0M2336 1690h0M2359 1690h0M2182 1696h0M2290 1696h0M2359 1696h0M2136 1703h0M2190 1703h0M2259 1703h0M2359 1703h0M2128 1710h8M2151 1710h0M2190 1710h0M2259 1710h0M2113 1717h0M2190 1717h0M2220 1717h0M2136 1723h0M2151 1723h0M2182 1723h0M2090 1730h0M2120 1730h0M2151 1737h0M2359 1737h0M2066 1743h0M2097 1743h8M2120 1743h8M2136 1750h0M2151 1750h0M2059 1757h0M2082 1757h0M2097 1757h8M2120 1757h8M2090 1764h0M2120 1764h0M2074 1770h0M2097 1770h8M2120 1770h0M2036 1777h15M2090 1777h0M2113 1777h0M2090 1784h0M2359 1784h0M1936 1790h0M2059 1790h0M2074 1790h0M2344 1790h0M2090 1797h0M2066 1804h0M2313 1804h0M2336 1804h0M2051 1810h0M2090 1810h8M2297 1810h8M2028 1817h0M2043 1817h0M2059 1817h0M2305 1817h0M2320 1817h0M2005 1824h0M2051 1824h0M1997 1830h0M2012 1830h0M2267 1830h0M2028 1837h0M2043 1837h0M1989 1844h0M2012 1844h0M2051 1844h0M2251 1844h0M2267 1844h8M1997 1851h8M2251 1851h0M2267 1851h0M2297 1851h0M2005 1857h0M2205 1857h0M2228 1857h0M1989 1864h0M2282 1864h0M1959 1871h0M2197 1871h8M2282 1871h0M2190 1877h0M2205 1877h0M2251 1877h0M2282 1877h0M1936 1884h0M1966 1884h0M1982 1884h0M2213 1884h8M2236 1884h0M2267 1884h0M1882 1891h0M1951 1891h0M2213 1891h0M1905 1898h0M1928 1898h0M1951 1898h0M2136 1898h0M2213 1898h0M1936 1904h8M1889 1911h0M1905 1911h8M2166 1911h8M1928 1918h0M2159 1918h0M2182 1918h15M1928 1924h0M2151 1931h0M1912 1938h0M2082 1938h0M2097 1938h8M2120 1938h8M2174 1938h0M2328 1938h0M1866 1944h0M1889 1944h8M2166 1944h0M2220 1944h0M2267 1944h0M1874 1951h0M2082 1951h8M2151 1951h0M2190 1951h0M2297 1951h0M1858 1958h8M1882 1958h8M2136 1964h0M1828 1971h0M1843 1971h0M2136 1971h8M1851 1978h8M2128 1978h0M2274 1978h0M1835 1985h0M1851 1985h0M2090 1985h0M2113 1985h0M2136 1985h0M1782 1991h0M2066 1991h0M2105 1991h0M2043 1998h8M2097 1998h0M2128 1998h0M2143 1998h0M1782 2005h0M1797 2005h0M1820 2005h0M2028 2005h0M2059 2005h0M2090 2005h8M1805 2011h0M1997 2011h0M2105 2011h0M1758 2018h0M2012 2018h8M2066 2018h15M2105 2018h8M1782 2025h0M2059 2025h8M1751 2032h0M1774 2032h0M2043 2032h8M2074 2032h8M2097 2032h0M2113 2032h0M2028 2038h0M2051 2038h0M2074 2038h0M2120 2038h0M1989 2045h0M2005 2045h0M2020 2045h0M2043 2045h0M2074 2045h0M1982 2052h0M2043 2052h0M1735 2058h8M2051 2058h0M1712 2065h0M1974 2065h0M1989 2065h0M2082 2065h0M1712 2072h8M2012 2072h0M1720 2078h0M1735 2078h0M1951 2078h0M1974 2078h0M2012 2078h0M1936 2085h0M1720 2092h0M1936 2092h0M1989 2092h8M2012 2092h0M1720 2098h8M1959 2098h0M1989 2098h0M1912 2105h0M1936 2105h0M1951 2105h0M1997 2105h0M1704 2112h8M1905 2112h8M1959 2112h0M1897 2119h0M1966 2119h0M1943 2125h0M1905 2132h0M1936 2132h0M1974 2132h0M1889 2139h8M1920 2139h0M1689 2145h0M1858 2145h0M1689 2152h0M1889 2152h8M2166 2152h0M1851 2159h0M1866 2166h0M1689 2172h0M2090 2172h0M1789 2179h0M1843 2179h0M1758 2192h0M1689 2199h0M1797 2199h0M1689 2206h0M1728 2206h0M1720 2212h0M1697 2219h8" stroke="#060680" stroke-width="10.0" stroke-linecap="round" fill="none"/><path d="M2174 1630h0M2205 1630h0M2236 1630h0M2251 1630h0M2274 1630h15M2228 1636h0M2244 1636h15M2282 1636h15M2220 1643h8M2251 1643h8M2274 1643h8M2228 1650h0M2251 1650h0M2267 1650h0M2290 1650h0M2228 1656h0M2251 1656h0M2267 1656h0M2282 1656h0M2297 1656h0M2151 1663h0M2197 1663h23M2251 1663h8M2297 1663h0M2166 1670h0M2220 1670h0M2244 1670h23M2282 1670h8M2205 1676h8M2236 1676h15M2267 1676h8M2290 1676h0M2305 1676h0M2159 1683h0M2174 1683h0M2197 1683h23M2236 1683h0M2267 1683h0M2282 1683h0M2297 1683h0M2313 1683h0M2174 1690h0M2190 1690h8M2213 1690h15M2251 1690h8M2274 1690h23M2344 1690h8M2159 1696h0M2205 1696h0M2220 1696h0M2251 1696h8M2305 1696h0M2320 1696h0M2159 1703h0M2182 1703h0M2197 1703h23M2236 1703h0M2267 1703h38M2159 1710h0M2205 1710h0M2236 1710h15M2267 1710h23M2328 1710h0M2151 1717h8M2197 1717h0M2213 1717h0M2228 1717h8M2251 1717h8M2359 1717h0M2190 1723h15M2220 1723h8M2251 1723h0M2267 1723h0M2344 1723h0M2159 1730h0M2190 1730h38M2244 1730h8M2136 1737h0M2159 1737h0M2190 1737h31M2082 1743h0M2113 1743h0M2136 1743h0M2182 1743h8M2220 1743h8M2290 1743h0M2128 1750h0M2182 1750h31M2136 1757h8M2159 1757h0M2182 1757h0M2205 1757h0M2359 1757h0M2066 1764h0M2113 1764h0M2128 1764h15M2182 1764h0M2359 1764h0M2051 1770h0M2128 1770h8M2151 1770h0M2213 1770h0M2359 1770h0M2059 1777h0M2128 1777h23M2120 1784h23M2259 1784h0M2290 1784h0M2344 1784h0M2090 1790h0M2113 1790h0M2128 1790h0M2036 1797h0M2059 1797h0M2074 1797h0M2113 1797h8M2320 1797h0M2043 1804h0M2059 1804h0M2074 1804h31M2305 1804h0M2012 1810h0M2066 1810h0M2328 1810h0M1982 1817h0M2036 1817h0M2051 1817h0M2066 1817h0M2282 1817h0M2059 1824h0M2166 1824h0M2267 1824h8M2297 1824h0M2036 1830h8M2059 1830h8M2113 1830h0M2251 1830h0M2059 1837h0M2220 1837h0M2236 1837h8M2274 1837h8M2028 1844h15M2228 1844h0M2244 1844h0M2282 1844h0M2012 1851h0M2028 1851h15M2090 1851h0M2213 1851h15M2305 1851h0M2020 1857h8M2197 1857h0M2213 1857h8M1974 1864h0M2012 1864h0M2059 1864h0M2205 1864h0M2220 1864h0M2236 1864h0M1966 1871h8M1989 1871h23M2182 1871h8M2213 1871h8M2236 1871h0M1966 1877h0M2166 1877h15M2220 1877h0M2113 1884h0M2159 1884h0M2228 1884h0M1982 1891h0M2113 1891h0M2151 1891h0M2166 1891h0M2182 1891h0M1959 1898h0M2059 1898h0M2143 1898h0M2159 1898h0M2174 1898h0M2197 1898h0M1951 1904h8M2012 1904h0M2128 1904h0M2159 1904h15M1943 1911h8M2128 1911h8M2159 1911h0M2205 1911h0M1997 1918h0M2097 1918h0M2128 1918h8M2151 1918h0M1905 1924h0M1951 1924h0M2113 1924h23M2151 1924h8M2174 1924h0M2097 1931h0M2113 1931h0M2136 1931h0M1889 1938h8M2074 1938h0M2090 1938h0M2143 1938h0M2066 1944h0M2082 1944h8M2105 1944h8M2174 1944h0M1897 1951h0M2012 1951h0M2066 1951h0M2105 1951h0M2159 1951h0M1897 1958h0M2051 1958h15M2082 1958h0M2097 1958h23M1874 1964h0M1889 1964h0M2051 1964h15M2082 1964h0M2105 1964h8M2128 1964h0M2151 1964h0M2036 1971h8M2059 1971h0M2082 1971h0M2113 1971h0M2020 1978h0M2036 1978h31M2090 1978h0M2028 1985h8M2051 1985h0M2074 1985h8M2097 1985h8M1843 1991h0M2012 1991h15M2043 1991h15M2074 1991h15M2136 1991h0M2151 1991h0M1797 1998h0M1828 1998h0M1989 1998h46M2074 1998h15M1897 2005h0M1989 2005h0M2005 2005h15M2036 2005h15M2066 2005h15M2113 2005h0M1812 2011h8M1982 2011h8M2020 2011h23M2074 2011h0M1797 2018h8M1982 2018h0M1997 2018h8M2028 2018h8M2051 2018h0M1758 2025h0M1989 2025h0M2074 2025h0M1766 2032h0M2005 2032h23M1766 2038h0M1989 2038h15M1766 2045h0M1974 2045h0M1997 2045h0M1766 2052h0M1974 2052h0M1989 2052h0M2059 2052h0M1766 2058h0M1982 2058h0M1997 2058h0M2059 2058h0M1728 2065h0M1766 2065h0M1959 2065h0M1766 2072h0M1951 2072h15M1766 2078h0M1943 2078h0M1959 2078h8M1751 2085h8M1959 2085h8M1982 2085h0M1997 2085h0M1751 2092h0M1928 2092h0M1966 2098h0M1982 2098h0M1728 2105h0M1905 2105h0M1959 2105h0M1974 2119h0M1889 2125h0M1928 2125h0M1851 2132h0M1874 2132h0M1866 2139h0M1843 2152h0M1681 2159h0M1858 2159h0M1835 2166h0M1789 2172h0M1812 2172h0M1782 2179h0M1805 2179h0M1728 2199h8M1751 2199h0M1697 2212h8" stroke="#0303b0" stroke-width="10.0" stroke-linecap="round" fill="none"/><path d="M2228 1630h0M2259 1630h8M2213 1636h0M2267 1636h0M2320 1636h0M2220 1650h0M2282 1650h0M2244 1656h0M2244 1663h0M2290 1663h0M2174 1670h0M2213 1670h0M2228 1670h0M2274 1670h0M2197 1676h0M2220 1676h8M2297 1676h0M2244 1683h0M2344 1683h0M2359 1683h0M2182 1690h0M2205 1690h0M2244 1690h0M2213 1696h0M2244 1696h0M2282 1696h0M2244 1703h0M2336 1703h0M2297 1710h8M2344 1710h0M2182 1717h0M2244 1717h0M2274 1717h0M2297 1717h0M2328 1717h8M2351 1717h0M2159 1723h0M2213 1723h0M2236 1723h0M2259 1723h0M2274 1723h0M2313 1723h23M2351 1723h8M2174 1730h8M2259 1730h0M2274 1730h0M2290 1730h15M2182 1737h0M2228 1737h8M2267 1737h0M2290 1737h0M2305 1737h0M2320 1737h0M2336 1737h0M2151 1743h8M2197 1743h0M2236 1743h0M2336 1743h23M2113 1750h0M2244 1750h15M2282 1750h0M2305 1750h8M2190 1757h8M2228 1757h0M2297 1757h8M2320 1757h8M2151 1764h8M2190 1764h8M2220 1764h0M2236 1764h8M2274 1764h0M2290 1764h0M2336 1764h0M2143 1770h0M2159 1770h0M2336 1770h0M2105 1777h0M2174 1777h0M2205 1777h0M2220 1777h0M2236 1777h0M2267 1777h0M2290 1777h0M2305 1777h15M2336 1777h8M2359 1777h0M2113 1784h0M2151 1784h8M2182 1784h0M2274 1784h0M2297 1784h8M2328 1784h8M2097 1790h0M2182 1790h0M2236 1790h15M2320 1790h0M2097 1797h0M2128 1797h8M2220 1797h0M2236 1797h0M2259 1797h8M2297 1797h15M2113 1804h8M2197 1804h0M2244 1804h8M2074 1810h8M2105 1810h8M2143 1810h0M2159 1810h0M2190 1810h0M2251 1810h0M2282 1810h0M2082 1817h15M2113 1817h8M2159 1817h0M2190 1817h0M2220 1817h15M2066 1824h8M2097 1824h0M2120 1824h0M2182 1824h0M2205 1824h0M2220 1824h0M2328 1824h0M2051 1830h0M2074 1830h0M2090 1830h0M2105 1830h0M2143 1830h8M2166 1830h0M2182 1830h0M2213 1830h0M2244 1830h0M2051 1837h0M2074 1837h8M2105 1837h0M2120 1837h0M2136 1837h23M2174 1837h8M2228 1837h0M2059 1844h0M2074 1844h8M2120 1844h0M2174 1844h0M2190 1844h0M2220 1844h0M2020 1851h0M2097 1851h0M2113 1851h0M2166 1851h0M2182 1851h8M2236 1851h0M1997 1857h0M2012 1857h0M2059 1857h0M2074 1857h0M2113 1857h0M2020 1864h8M2066 1864h8M2090 1864h0M2143 1864h0M2197 1864h0M2213 1864h0M1982 1871h0M2020 1871h0M2074 1871h0M2143 1871h0M2159 1871h0M2174 1871h0M1982 1877h0M2051 1877h0M2097 1877h0M2120 1877h0M2136 1877h0M2159 1877h0M2213 1877h0M1989 1884h0M2005 1884h0M2020 1884h23M2066 1884h0M2082 1884h0M2120 1884h0M2174 1884h8M1959 1891h0M1974 1891h0M1997 1891h0M2028 1891h0M2043 1891h0M2059 1891h0M2090 1891h0M2143 1891h0M2159 1891h0M2174 1891h0M2043 1898h0M2066 1898h0M2082 1898h0M2105 1898h8M2151 1898h0M2166 1898h0M1928 1904h0M1966 1904h0M2036 1904h8M2097 1904h0M2120 1904h0M2143 1904h0M2005 1911h8M2066 1911h8M2090 1911h8M2113 1911h0M1943 1918h0M2020 1918h0M2043 1918h8M2113 1918h0M1936 1924h0M2059 1924h0M2090 1924h8M1920 1931h8M1951 1931h8M2036 1931h0M2105 1931h0M2120 1931h0M1936 1938h0M1959 1938h0M2012 1938h8M2036 1938h8M2113 1938h0M2151 1938h0M1912 1944h0M1928 1944h0M1982 1944h0M2012 1944h0M2043 1944h0M2074 1944h0M2120 1944h0M2151 1944h0M1889 1951h0M1905 1951h8M1959 1951h0M1982 1951h0M1997 1951h0M2043 1951h0M2074 1951h0M2113 1951h0M2136 1951h8M1920 1958h0M1943 1958h0M1959 1958h0M1974 1958h8M1997 1958h0M2012 1958h15M2074 1958h0M2090 1958h0M1905 1964h15M1936 1964h0M1951 1964h0M1966 1964h8M2012 1964h0M2043 1964h0M2074 1964h0M2090 1964h0M1905 1971h0M1920 1971h8M1951 1971h0M2012 1971h0M2028 1971h0M2051 1971h0M2090 1971h8M1943 1978h0M1982 1978h0M1997 1978h0M2012 1978h0M2028 1978h0M2105 1978h0M1858 1985h8M1882 1985h0M1905 1985h0M2005 1985h0M2059 1985h8M2120 1985h0M1851 1991h0M1897 1991h0M1912 1991h8M1936 1991h0M1974 1991h0M1997 1991h0M1851 1998h0M1974 1998h0M2066 1998h0M1828 2005h0M1843 2005h0M1858 2005h8M1943 2005h0M1959 2005h8M1997 2005h0M1828 2011h0M1928 2011h0M2005 2011h8M2051 2011h0M1812 2018h8M1905 2018h8M1943 2018h0M1959 2018h0M1989 2018h0M2059 2018h0M1797 2025h0M1920 2025h8M1966 2025h0M1982 2025h0M1997 2025h38M1782 2032h15M1812 2032h8M1912 2032h0M1951 2032h0M1974 2032h23M1782 2038h15M1812 2038h0M1951 2038h0M1966 2038h0M1982 2038h0M1782 2045h0M1812 2045h0M1905 2045h8M1943 2045h0M1966 2045h0M2066 2045h0M1720 2052h0M1774 2052h15M1805 2052h0M1928 2052h15M1966 2052h0M1997 2052h0M1789 2058h0M1905 2058h0M1951 2058h0M1974 2058h0M1905 2065h0M1774 2072h0M1943 2072h0M1743 2078h0M1897 2078h0M1920 2078h0M1889 2085h0M1882 2092h0M1920 2092h0M1743 2098h0M1874 2098h0M1905 2098h8M1735 2105h0M1882 2105h0M1720 2112h0M1858 2112h8M1882 2112h0M1704 2119h0M1858 2119h0M1889 2119h0M1912 2125h0M1835 2132h0M1866 2132h0M1689 2139h0M1851 2139h8M1851 2145h0M1820 2152h15M1820 2159h0M1835 2159h0M1689 2166h0M1805 2172h0M1828 2172h0M1766 2186h0M1743 2192h0M1720 2206h0" stroke="#0101e1" stroke-width="10.0" stroke-linecap="round" fill="none"/><path d="M2236 1636h0M2166 1663h0M2297 1670h0M2174 1696h0M2297 1696h0M2313 1696h0M2336 1696h8M2166 1703h0M2313 1703h8M2351 1703h0M2174 1710h8M2228 1710h0M2313 1710h8M2336 1710h0M2351 1710h0M2174 1717h0M2267 1717h0M2290 1717h0M2305 1717h15M2174 1723h0M2282 1723h8M2305 1723h0M2166 1730h0M2267 1730h0M2336 1730h8M2174 1737h0M2251 1737h8M2282 1737h0M2328 1737h0M2344 1737h8M2143 1743h0M2174 1743h0M2244 1743h0M2274 1743h0M2297 1743h15M2328 1743h0M2174 1750h0M2267 1750h8M2297 1750h0M2320 1750h0M2336 1750h0M2351 1750h0M2166 1757h8M2220 1757h0M2236 1757h0M2251 1757h8M2344 1757h0M2251 1764h0M2267 1764h0M2282 1764h0M2305 1764h8M2328 1764h0M2344 1764h8M2174 1770h0M2228 1770h15M2267 1770h23M2313 1770h0M2328 1770h0M2344 1770h8M2159 1777h0M2182 1777h0M2197 1777h0M2228 1777h0M2244 1777h8M2328 1777h0M2174 1784h0M2205 1784h0M2220 1784h8M2244 1784h0M2351 1784h0M2143 1790h0M2159 1790h0M2174 1790h0M2197 1790h8M2220 1790h8M2259 1790h8M2305 1790h8M2151 1797h8M2174 1797h0M2197 1797h0M2213 1797h0M2228 1797h0M2244 1797h0M2128 1804h15M2159 1804h0M2213 1804h0M2228 1804h8M2267 1804h15M2297 1804h0M2136 1810h0M2151 1810h0M2166 1810h0M2182 1810h0M2205 1810h15M2244 1810h0M2267 1810h8M2290 1810h0M2105 1817h0M2128 1817h8M2151 1817h0M2213 1817h0M2244 1817h0M2274 1817h0M2090 1824h0M2128 1824h31M2197 1824h0M2213 1824h0M2251 1824h0M2120 1830h0M2159 1830h0M2174 1830h0M2190 1830h0M2066 1837h0M2090 1837h8M2113 1837h0M2128 1837h0M2190 1837h0M2267 1837h0M2066 1844h0M2097 1844h0M2159 1844h0M2182 1844h0M2205 1844h0M2051 1851h0M2074 1851h8M2120 1851h31M2205 1851h0M2036 1857h0M2051 1857h0M2136 1857h0M2151 1857h8M2174 1857h0M2190 1857h0M2005 1864h0M2036 1864h15M2082 1864h0M2097 1864h31M2159 1864h0M2174 1864h0M2190 1864h0M2028 1871h0M2043 1871h0M2059 1871h0M2082 1871h0M2113 1871h0M2151 1871h0M2166 1871h0M2059 1877h15M2128 1877h0M1997 1884h0M2051 1884h8M2074 1884h0M2090 1884h0M2128 1884h0M2143 1884h0M2005 1891h0M2020 1891h0M2051 1891h0M2066 1891h8M1974 1898h15M2012 1898h0M2028 1898h8M2051 1898h0M2074 1898h0M2090 1898h0M2120 1898h0M1982 1904h15M2028 1904h0M2059 1904h23M2113 1904h0M2151 1904h0M1959 1911h0M1982 1911h0M2020 1911h31M2105 1911h0M1951 1918h8M1989 1918h0M2005 1918h0M2028 1918h8M2066 1918h0M2082 1918h8M1920 1924h0M1966 1924h0M2005 1924h0M2020 1924h8M1936 1931h0M1966 1931h8M1989 1931h0M2005 1931h0M2028 1931h0M2051 1931h15M2082 1931h8M1943 1938h8M1966 1938h0M1982 1938h8M2005 1938h0M2028 1938h0M2066 1938h0M1920 1944h0M1951 1944h0M1997 1944h8M2020 1944h0M2059 1944h0M2097 1944h0M1928 1951h0M1943 1951h8M1966 1951h0M1989 1951h0M2028 1951h0M1905 1958h0M1936 1958h0M1951 1958h0M1966 1958h0M1989 1958h0M2043 1958h0M1882 1964h0M1897 1964h0M1943 1964h0M1989 1964h8M2036 1964h0M2143 1964h0M1882 1971h0M1936 1971h8M1989 1971h0M2005 1971h0M2020 1971h0M2066 1971h0M2120 1971h0M1874 1978h0M1889 1978h8M1912 1978h8M1959 1978h0M1989 1978h0M2005 1978h0M2113 1978h0M1889 1985h0M1912 1985h0M1928 1985h46M2020 1985h0M1874 1991h0M1889 1991h0M1943 1991h0M1966 1991h0M1843 1998h0M1874 1998h23M1912 1998h0M1928 1998h0M1951 1998h8M1982 1998h0M1874 2005h15M1928 2005h8M1982 2005h0M1843 2011h0M1858 2011h0M1874 2011h0M1905 2011h0M1920 2011h0M1936 2011h8M1959 2011h15M1858 2018h0M1920 2018h0M1936 2018h0M1974 2018h0M1789 2025h0M1812 2025h23M1905 2025h8M1943 2025h0M1959 2025h0M1974 2025h0M1920 2032h0M1936 2032h8M1774 2038h0M1905 2038h0M1959 2038h0M1789 2045h0M1805 2045h0M1920 2045h8M1959 2045h0M2012 2045h0M1797 2052h0M1920 2052h0M1951 2052h8M2012 2052h0M1774 2058h8M1920 2058h23M1959 2058h0M1782 2065h0M1897 2065h0M1912 2065h0M1928 2065h0M1943 2065h8M1782 2072h0M1897 2072h15M1928 2072h0M1774 2078h0M1889 2078h0M1912 2078h0M1897 2085h0M1912 2085h0M1928 2085h0M1943 2085h0M1889 2092h15M1889 2098h0M1866 2105h8M1897 2105h0M1889 2112h0M1851 2119h0M1843 2125h23M1697 2132h0M1843 2132h0M1858 2132h0M1828 2139h0M1843 2139h0M1828 2145h8M1697 2159h0M1812 2159h0M1797 2166h0M1820 2166h0M1797 2172h0M1758 2186h0M1774 2186h0M1735 2192h0M1712 2206h0" stroke="#000dff" stroke-width="10.0" stroke-linecap="round" fill="none"/><path d="M2166 1676h0M2166 1710h0M2166 1717h0M2344 1717h0M2320 1730h0M2351 1730h0M2274 1737h0M2166 1743h0M2251 1743h8M2320 1743h0M2166 1750h0M2328 1750h0M2267 1757h0M2282 1757h0M2313 1757h0M2213 1764h0M2205 1770h0M2251 1770h0M2297 1770h0M2320 1770h0M2190 1777h0M2259 1777h0M2190 1784h0M2213 1784h0M2251 1784h0M2282 1784h0M2313 1784h8M2190 1790h0M2274 1790h8M2282 1797h0M2174 1804h15M2259 1804h0M2128 1810h0M2197 1810h0M2228 1810h8M2174 1817h8M2197 1817h8M2259 1817h8M2105 1824h0M2190 1824h0M2228 1824h0M2290 1824h0M2128 1830h0M2197 1830h0M2220 1830h0M2166 1837h0M2205 1837h8M2090 1844h0M2105 1844h0M2136 1844h8M2166 1844h0M2059 1851h8M2159 1851h0M2197 1851h0M2043 1857h0M2066 1857h0M2082 1857h0M2097 1857h8M2166 1857h0M2136 1864h0M2182 1864h0M2097 1871h8M2020 1877h0M2043 1877h0M2082 1877h0M2012 1884h0M2097 1884h8M2136 1884h0M2151 1884h0M1989 1891h0M2012 1891h0M2097 1891h0M2136 1891h0M1997 1898h8M2020 1898h0M1974 1904h0M2005 1904h0M2020 1904h0M2090 1904h0M1974 1911h0M1989 1911h0M2059 1911h0M1974 1918h0M1959 1924h0M1989 1924h8M2012 1924h0M2066 1924h0M2020 1931h0M2074 1931h0M1997 1938h0M1936 1944h8M2028 1944h0M2051 1944h0M2005 1958h0M2036 1958h0M1959 1964h0M2020 1964h0M1897 1971h0M1912 1971h0M1966 1971h8M1997 1971h0M1936 1978h0M1951 1978h0M1966 1978h0M1897 1985h0M1920 1985h0M1982 1985h15M1866 1991h0M1982 1991h0M1858 1998h0M1943 1998h0M1966 1998h0M1905 2005h15M1951 2005h0M1974 2005h0M1912 2011h0M1951 2011h0M1828 2018h23M1951 2018h0M1843 2025h8M1951 2025h0M1805 2032h0M1828 2032h8M1905 2032h0M1928 2032h0M2036 2032h0M1820 2038h0M1912 2038h0M1936 2038h8M1936 2045h0M1797 2058h0M1774 2065h0M1936 2065h0M1928 2078h0M1920 2085h0M1874 2092h0M1712 2119h0M1866 2119h15M1820 2145h0M1843 2145h0M1697 2166h0M1805 2166h8M1751 2186h0M1728 2192h0M1697 2206h0" stroke="#0030ff" stroke-width="10.0" stroke-linecap="round" fill="none"/><path d="M2166 1737h0M2313 1737h0M2166 1764h0M2220 1770h0M2097 1777h0M2267 1784h0M2151 1790h0M2166 1790h0M2213 1790h0M2166 1797h0M2205 1797h0M2290 1797h0M2151 1804h0M2290 1804h0M2236 1824h0M2197 1837h0M2090 1857h0M2036 1871h0M2128 1871h8M2143 1877h0M2082 1891h0M2128 1898h0M1997 1911h0M1997 1931h0M2051 1938h0M2036 1944h0M2005 1964h0M1959 1991h0M1905 1998h0M1920 1998h0M1835 2011h0M1851 2011h0M1882 2011h8M1843 2032h0M1805 2038h0M1889 2072h0M1882 2078h0M1766 2085h0M1897 2098h0M1720 2105h0M1758 2105h0M1858 2105h0M1851 2112h0M1697 2152h0M1782 2172h0" stroke="#0054ff" stroke-width="10.0" stroke-linecap="round" fill="none"/><path d="M2166 1723h0M2166 1770h0M2166 1777h0M2174 1810h0M1974 1978h0M1905 1991h0M1897 2018h0M1805 2025h0M1797 2045h0M1843 2045h0M1897 2058h0M1782 2078h0M1758 2092h0M1751 2098h0M1743 2105h0M1843 2119h0M1697 2139h0M1697 2145h0M1812 2152h0M1789 2159h0M1805 2159h0" stroke="#0077ff" stroke-width="10.0" stroke-linecap="round" fill="none"/><path d="M1928 1991h0M1897 2011h0M1866 2018h0M1828 2038h0M1882 2038h0M1835 2052h8M1797 2072h0M1774 2092h0M1851 2098h0M1728 2112h0M1797 2145h0M1805 2152h0M1774 2172h0M1728 2186h0M1743 2186h0" stroke="#009aff" stroke-width="10.0" stroke-linecap="round" fill="none"/><path d="M1882 2018h0M1889 2025h0M1882 2032h8M1851 2038h0M1866 2038h0M1820 2045h15M1851 2045h0M1897 2045h0M1882 2052h0M1805 2058h0M1820 2058h0M1843 2058h0M1866 2058h0M1889 2065h0M1858 2072h0M1874 2078h0M1874 2085h0M1858 2098h0M1743 2112h0M1720 2119h0M1820 2125h0M1712 2132h0M1812 2139h8M1704 2152h0M1782 2159h0M1758 2179h0M1774 2179h0M1720 2192h0M1704 2199h0" stroke="#00bdff" stroke-width="10.0" stroke-linecap="round" fill="none"/><path d="M1866 2025h0M1866 2032h8M1897 2032h0M1889 2038h0M1812 2058h0M1874 2058h8M1858 2065h0M1882 2065h0M1789 2072h0M1789 2085h0M1858 2085h8M1866 2092h0M1758 2098h0M1843 2098h0M1735 2112h0M1843 2112h0M1712 2125h8M1704 2139h0M1797 2152h0M1751 2179h0M1697 2199h0" stroke="#00e0ff" stroke-width="10.0" stroke-linecap="round" fill="none"/><path d="M1897 2025h0M1851 2032h0M1843 2038h0M1866 2045h0M1858 2052h0M1874 2052h0M1889 2052h8M1889 2058h0M1797 2065h0M1812 2065h0M1851 2065h0M1866 2065h0M1866 2072h0M1789 2078h0M1782 2085h0M1766 2098h0M1828 2119h0M1812 2132h8M1812 2145h0M1774 2166h0" stroke="#04fffb" stroke-width="10.0" stroke-linecap="round" fill="none"/><path d="M1889 2018h0M1874 2025h8M1874 2038h0M1874 2045h0M1820 2052h0M1851 2052h0M1851 2058h0M1874 2065h0M1805 2072h0M1851 2072h0M1797 2078h0M1858 2078h0M1766 2092h0M1751 2105h0M1835 2105h0M1735 2119h0M1835 2119h0M1828 2125h0M1712 2139h0M1789 2152h0M1743 2179h0M1735 2186h0M1712 2192h0" stroke="#28ffd7" stroke-width="10.0" stroke-linecap="round" fill="none"/><path d="M1858 2025h0M1858 2032h0M1835 2038h0M1858 2045h0M1889 2045h0M1828 2052h0M1866 2052h0M1851 2078h0M1782 2092h0M1851 2092h0M1835 2112h0M1704 2132h0M1712 2145h0M1789 2166h0" stroke="#4bffb4" stroke-width="10.0" stroke-linecap="round" fill="none"/><path d="M1858 2038h0M1897 2038h0M1882 2045h0M1812 2052h0M1858 2058h0M1874 2072h0M1774 2085h0M1751 2112h0M1720 2132h0M1805 2145h0M1782 2166h0M1697 2172h0M1758 2172h0M1766 2179h0M1697 2192h0M1712 2199h0" stroke="#6eff91" stroke-width="10.0" stroke-linecap="round" fill="none"/><path d="M1874 2018h0M1882 2072h0M1797 2085h0M1851 2085h0M1858 2092h0M1774 2098h0M1728 2119h0M1828 2132h0M1805 2139h0M1704 2145h0M1797 2159h0M1697 2186h0" stroke="#91ff6e" stroke-width="10.0" stroke-linecap="round" fill="none"/><path d="M1805 2065h0M1812 2072h0M1728 2125h0M1766 2166h0M1697 2179h0" stroke="#b4ff4b" stroke-width="10.0" stroke-linecap="round" fill="none"/><path d="M1820 2065h0M1766 2172h0" stroke="#d7ff28" stroke-width="10.0" stroke-linecap="round" fill="none"/><path d="M1843 2092h0M1720 2186h0" stroke="#fbff04" stroke-width="10.0" stroke-linecap="round" fill="none"/><path d="M1843 2078h0M1828 2112h0M1735 2179h0" stroke="#ffe000" stroke-width="10.0" stroke-linecap="round" fill="none"/><path d="M1843 2085h0" stroke="#ffbd00" stroke-width="10.0" stroke-linecap="round" fill="none"/><path d="M1828 2058h0M1820 2119h0" stroke="#ff9a00" stroke-width="10.0" stroke-linecap="round" fill="none"/><path d="M1805 2078h0" stroke="#ff7700" stroke-width="10.0" stroke-linecap="round" fill="none"/><path d="M1820 2072h15M1766 2105h0M1743 2172h0" stroke="#ff5400" stroke-width="10.0" stroke-linecap="round" fill="none"/><path d="M1835 2098h0" stroke="#ff3000" stroke-width="10.0" stroke-linecap="round" fill="none"/><path d="M1835 2058h0M1728 2179h0" stroke="#ff0d00" stroke-width="10.0" stroke-linecap="round" fill="none"/><path d="M1743 2119h0M1735 2125h0M1728 2132h0M1704 2192h0" stroke="#e90000" stroke-width="10.0" stroke-linecap="round" fill="none"/><path d="M1835 2065h8M1712 2152h0M1774 2159h0M1704 2166h0M1751 2172h0" stroke="#c60000" stroke-width="10.0" stroke-linecap="round" fill="none"/><path d="M1812 2125h0" stroke="#a30000" stroke-width="10.0" stroke-linecap="round" fill="none"/><path d="M1828 2065h0M1843 2072h0M1812 2078h23M1805 2085h31M1789 2092h46M1782 2098h46M1774 2105h54M1758 2112h62M1751 2119h62M1743 2125h62M1735 2132h69M1720 2139h77M1720 2145h69M1720 2152h62M1704 2159h62M1712 2166h46M1704 2172h31M1704 2179h15M1704 2186h8" stroke="#800000" stroke-width="10.0" stroke-linecap="round" fill="none"/>
</g>
<line x1="1666.0" y1="2232.5" x2="2359.5" y2="1630.5" stroke="#c8283a" stroke-opacity="0.8" stroke-width="4.2" clip-path="url(#c22)"/>
<path d="M1743.1 2232.5v-9M1743.1 1630.5v9M1897.2 2232.5v-9M1897.2 1630.5v9M2051.3 2232.5v-9M2051.3 1630.5v9M2205.4 2232.5v-9M2205.4 1630.5v9M1666.0 2165.6h9M2359.5 2165.6h-9M1666.0 2031.8h9M2359.5 2031.8h-9M1666.0 1898.1h9M2359.5 1898.1h-9M1666.0 1764.3h9M2359.5 1764.3h-9" stroke="#cfcfcf" stroke-width="2" fill="none"/>
<path d="M1666.0 1630.5H2359.5" stroke="#dcdcdc" stroke-width="3"/>
<path d="M2359.5 1630.5V2232.5" stroke="#d8d8d8" stroke-width="3"/>
<path d="M1666.0 1629.0V2232.5" stroke="#a0a0a0" stroke-width="3"/>
<path d="M1664.5 2232.5H2360.5" stroke="#808080" stroke-width="3"/>
<text x="1743.1" y="2282.5" font-size="37" fill="#333" text-anchor="middle">0</text>
<text x="1897.2" y="2282.5" font-size="37" fill="#333" text-anchor="middle">10</text>
<text x="2051.3" y="2282.5" font-size="37" fill="#333" text-anchor="middle">20</text>
<text x="2205.4" y="2282.5" font-size="37" fill="#333" text-anchor="middle">30</text>
<text x="2359.5" y="2282.5" font-size="37" fill="#333" text-anchor="middle">40</text>
<text x="1706.0" y="1701.5" font-size="58" fill="#000">(k)</text>
<g clip-path="url(#c23)">
<path d="M3124 1636h0M2939 1650h0M3054 1650h0M3116 1650h8M2916 1656h0M2954 1656h8M3070 1656h0M2947 1663h0M3062 1663h8M3108 1663h0M2947 1670h0M3008 1670h0M3062 1670h8M3093 1670h8M3116 1670h0M3132 1670h0M2970 1676h8M3016 1676h0M3047 1676h0M3062 1676h0M3078 1676h0M3108 1676h0M3124 1676h0M2939 1683h0M2962 1683h15M3016 1683h0M3047 1683h0M3078 1683h23M3124 1683h0M2877 1690h0M2900 1690h0M2947 1690h0M2978 1690h0M3008 1690h0M3024 1690h0M3039 1690h0M3062 1690h0M3093 1690h15M3124 1690h0M2839 1696h0M2908 1696h0M2970 1696h8M3016 1696h0M3047 1696h0M3062 1696h0M3078 1696h0M3101 1696h0M3124 1696h0M2924 1703h0M2939 1703h0M2954 1703h8M3024 1703h8M3054 1703h0M3078 1703h0M3093 1703h8M3132 1703h0M2916 1710h0M2939 1710h0M2962 1710h0M2993 1710h0M3008 1710h0M3024 1710h0M3062 1710h0M3078 1710h0M3093 1710h0M2831 1717h0M2847 1717h0M2893 1717h15M2924 1717h0M2939 1717h0M3001 1717h0M3047 1717h0M2854 1723h0M2893 1723h8M2954 1723h8M2978 1723h15M3008 1723h8M3031 1723h0M3132 1723h0M2824 1730h0M2877 1730h0M2924 1730h0M2947 1730h0M2962 1730h8M2870 1743h8M2831 1750h0M2800 1757h0M3132 1757h0M2893 1764h0M2862 1770h0M2893 1770h0M3132 1770h0M2862 1777h0M2870 1784h23M2808 1790h0M2893 1790h0M3132 1790h0M2723 1797h0M2808 1797h8M2847 1797h0M2862 1797h23M2731 1804h0M2785 1804h0M2839 1804h0M2854 1804h0M2870 1804h0M2893 1804h0M3124 1804h8M2824 1810h8M2847 1810h0M2862 1810h0M2885 1810h0M2731 1817h0M2816 1817h0M2839 1817h0M2862 1817h0M2885 1817h0M3101 1817h0M3124 1817h0M2716 1824h0M2746 1824h0M2824 1824h0M2870 1824h0M3085 1824h23M2700 1830h0M2777 1830h8M2816 1830h0M2831 1830h8M3070 1830h8M3101 1830h8M3124 1830h8M2785 1837h0M2831 1837h0M2847 1837h8M3070 1837h8M3093 1837h0M3108 1837h0M3124 1837h0M2708 1844h0M2723 1844h0M2777 1844h0M2793 1844h0M3047 1844h0M3101 1844h0M3116 1844h0M2800 1851h0M2839 1851h0M3008 1851h0M3031 1851h0M3047 1851h0M3062 1851h0M3078 1851h8M3124 1851h0M2685 1857h0M2770 1857h0M2800 1857h0M3024 1857h8M3047 1857h23M3093 1857h0M3124 1857h0M2723 1864h0M2739 1864h0M2762 1864h8M2785 1864h8M2816 1864h0M3024 1864h0M3047 1864h0M3085 1864h8M3116 1864h0M2654 1871h0M2746 1871h0M2770 1871h0M2785 1871h0M3008 1871h0M3024 1871h23M3062 1871h8M3093 1871h23M2754 1877h8M2785 1877h0M3062 1877h0M2716 1884h0M2754 1884h8M2978 1884h0M3001 1884h8M3024 1884h0M3047 1884h0M3070 1884h0M2716 1891h0M2731 1891h0M2962 1891h0M2985 1891h8M3008 1891h0M2723 1898h8M2978 1898h0M3016 1898h0M3031 1898h0M3062 1898h0M3078 1898h0M2731 1904h8M2978 1904h15M2670 1911h0M2708 1911h8M2731 1911h8M2962 1911h0M2978 1911h0M3031 1911h0M3054 1911h0M3070 1911h0M2616 1918h0M2947 1918h8M2993 1918h15M2646 1924h0M2662 1924h0M2685 1924h8M2708 1924h8M2962 1924h0M2993 1924h15M3031 1924h0M2708 1931h8M2924 1931h0M2939 1931h0M2954 1931h0M2970 1931h15M3001 1931h0M2608 1938h0M2631 1938h0M2693 1938h0M2916 1938h0M2954 1938h8M2985 1938h0M3016 1938h0M3101 1938h0M2646 1944h0M2662 1944h8M2685 1944h0M2939 1944h0M2954 1944h0M2623 1951h0M2654 1951h0M2677 1951h0M2947 1951h0M2993 1951h0M2608 1958h0M2908 1958h0M2947 1958h0M3008 1958h0M3047 1958h0M2893 1964h15M2924 1964h0M2954 1964h8M3062 1964h0M2616 1971h0M2639 1971h0M2908 1971h31M2562 1978h0M2623 1978h0M2893 1978h0M2908 1978h15M3070 1978h0M2585 1985h8M2623 1985h15M2900 1985h0M2916 1985h15M2970 1985h0M3001 1985h0M3070 1985h0M2585 1991h0M2608 1991h0M2877 1991h8M2924 1991h0M2531 1998h0M2870 1998h15M2916 1998h8M3062 1998h0M2939 2005h0M2985 2005h0M2508 2011h0M2577 2011h0M2854 2011h0M2877 2011h15M2908 2011h8M3108 2011h0M3124 2011h0M2831 2018h8M2908 2018h0M2931 2018h0M2531 2025h15M2824 2025h0M2870 2025h0M2893 2025h15M2492 2032h0M2808 2032h23M2847 2032h0M2885 2032h8M2908 2032h0M3039 2032h0M2800 2038h0M2831 2038h8M2854 2038h0M2877 2038h0M2978 2038h0M3024 2038h0M2777 2045h0M2800 2045h0M2824 2045h31M2870 2045h0M3070 2045h8M2516 2052h15M2762 2052h0M2785 2052h8M2870 2052h0M2931 2052h0M2492 2058h0M2754 2058h0M2785 2058h0M2808 2058h8M2839 2058h8M2870 2058h0M2893 2058h0M2500 2065h0M2523 2065h8M2723 2065h0M2739 2065h0M2770 2065h0M2808 2065h0M2839 2065h0M2862 2065h0M2916 2065h0M3031 2065h0M2485 2072h0M2523 2072h8M2739 2072h0M2762 2072h8M2793 2072h0M2831 2072h0M2885 2072h0M2947 2072h0M3062 2072h0M2469 2078h0M2516 2078h0M2716 2078h0M2754 2078h0M2777 2078h0M2793 2078h8M2954 2078h0M3008 2078h0M2492 2085h23M2693 2085h0M2716 2085h0M2731 2085h8M2770 2085h0M2785 2085h0M2816 2085h0M3047 2085h0M2469 2092h0M2485 2092h0M2500 2092h8M2723 2092h31M2793 2092h8M2877 2092h0M2508 2098h0M2685 2098h0M2708 2098h0M2739 2098h0M2492 2105h8M2677 2105h0M2693 2105h8M2723 2105h0M2469 2112h8M2685 2112h8M2708 2112h0M2993 2112h0M3008 2112h0M3031 2112h0M2485 2119h0M2662 2119h0M2716 2119h8M2746 2119h0M3001 2119h0M2646 2125h0M2670 2125h0M2693 2125h0M2723 2125h0M2839 2125h0M2654 2132h0M2677 2132h8M2762 2132h0M2885 2132h0M2908 2132h0M2939 2132h0M2985 2132h0M2477 2139h0M2646 2139h0M2693 2139h0M2831 2139h0M2854 2139h0M2954 2139h0M2662 2145h0M2677 2145h0M2839 2145h0M2893 2145h0M2454 2152h0M2469 2152h8M2616 2152h0M2646 2152h0M2677 2152h8M2716 2152h0M2600 2159h0M2631 2159h0M2777 2159h0M2847 2159h0M2462 2166h8M2585 2166h0M2600 2166h0M2623 2166h0M2662 2166h0M2754 2166h0M2808 2166h0M2608 2172h0M2746 2172h0M2885 2172h0M2462 2179h0M2562 2179h0M2739 2179h0M2462 2186h8M2546 2186h0M2562 2186h0M2600 2186h0M2469 2192h8M2516 2192h8M2546 2192h8M2492 2199h8M2516 2199h0M2539 2199h0M2485 2206h0M2500 2206h0M2469 2212h0M2539 2212h0M2562 2212h0M2485 2219h0M2500 2219h0M2446 2226h0" stroke="#08084f" stroke-width="10.0" stroke-linecap="round" fill="none"/><path d="M3132 1650h0M3108 1656h0M3108 1683h0M2954 1690h15M3001 1690h0M3085 1690h0M2939 1696h0M3039 1696h0M3070 1696h0M3085 1696h8M3108 1696h0M3008 1703h0M3062 1703h0M3108 1703h0M2947 1710h0M2978 1710h8M3031 1710h0M3070 1710h0M3101 1710h0M2916 1717h0M3070 1717h0M3085 1717h0M2908 1723h0M2900 1730h0M2985 1730h8M3039 1730h0M2900 1737h0M2916 1737h0M3008 1737h0M3024 1737h0M3132 1737h0M2893 1743h0M3132 1743h0M3008 1750h0M3124 1750h0M2770 1764h0M3132 1764h0M2893 1777h0M3132 1777h0M2900 1784h0M2862 1790h0M3124 1797h0M2847 1804h0M2877 1804h0M3116 1804h0M2854 1810h0M2870 1810h0M2900 1810h0M3101 1810h0M2893 1817h0M3093 1817h0M2847 1824h0M2877 1824h0M3078 1824h0M2862 1830h0M2824 1837h0M3054 1837h0M2800 1844h0M2831 1844h0M2847 1844h0M3031 1844h0M3085 1844h8M3108 1844h0M3132 1844h0M3016 1851h0M3039 1851h0M3054 1851h0M3093 1851h8M2754 1857h0M2816 1857h0M3001 1857h0M3016 1857h0M3078 1857h8M3101 1857h0M3116 1857h0M2808 1864h0M3001 1864h0M3062 1864h0M2777 1871h0M2800 1871h0M2962 1871h0M2993 1871h8M3078 1871h0M3132 1871h0M2777 1877h0M2800 1877h0M2746 1884h0M2770 1884h8M3062 1884h0M3078 1884h0M2762 1891h0M2777 1891h0M2970 1891h8M3001 1891h0M3054 1891h0M3078 1891h0M2739 1898h0M2762 1898h8M2962 1898h0M2746 1904h0M2924 1904h0M2954 1904h0M3001 1904h0M3024 1904h8M2754 1911h0M2954 1911h0M2916 1918h0M2931 1918h0M2962 1918h0M2700 1924h0M2924 1924h23M2970 1924h0M2700 1931h0M2877 1931h0M2893 1931h0M2870 1938h8M2939 1938h8M3047 1938h0M2916 1944h0M2947 1944h0M2962 1944h8M2931 1951h0M2978 1951h0M3078 1951h0M2885 1958h8M2924 1958h0M2639 1964h0M2939 1964h0M2654 1971h8M2639 1978h0M2824 1978h0M2847 1978h0M2616 1985h0M2877 1985h0M2893 1985h0M2847 1991h8M2900 1991h8M2600 1998h0M2616 1998h0M2816 1998h0M2900 1998h0M2592 2005h8M2854 2005h8M2916 2005h0M2592 2011h0M2839 2011h0M2862 2011h0M2793 2018h0M2824 2018h0M2847 2018h8M2870 2018h8M2554 2025h8M2546 2032h0M2800 2032h0M3093 2032h0M2808 2038h0M2847 2038h0M2962 2038h0M2531 2045h0M2762 2045h0M2785 2045h0M2808 2045h8M2746 2052h8M2777 2052h0M2800 2052h0M2816 2052h8M2531 2058h0M2746 2058h0M2762 2058h8M2516 2065h0M2746 2065h0M2785 2065h15M2708 2072h8M2785 2072h0M2531 2078h0M2708 2078h0M2739 2078h8M2770 2078h0M2723 2085h0M2746 2085h0M2708 2092h0M2762 2092h0M2777 2092h8M2677 2098h0M2770 2098h0M2662 2112h0M2700 2112h0M2716 2112h0M2746 2112h0M2654 2119h0M2677 2119h0M2693 2119h0M2708 2119h0M2654 2125h0M2700 2125h0M2477 2132h0M2639 2132h0M2662 2132h0M2477 2145h0M2639 2145h8M2670 2152h0M2569 2172h0M2585 2172h0M2469 2179h0M2546 2179h0M2477 2186h0M2523 2186h0M2554 2186h0M2485 2192h0M2531 2192h0M2469 2199h0M2523 2199h0M2477 2206h0" stroke="#060680" stroke-width="10.0" stroke-linecap="round" fill="none"/><path d="M3101 1663h0M3108 1670h0M3070 1676h0M2985 1683h0M3070 1683h0M2947 1696h0M2970 1703h0M3047 1703h0M3070 1703h0M3116 1703h0M3108 1710h0M2970 1717h0M2985 1717h0M3008 1717h0M3031 1717h8M3093 1717h8M3001 1723h0M3024 1723h0M3039 1723h0M3062 1723h15M2931 1730h0M3016 1730h0M3047 1730h0M3062 1730h0M3132 1730h0M2908 1737h0M2924 1737h0M2962 1737h0M3016 1737h0M3031 1737h0M3047 1737h0M2900 1743h0M3001 1743h8M3031 1743h0M3108 1750h0M3001 1757h8M3093 1757h0M3116 1757h0M3001 1764h8M3124 1770h0M3093 1777h0M3016 1784h0M3031 1790h0M3085 1790h0M3024 1804h0M2893 1810h0M3039 1810h0M3108 1810h0M3078 1817h0M3124 1824h0M2870 1830h15M3054 1830h8M3093 1830h0M2862 1837h8M3031 1837h0M2816 1844h8M2854 1844h0M3024 1844h0M3039 1844h0M3078 1844h0M2908 1851h0M2993 1851h8M3024 1851h0M2793 1857h0M2831 1857h0M2824 1864h0M2993 1864h0M2808 1871h8M2939 1871h0M2954 1871h0M2970 1871h15M2839 1877h0M2947 1877h23M2985 1877h0M3001 1877h0M2739 1884h0M2793 1884h0M2947 1884h0M2962 1884h0M2985 1884h0M2785 1891h0M2931 1891h23M2908 1898h0M2947 1898h8M2985 1898h0M2839 1904h0M2900 1904h15M2947 1904h0M2962 1904h0M2746 1911h0M2800 1911h0M2900 1911h0M2924 1911h0M3008 1911h0M2731 1918h0M2900 1918h8M2924 1918h0M2731 1924h0M2885 1924h0M2900 1924h0M2916 1924h0M2885 1931h0M2916 1931h0M2931 1931h0M2962 1931h0M2847 1938h0M2885 1938h8M2908 1938h0M2924 1938h0M2708 1944h0M2854 1944h8M2893 1944h15M2685 1951h0M2839 1951h15M2893 1951h0M2939 1951h0M2677 1958h8M2839 1958h8M2877 1958h0M2662 1964h0M2677 1964h0M2839 1964h23M2877 1964h8M2816 1971h0M2831 1971h0M2847 1971h8M2870 1971h15M2831 1978h8M2854 1978h0M2870 1978h0M2808 1985h0M2824 1985h0M2847 1985h0M2862 1985h0M2623 1991h8M2793 1991h0M2816 1991h23M2870 1991h0M2623 1998h0M2785 1998h8M2839 1998h23M2608 2005h0M2793 2005h0M2808 2005h8M2777 2011h31M2824 2011h8M2847 2011h0M2569 2018h15M2616 2018h0M2770 2018h0M2785 2018h0M2808 2018h8M2885 2018h0M2569 2025h0M2762 2025h8M2785 2025h8M2808 2025h0M2831 2025h15M2554 2032h0M2762 2032h23M2862 2032h0M2539 2038h0M2746 2038h8M2777 2038h8M2824 2038h0M2739 2045h8M2770 2045h0M2793 2045h0M2731 2052h8M2839 2052h0M2539 2058h0M2731 2058h8M2831 2058h0M2539 2065h0M2716 2065h0M2731 2065h0M2762 2065h0M2777 2065h0M2539 2072h0M2746 2072h8M2824 2072h0M2731 2078h0M2762 2078h0M2531 2085h0M2754 2085h0M2523 2092h0M2685 2092h0M2700 2092h0M2716 2092h0M2700 2098h0M2716 2105h0M2492 2112h8M2677 2125h0M2631 2139h0M2469 2159h0M2577 2166h0M2562 2172h0M2477 2179h0M2531 2186h0M2492 2192h15" stroke="#0303b0" stroke-width="10.0" stroke-linecap="round" fill="none"/><path d="M3085 1703h0M3116 1710h0M3132 1710h0M3132 1717h0M3108 1723h0M2978 1730h0M3001 1730h0M3031 1730h0M3070 1730h0M3085 1730h0M3124 1730h0M2939 1737h0M3054 1737h0M3108 1737h15M2908 1743h0M2954 1743h0M3024 1743h0M3054 1743h0M3070 1743h15M3124 1743h0M2900 1750h0M2954 1750h0M3001 1750h0M3016 1750h0M3047 1750h15M2908 1757h0M2939 1757h0M3016 1757h0M3031 1757h8M3124 1757h0M2900 1764h0M3024 1764h8M3047 1764h0M3070 1764h0M3085 1764h0M3108 1764h15M2908 1770h0M3001 1770h0M3016 1770h0M3031 1770h0M3054 1770h0M3093 1770h0M3116 1770h0M2900 1777h0M2993 1777h8M3016 1777h0M3031 1777h0M3054 1777h8M3101 1777h0M3008 1784h0M3047 1784h0M3070 1784h0M3101 1784h0M3116 1784h0M2900 1790h0M2916 1790h0M2993 1790h0M3008 1790h8M3054 1790h0M3078 1790h0M3101 1790h23M2978 1797h0M3031 1797h0M3047 1797h0M3085 1797h0M2900 1804h0M2985 1804h0M3047 1804h0M3070 1804h0M3047 1810h0M3062 1810h0M3085 1810h0M2900 1817h0M2970 1817h0M3024 1817h8M3047 1817h0M3062 1817h0M3108 1817h0M2885 1824h8M3024 1824h0M3054 1824h15M3016 1830h0M3031 1830h0M3047 1830h0M2893 1837h0M2939 1837h0M3039 1837h0M3062 1837h0M2870 1844h8M2893 1844h8M3016 1844h0M3054 1844h0M2847 1851h0M2862 1851h0M2939 1851h0M2839 1857h0M2870 1857h15M2916 1857h8M2993 1857h0M2831 1864h0M2870 1864h0M2893 1864h8M2962 1864h0M3008 1864h0M2854 1871h0M2870 1871h0M2900 1871h0M2924 1871h0M2808 1877h8M2831 1877h0M2931 1877h0M2800 1884h0M2854 1884h15M2931 1884h8M2954 1884h0M2770 1891h0M2808 1891h0M2847 1891h0M2885 1891h0M2900 1891h0M2916 1891h8M2777 1898h0M2793 1898h0M2831 1898h0M2847 1898h0M2900 1898h0M2924 1898h8M2754 1904h0M2770 1904h0M2793 1904h0M2877 1904h0M2939 1904h0M2970 1904h0M2862 1911h0M2885 1911h0M2908 1911h0M2939 1911h0M2739 1918h8M2762 1918h0M2777 1918h15M2854 1918h0M2885 1918h0M2739 1924h0M2793 1924h0M2839 1924h23M2754 1931h0M2770 1931h0M2816 1931h15M2847 1931h0M2862 1931h0M2908 1931h0M2716 1938h0M2777 1938h0M2900 1938h0M2700 1944h0M2731 1944h0M2746 1944h8M2793 1944h0M2870 1944h8M2731 1951h0M2754 1951h0M2800 1951h0M2816 1951h0M2831 1951h0M2862 1951h15M2908 1951h0M2924 1951h0M2770 1958h0M2808 1958h0M2831 1958h0M2862 1958h0M2900 1958h0M2693 1964h0M2708 1964h0M2785 1964h0M2831 1964h0M2793 1971h0M2824 1971h0M2839 1971h0M2677 1978h0M2700 1978h0M2808 1978h8M2646 1985h0M2662 1985h0M2793 1985h0M2831 1985h0M2854 1985h0M2639 1991h0M2662 1991h0M2777 1991h0M2808 1991h0M2631 1998h15M2662 1998h0M2777 1998h0M2800 1998h0M2824 1998h0M2616 2005h0M2639 2005h15M2777 2005h8M2831 2005h0M2885 2005h0M2616 2011h0M2592 2018h8M2777 2018h0M2577 2025h0M2616 2025h8M2816 2025h0M2854 2025h0M2754 2032h0M2770 2038h0M2546 2045h0M2569 2045h15M2539 2052h0M2554 2052h0M2569 2052h0M2770 2052h0M2554 2058h0M2777 2058h0M2824 2058h0M2569 2065h0M2554 2072h0M2516 2098h0M2746 2098h0M2508 2105h0M2670 2105h0M2492 2119h0M2485 2125h0M2631 2132h0M2623 2139h0M2608 2145h0M2600 2152h0M2477 2172h0" stroke="#0101e1" stroke-width="10.0" stroke-linecap="round" fill="none"/><path d="M3085 1710h0M3062 1717h0M3116 1717h0M3124 1723h0M3078 1730h0M3093 1730h8M2970 1737h0M2993 1737h8M3070 1737h0M3093 1737h0M2916 1743h8M2939 1743h0M2962 1743h0M2978 1743h0M3016 1743h0M3101 1743h8M2908 1750h8M2939 1750h8M3031 1750h8M3085 1750h0M3101 1750h0M3116 1750h0M2962 1757h0M3054 1757h8M3085 1757h0M3101 1757h8M2924 1764h0M2970 1764h0M3039 1764h0M3062 1764h0M3093 1764h8M2924 1770h0M2993 1770h0M3039 1770h8M3070 1770h15M2908 1777h15M2985 1777h0M3039 1777h8M3070 1777h8M3108 1777h8M2916 1784h0M3001 1784h0M3024 1784h8M3054 1784h8M3078 1784h8M3108 1784h0M3024 1790h0M3047 1790h0M3070 1790h0M3093 1790h0M3008 1797h8M3070 1797h0M3093 1797h15M2916 1804h8M3008 1804h8M3031 1804h8M3078 1804h8M3101 1804h0M2916 1810h0M3008 1810h0M3024 1810h0M3070 1810h8M2908 1817h0M2993 1817h0M3016 1817h0M3039 1817h0M3054 1817h0M3070 1817h0M3085 1817h0M2908 1824h8M2947 1824h0M2962 1824h8M3039 1824h0M2893 1830h8M2939 1830h8M3008 1830h0M3024 1830h0M3039 1830h0M2885 1837h0M2924 1837h0M2978 1837h0M2993 1837h15M2885 1844h0M2962 1844h0M3062 1844h0M2877 1851h23M2916 1851h0M2978 1851h0M2900 1857h0M2947 1857h0M2877 1864h8M2924 1864h0M2939 1864h0M2970 1864h15M2824 1871h0M2847 1871h0M2893 1871h0M2931 1871h0M2947 1871h0M2824 1877h0M2870 1877h0M2885 1877h23M2924 1877h0M2816 1884h23M2893 1884h0M2916 1884h0M2793 1891h0M2785 1898h0M2800 1898h0M2816 1898h8M2839 1898h0M2862 1898h8M2808 1904h15M2885 1904h0M2762 1911h0M2777 1911h0M2793 1911h0M2847 1911h8M2870 1911h0M2947 1911h0M2754 1918h0M2770 1918h0M2808 1918h0M2824 1918h8M2862 1918h0M2877 1918h0M2770 1924h0M2808 1924h8M2831 1924h0M2870 1924h0M2731 1931h0M2746 1931h0M2762 1931h0M2777 1931h0M2800 1931h0M2854 1931h0M2870 1931h0M2900 1931h0M2739 1938h0M2800 1938h0M2816 1938h0M2839 1938h0M2739 1944h0M2770 1944h0M2800 1944h0M2824 1944h0M2839 1944h8M2700 1951h8M2746 1951h0M2762 1951h0M2793 1951h0M2808 1951h0M2700 1958h0M2739 1958h8M2762 1958h0M2777 1958h15M2816 1958h8M2723 1964h0M2808 1964h8M2870 1964h0M2693 1971h8M2716 1971h0M2800 1971h8M2893 1971h8M2662 1978h0M2693 1978h0M2708 1978h0M2777 1978h15M2670 1985h8M2693 1985h0M2777 1985h8M2646 1991h0M2670 1991h0M2785 1991h0M2770 1998h0M2623 2005h8M2662 2005h0M2585 2011h0M2600 2011h8M2631 2011h15M2770 2011h0M2608 2018h0M2623 2018h8M2600 2025h0M2562 2032h8M2585 2032h0M2600 2032h8M2562 2038h15M2762 2038h0M2793 2038h0M2562 2045h0M2577 2052h0M2562 2058h0M2716 2058h8M2546 2065h0M2562 2065h0M2708 2065h0M2546 2072h0M2539 2078h0M2539 2085h0M2708 2085h0M2646 2119h0M2477 2159h0" stroke="#000dff" stroke-width="10.0" stroke-linecap="round" fill="none"/><path d="M3078 1717h0M3116 1723h0M3116 1730h0M2931 1743h0M2947 1743h0M2970 1743h0M2985 1743h0M3047 1743h0M3116 1743h0M2924 1750h8M2970 1750h8M2993 1750h0M2924 1757h0M2970 1757h0M2908 1764h0M2978 1764h15M3016 1764h0M2978 1770h0M3008 1770h0M3024 1770h0M3101 1770h0M3008 1777h0M3024 1777h0M2908 1784h0M2924 1784h0M2993 1784h0M3039 1784h0M2908 1790h0M2978 1790h8M3001 1790h0M3039 1790h0M3062 1790h0M2908 1797h0M2993 1797h8M3054 1797h0M2978 1804h0M3001 1804h0M2908 1810h0M2924 1810h0M2993 1810h8M3016 1810h0M3031 1810h0M2916 1817h0M2931 1817h0M2978 1817h0M2900 1824h0M3001 1824h15M3031 1824h0M3047 1824h0M2931 1830h0M2954 1830h0M2970 1830h0M2877 1837h0M2947 1837h8M2970 1837h0M2916 1844h15M2954 1844h0M2978 1844h8M2947 1851h23M2985 1851h0M2854 1857h8M2939 1857h0M2954 1857h0M2970 1857h0M2839 1864h8M2862 1864h0M2839 1871h0M2885 1871h0M2908 1871h8M2877 1877h0M2916 1877h0M2885 1884h0M2900 1884h8M2800 1891h0M2824 1891h8M2854 1891h8M2877 1891h0M2893 1891h0M2854 1898h0M2877 1898h0M2777 1904h0M2847 1904h0M2870 1904h0M2893 1904h0M2785 1911h0M2816 1911h0M2839 1911h0M2839 1918h0M2870 1918h0M2754 1924h8M2785 1924h0M2800 1924h0M2739 1931h0M2746 1938h0M2793 1938h0M2854 1938h0M2785 1944h0M2808 1944h0M2831 1944h0M2770 1951h0M2785 1951h0M2824 1951h0M2900 1951h0M2693 1958h0M2708 1958h0M2685 1964h0M2700 1964h0M2716 1964h0M2731 1964h0M2777 1964h0M2800 1964h0M2685 1971h0M2723 1971h0M2785 1971h0M2646 1978h0M2685 1978h0M2685 1985h0M2654 1991h0M2677 1991h8M2670 1998h0M2770 2005h0M2762 2011h0M2762 2018h0M2592 2025h0M2608 2025h0M2577 2032h0M2592 2032h0M2554 2038h0M2585 2038h8M2739 2038h0M2592 2045h0M2546 2058h0M2693 2078h0M2685 2085h0M2670 2098h0M2662 2105h0M2623 2132h0M2616 2139h0M2477 2166h0" stroke="#0030ff" stroke-width="10.0" stroke-linecap="round" fill="none"/><path d="M3078 1737h0M3093 1743h0M2962 1750h0M3078 1750h0M2931 1757h0M2947 1757h0M2978 1757h0M2993 1757h0M2947 1764h0M2985 1770h0M3085 1777h0M2993 1804h0M2970 1810h0M3001 1817h0M2924 1824h0M2954 1824h0M2978 1824h0M2993 1824h0M2916 1830h8M2962 1830h0M2985 1830h0M2916 1837h0M2931 1837h0M2962 1837h0M2985 1837h0M2862 1844h0M2908 1844h0M2993 1844h0M2931 1851h0M2893 1857h0M2962 1857h0M2985 1857h0M2831 1871h0M2847 1877h8M2877 1884h0M2808 1898h0M2800 1904h0M2831 1904h0M2746 1924h0M2777 1924h0M2754 1938h0M2808 1938h0M2831 1938h0M2777 1944h0M2716 1951h0M2739 1951h0M2739 1964h0M2708 1971h0M2731 1978h0M2631 2025h0M2746 2025h0M2577 2058h0M2700 2078h0M2677 2092h0M2523 2098h0M2485 2132h0M2485 2139h0M2592 2152h0M2569 2166h0M2554 2172h0M2539 2179h0M2516 2186h0" stroke="#0054ff" stroke-width="10.0" stroke-linecap="round" fill="none"/><path d="M2916 1764h0M2962 1764h0M2916 1770h0M2985 1797h0M3078 1797h0M3054 1810h0M2939 1824h0M2816 1918h0M2839 1931h0M2723 1938h0M2716 1958h0M2800 1958h0M2777 1971h0M2716 1978h0M2693 2005h0M2731 2005h0M2654 2011h0M2677 2011h0M2616 2032h0M2723 2052h0M2677 2058h0M2646 2085h0M2531 2092h0M2646 2098h0M2508 2112h0M2577 2159h0M2546 2166h0M2546 2172h0M2500 2186h0" stroke="#0077ff" stroke-width="10.0" stroke-linecap="round" fill="none"/><path d="M2985 1750h0M3078 1764h0M2670 1964h0M2746 1964h0M2723 1978h0M2754 1978h0M2731 1985h0M2770 1985h0M2770 1991h0M2677 1998h0M2670 2005h0M2739 2011h0M2654 2018h0M2670 2018h0M2754 2018h0M2623 2032h0M2639 2032h0M2677 2032h0M2631 2038h0M2600 2058h0M2670 2058h0M2693 2058h0M2577 2065h0M2577 2072h0M2685 2072h0M2546 2085h0M2662 2092h8M2600 2132h0M2554 2166h0M2531 2179h0M2508 2186h0" stroke="#009aff" stroke-width="10.0" stroke-linecap="round" fill="none"/><path d="M2954 1764h0M2970 1770h0M2924 1817h0M2762 1971h0M2700 1985h0M2739 1985h0M2693 1998h0M2723 1998h0M2700 2005h15M2731 2011h0M2646 2018h0M2662 2018h0M2716 2018h0M2731 2018h0M2746 2018h0M2646 2025h0M2631 2032h0M2685 2038h0M2716 2038h0M2600 2045h8M2708 2045h0M2716 2052h0M2700 2065h0M2554 2085h0M2516 2105h0M2516 2112h0M2646 2112h0M2500 2119h0M2492 2125h0M2492 2132h0M2600 2145h0M2585 2152h0M2492 2186h0" stroke="#00bdff" stroke-width="10.0" stroke-linecap="round" fill="none"/><path d="M2970 1777h0M2947 1817h0M2962 1817h0M2754 1964h0M2731 1971h0M2770 1971h0M2739 1978h0M2762 1978h0M2716 1985h0M2746 1985h0M2762 1985h0M2693 1991h0M2708 1991h0M2746 1991h0M2708 1998h0M2731 1998h0M2685 2005h0M2762 2005h0M2754 2011h0M2677 2018h0M2693 2018h0M2723 2018h0M2685 2025h8M2708 2025h0M2646 2032h0M2616 2038h0M2693 2038h0M2723 2038h0M2616 2045h0M2677 2052h0M2585 2058h8M2677 2065h0M2569 2072h0M2654 2078h0M2677 2078h0M2670 2085h0M2554 2092h0M2654 2092h0M2531 2098h0M2639 2098h0M2654 2098h0M2531 2105h8M2639 2105h0M2516 2119h0M2623 2125h0M2592 2139h0M2485 2145h8M2485 2152h0M2485 2159h0M2562 2159h8M2485 2179h0M2508 2179h0" stroke="#00e0ff" stroke-width="10.0" stroke-linecap="round" fill="none"/><path d="M2931 1777h0M2970 1784h0M2954 1810h0M2939 1817h0M2954 1817h0M2739 1971h0M2754 1971h0M2770 1978h0M2739 1991h0M2754 1991h0M2739 1998h0M2754 1998h0M2677 2005h0M2754 2005h0M2708 2011h15M2746 2011h0M2685 2018h0M2700 2018h8M2739 2018h0M2662 2025h0M2685 2032h8M2623 2038h0M2639 2038h0M2708 2038h0M2731 2038h0M2592 2052h0M2685 2052h15M2685 2058h0M2592 2065h0M2670 2065h0M2662 2072h0M2554 2078h8M2662 2078h0M2562 2085h0M2539 2092h0M2646 2092h0M2539 2098h0M2646 2105h0M2531 2112h0M2631 2112h8M2616 2119h8M2639 2119h0M2500 2125h0M2631 2125h0M2500 2132h0M2585 2145h0M2523 2172h0M2539 2172h0" stroke="#04fffb" stroke-width="10.0" stroke-linecap="round" fill="none"/><path d="M2931 1764h0M2970 1804h0M2708 1985h0M2754 1985h0M2716 1991h0M2731 1991h0M2700 1998h0M2716 1998h0M2723 2005h0M2685 2011h0M2670 2025h0M2700 2025h0M2716 2025h8M2739 2025h0M2662 2032h0M2723 2032h0M2739 2032h0M2608 2038h0M2700 2038h0M2631 2045h0M2700 2045h0M2716 2045h8M2600 2052h8M2700 2058h8M2585 2065h0M2677 2072h0M2693 2072h0M2670 2078h0M2685 2078h0M2662 2098h0M2523 2105h0M2623 2112h0M2508 2119h0M2508 2125h0M2608 2139h0M2592 2145h0M2562 2166h0M2531 2172h0M2500 2179h0M2516 2179h8" stroke="#28ffd7" stroke-width="10.0" stroke-linecap="round" fill="none"/><path d="M2962 1777h0M2723 1985h0M2700 1991h0M2762 1991h0M2746 1998h0M2662 2011h8M2700 2011h0M2654 2025h0M2700 2032h0M2731 2032h0M2685 2045h0M2616 2052h0M2708 2052h0M2670 2072h0M2654 2085h8M2677 2085h0M2546 2098h0M2631 2105h0M2523 2112h0M2608 2125h0M2600 2139h0M2577 2152h0M2485 2172h0" stroke="#4bffb4" stroke-width="10.0" stroke-linecap="round" fill="none"/><path d="M2931 1770h8M2962 1770h0M2962 1797h8M2962 1804h0M2723 1991h0M2739 2005h0M2639 2025h0M2670 2032h0M2631 2119h0M2616 2125h0M2608 2132h8M2492 2159h0" stroke="#6eff91" stroke-width="10.0" stroke-linecap="round" fill="none"/><path d="M2954 1770h0M2962 1810h0M2770 1964h0M2685 1998h0M2746 2005h0M2693 2011h0M2623 2045h0M2569 2078h0M2654 2105h0M2569 2152h0" stroke="#91ff6e" stroke-width="10.0" stroke-linecap="round" fill="none"/><path d="M2962 1790h0M2762 1964h0" stroke="#b4ff4b" stroke-width="10.0" stroke-linecap="round" fill="none"/><path d="M2947 1770h0M2970 1790h0M2685 2065h0M2654 2072h0M2639 2092h0M2500 2139h0" stroke="#d7ff28" stroke-width="10.0" stroke-linecap="round" fill="none"/><path d="M2939 1764h0M2939 1777h0M2746 1971h0M2693 2045h0M2608 2058h0M2562 2092h0M2608 2119h0M2492 2139h0M2539 2166h0" stroke="#fbff04" stroke-width="10.0" stroke-linecap="round" fill="none"/><path d="M2931 1810h0M2639 2045h0M2677 2045h0M2623 2052h0M2670 2052h0M2585 2072h0M2577 2078h0M2562 2152h0M2554 2159h0M2523 2166h0M2492 2172h0M2492 2179h0" stroke="#ffe000" stroke-width="10.0" stroke-linecap="round" fill="none"/><path d="M2931 1784h0M2962 1784h0M2677 2038h0M2631 2052h0M2516 2172h0" stroke="#ffbd00" stroke-width="10.0" stroke-linecap="round" fill="none"/><path d="M2646 2038h8M2616 2058h0M2654 2065h0M2646 2072h0M2516 2132h0" stroke="#ff9a00" stroke-width="10.0" stroke-linecap="round" fill="none"/><path d="M2931 1797h0M2931 1804h0M2662 2065h0M2631 2098h0M2585 2139h0M2577 2145h0" stroke="#ff7700" stroke-width="10.0" stroke-linecap="round" fill="none"/><path d="M2523 2119h0" stroke="#ff5400" stroke-width="10.0" stroke-linecap="round" fill="none"/><path d="M2931 1790h0M2639 2078h0M2569 2085h0M2554 2098h0M2539 2112h0M2577 2139h0M2500 2145h0M2492 2152h0M2508 2172h0" stroke="#ff3000" stroke-width="10.0" stroke-linecap="round" fill="none"/><path d="M2646 2045h0M2662 2052h0M2662 2058h0M2600 2065h0M2523 2125h0M2554 2152h0M2492 2166h0" stroke="#ff0d00" stroke-width="10.0" stroke-linecap="round" fill="none"/><path d="M2646 2065h0M2631 2085h0M2631 2092h0M2531 2119h0M2592 2132h0M2546 2159h0" stroke="#e90000" stroke-width="10.0" stroke-linecap="round" fill="none"/><path d="M2670 2045h0M2654 2058h0M2639 2085h0M2623 2098h0" stroke="#c60000" stroke-width="10.0" stroke-linecap="round" fill="none"/><path d="M2654 2045h0M2646 2078h0M2516 2125h0" stroke="#a30000" stroke-width="10.0" stroke-linecap="round" fill="none"/><path d="M2947 1777h8M2939 1784h15M2939 1790h15M2939 1797h15M2939 1804h15M2939 1810h8M2662 2038h8M2662 2045h0M2639 2052h15M2623 2058h23M2608 2065h31M2592 2072h46M2585 2078h46M2577 2085h46M2569 2092h54M2562 2098h54M2546 2105h77M2546 2112h69M2539 2119h62M2531 2125h69M2508 2132h0M2523 2132h62M2508 2139h62M2508 2145h62M2500 2152h46M2500 2159h38M2500 2166h15M2531 2166h0M2500 2172h0" stroke="#800000" stroke-width="10.0" stroke-linecap="round" fill="none"/>
</g>
<line x1="2438.5" y1="2232.5" x2="3132.0" y2="1630.5" stroke="#c8283a" stroke-opacity="0.8" stroke-width="4.2" clip-path="url(#c23)"/>
<path d="M2515.6 2232.5v-9M2515.6 1630.5v9M2669.7 2232.5v-9M2669.7 1630.5v9M2823.8 2232.5v-9M2823.8 1630.5v9M2977.9 2232.5v-9M2977.9 1630.5v9M2438.5 2165.6h9M3132.0 2165.6h-9M2438.5 2031.8h9M3132.0 2031.8h-9M2438.5 1898.1h9M3132.0 1898.1h-9M2438.5 1764.3h9M3132.0 1764.3h-9" stroke="#cfcfcf" stroke-width="2" fill="none"/>
<path d="M2438.5 1630.5H3132.0" stroke="#dcdcdc" stroke-width="3"/>
<path d="M3132.0 1630.5V2232.5" stroke="#d8d8d8" stroke-width="3"/>
<path d="M2438.5 1629.0V2232.5" stroke="#a0a0a0" stroke-width="3"/>
<path d="M2437.0 2232.5H3133.0" stroke="#808080" stroke-width="3"/>
<text x="2515.6" y="2282.5" font-size="37" fill="#333" text-anchor="middle">0</text>
<text x="2669.7" y="2282.5" font-size="37" fill="#333" text-anchor="middle">10</text>
<text x="2823.8" y="2282.5" font-size="37" fill="#333" text-anchor="middle">20</text>
<text x="2977.9" y="2282.5" font-size="37" fill="#333" text-anchor="middle">30</text>
<text x="3132.0" y="2282.5" font-size="37" fill="#333" text-anchor="middle">40</text>
<text x="2478.5" y="1701.5" font-size="58" fill="#000">(l)</text>
<text x="471.1" y="778.0" font-size="39" fill="#333" text-anchor="middle">D<tspan font-size="32" dy="20">0</tspan><tspan dy="-20">(mm)</tspan></text>
<text x="1245.0" y="778.0" font-size="39" fill="#333" text-anchor="middle">D<tspan font-size="32" dy="20">0</tspan><tspan dy="-20">(mm)</tspan></text>
<text x="2017.0" y="778.0" font-size="39" fill="#333" text-anchor="middle">D<tspan font-size="32" dy="20">0</tspan><tspan dy="-20">(mm)</tspan></text>
<text x="2790.2" y="778.0" font-size="39" fill="#333" text-anchor="middle">D<tspan font-size="32" dy="20">0</tspan><tspan dy="-20">(mm)</tspan></text>
<text transform="translate(53,386.5) rotate(-90)" font-size="39" fill="#333" text-anchor="middle">LSTM-D<tspan font-size="32" dy="20">0</tspan><tspan dy="-20">(mm)</tspan></text>
<text x="472.8" y="1545.6" font-size="39" fill="#333" text-anchor="middle">log<tspan font-size="32" dy="20">10</tspan><tspan dy="-20">[N</tspan><tspan font-size="32" dy="20">w</tspan><tspan dy="-20">(mm</tspan><tspan font-size="32" dy="-16">-1</tspan><tspan dy="16"> m</tspan><tspan font-size="32" dy="-16">-3</tspan><tspan dy="16">)]</tspan></text>
<text x="1246.0" y="1545.6" font-size="39" fill="#333" text-anchor="middle">log<tspan font-size="32" dy="20">10</tspan><tspan dy="-20">[N</tspan><tspan font-size="32" dy="20">w</tspan><tspan dy="-20">(mm</tspan><tspan font-size="32" dy="-16">-1</tspan><tspan dy="16"> m</tspan><tspan font-size="32" dy="-16">-3</tspan><tspan dy="16">)]</tspan></text>
<text x="2018.0" y="1545.6" font-size="39" fill="#333" text-anchor="middle">log<tspan font-size="32" dy="20">10</tspan><tspan dy="-20">[N</tspan><tspan font-size="32" dy="20">w</tspan><tspan dy="-20">(mm</tspan><tspan font-size="32" dy="-16">-1</tspan><tspan dy="16"> m</tspan><tspan font-size="32" dy="-16">-3</tspan><tspan dy="16">)]</tspan></text>
<text x="2791.6" y="1545.6" font-size="39" fill="#333" text-anchor="middle">log<tspan font-size="32" dy="20">10</tspan><tspan dy="-20">[N</tspan><tspan font-size="32" dy="20">w</tspan><tspan dy="-20">(mm</tspan><tspan font-size="32" dy="-16">-1</tspan><tspan dy="16"> m</tspan><tspan font-size="32" dy="-16">-3</tspan><tspan dy="16">)]</tspan></text>
<text transform="translate(55,1147.0) rotate(-90)" font-size="39" fill="#333" text-anchor="middle">LSTM-log<tspan font-size="32" dy="20">10</tspan><tspan dy="-20">[N</tspan><tspan font-size="32" dy="20">w</tspan><tspan dy="-20">(mm</tspan><tspan font-size="32" dy="-16">-1</tspan><tspan dy="16"> m</tspan><tspan font-size="32" dy="-16">-3</tspan><tspan dy="16">)]</tspan></text>
<text x="458.2" y="2334.5" font-size="39" fill="#000" text-anchor="middle">μ</text>
<text x="1232.2" y="2334.5" font-size="39" fill="#000" text-anchor="middle">μ</text>
<text x="2004.8" y="2334.5" font-size="39" fill="#000" text-anchor="middle">μ</text>
<text x="2777.2" y="2334.5" font-size="39" fill="#000" text-anchor="middle">μ</text>
<text transform="translate(49,1931.5) rotate(-90)" font-size="39" fill="#333" text-anchor="middle">LSTM-<tspan font-family="Liberation Serif, serif" font-style="italic">μ</tspan></text>
<rect x="3172" y="94.0" width="38" height="580.0" fill="url(#jet)"/>
<rect x="3172" y="94.0" width="38" height="580.0" fill="none" stroke="#444" stroke-opacity="0.35" stroke-width="1"/>
<text x="3222" y="685.7" font-size="33" fill="#333">0</text>
<text x="3222" y="589.0" font-size="33" fill="#333">5</text>
<text x="3222" y="492.4" font-size="33" fill="#333">10</text>
<text x="3222" y="395.7" font-size="33" fill="#333">15</text>
<text x="3222" y="299.0" font-size="33" fill="#333">20</text>
<text x="3222" y="202.4" font-size="33" fill="#333">25</text>
<text x="3222" y="105.7" font-size="33" fill="#333">30</text>
<text x="3135" y="74.4" font-size="32.5" fill="#222">number</text>
<rect x="3172" y="860.5" width="38" height="568.5" fill="url(#jet)"/>
<rect x="3172" y="860.5" width="38" height="568.5" fill="none" stroke="#444" stroke-opacity="0.35" stroke-width="1"/>
<text x="3222" y="1440.7" font-size="33" fill="#333">0</text>
<text x="3222" y="1346.0" font-size="33" fill="#333">5</text>
<text x="3222" y="1251.2" font-size="33" fill="#333">10</text>
<text x="3222" y="1156.5" font-size="33" fill="#333">15</text>
<text x="3222" y="1061.7" font-size="33" fill="#333">20</text>
<text x="3222" y="967.0" font-size="33" fill="#333">25</text>
<text x="3222" y="872.2" font-size="33" fill="#333">30</text>
<text x="3135" y="841.2" font-size="32.5" fill="#222">number</text>
<rect x="3172" y="1630.0" width="38" height="598.0" fill="url(#jet)"/>
<rect x="3172" y="1630.0" width="38" height="598.0" fill="none" stroke="#444" stroke-opacity="0.35" stroke-width="1"/>
<text x="3222" y="2239.7" font-size="33" fill="#333">0</text>
<text x="3222" y="2140.0" font-size="33" fill="#333">5</text>
<text x="3222" y="2040.4" font-size="33" fill="#333">10</text>
<text x="3222" y="1940.7" font-size="33" fill="#333">15</text>
<text x="3222" y="1841.0" font-size="33" fill="#333">20</text>
<text x="3222" y="1741.4" font-size="33" fill="#333">25</text>
<text x="3222" y="1641.7" font-size="33" fill="#333">30</text>
<text x="3135" y="1611.2" font-size="32.5" fill="#222">number</text>
</svg></body></html>
